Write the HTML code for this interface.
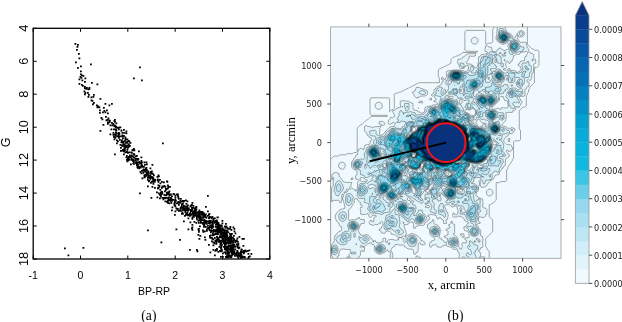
<!DOCTYPE html>
<html><head><meta charset="utf-8"><title>Figure</title>
<style>html,body{margin:0;padding:0;background:#fff;width:622px;height:322px;overflow:hidden}svg{display:block}</style>
</head><body>
<svg width="622" height="322" viewBox="0 0 622 322">
<defs><clipPath id="rc"><rect x="330.6" y="26.9" width="230.4" height="231.4"/></clipPath></defs>
<style>
.ls{font-family:"Liberation Sans",Arial,sans-serif;font-size:10.5px;fill:#000}
.dj{font-family:"DejaVu Sans",sans-serif;font-size:8.2px;fill:#222}
.ser{font-family:"Liberation Serif","Times New Roman",serif;font-size:12.6px;fill:#000}
</style>
<path d="M74.5 43h1.8v1.8h-1.8zM77 44h1.8v1.8h-1.8zM76.5 46h1.8v1.8h-1.8zM76 49h1.8v1.8h-1.8zM78 53h1.8v1.8h-1.8zM78.5 57.5h1.8v1.8h-1.8zM75 61.5h1.8v1.8h-1.8zM90 63.5h1.8v1.8h-1.8zM80 65.5h1.8v1.8h-1.8zM77 67h1.8v1.8h-1.8zM80 70.5h1.8v1.8h-1.8zM80 73.5h1.8v1.8h-1.8zM81 74.5h1.8v1.8h-1.8zM82.5 75h1.8v1.8h-1.8zM79.5 76h1.8v1.8h-1.8zM80.5 77h1.8v1.8h-1.8zM84.5 77.5h1.8v1.8h-1.8zM78.5 78.5h1.8v1.8h-1.8zM81.5 79.5h1.8v1.8h-1.8zM84 81h1.8v1.8h-1.8zM91 82h1.8v1.8h-1.8zM96.5 83.5h1.8v1.8h-1.8zM78.5 83h1.8v1.8h-1.8zM81 84h1.8v1.8h-1.8zM82 85h1.8v1.8h-1.8zM84 86h1.8v1.8h-1.8zM86 87h1.8v1.8h-1.8zM88.5 87h1.8v1.8h-1.8zM87.5 88.5h1.8v1.8h-1.8zM84 87.5h1.8v1.8h-1.8zM85.5 88h1.8v1.8h-1.8zM88.5 88h1.8v1.8h-1.8zM83.5 90.5h1.8v1.8h-1.8zM84.5 92h1.8v1.8h-1.8zM84 93.5h1.8v1.8h-1.8zM87 92h1.8v1.8h-1.8zM88 94h1.8v1.8h-1.8zM87.5 96h1.8v1.8h-1.8zM90.5 96.5h1.8v1.8h-1.8zM93 94h1.8v1.8h-1.8zM92.5 96h1.8v1.8h-1.8zM90.5 99.5h1.8v1.8h-1.8zM91.5 100h1.8v1.8h-1.8zM93 102h1.8v1.8h-1.8zM92 103.5h1.8v1.8h-1.8zM99.5 98h1.8v1.8h-1.8zM96 104.5h1.8v1.8h-1.8zM97.5 105.5h1.8v1.8h-1.8zM96.5 106.5h1.8v1.8h-1.8zM98.5 106.5h1.8v1.8h-1.8zM104.5 103h1.8v1.8h-1.8zM103 107h1.8v1.8h-1.8zM103.5 110h1.8v1.8h-1.8zM99 109.5h1.8v1.8h-1.8zM102 111.5h1.8v1.8h-1.8zM104.5 111.5h1.8v1.8h-1.8zM106 109.5h1.8v1.8h-1.8zM99 112h1.8v1.8h-1.8zM107 112.5h1.8v1.8h-1.8zM105 116h1.8v1.8h-1.8zM108.5 104.5h1.8v1.8h-1.8zM112.5 123h1.8v1.8h-1.8zM113.5 125.5h1.8v1.8h-1.8zM102.5 124h1.8v1.8h-1.8zM106.5 119h1.8v1.8h-1.8zM109 120h1.8v1.8h-1.8zM114.5 125h1.8v1.8h-1.8zM100.5 117h1.8v1.8h-1.8zM111.5 124.5h1.8v1.8h-1.8zM109.5 124.5h1.8v1.8h-1.8zM107 121.5h1.8v1.8h-1.8zM113.5 120h1.8v1.8h-1.8zM105.5 119.5h1.8v1.8h-1.8zM108.5 119.5h1.8v1.8h-1.8zM114 121h1.8v1.8h-1.8zM108.5 121.5h1.8v1.8h-1.8zM111 122h1.8v1.8h-1.8zM115.5 126h1.8v1.8h-1.8zM113.5 124.5h1.8v1.8h-1.8zM107 123h1.8v1.8h-1.8zM115.5 126h1.8v1.8h-1.8zM114 119h1.8v1.8h-1.8zM101.5 118.5h1.8v1.8h-1.8zM115.5 122.5h1.8v1.8h-1.8zM107.5 117.5h1.8v1.8h-1.8zM118 137h1.8v1.8h-1.8zM110.5 128.5h1.8v1.8h-1.8zM127.5 140h1.8v1.8h-1.8zM122.5 142h1.8v1.8h-1.8zM126.5 141h1.8v1.8h-1.8zM120 135.5h1.8v1.8h-1.8zM113.5 128.5h1.8v1.8h-1.8zM115.5 129.5h1.8v1.8h-1.8zM120.5 141.5h1.8v1.8h-1.8zM119.5 135.5h1.8v1.8h-1.8zM115 129h1.8v1.8h-1.8zM121 141h1.8v1.8h-1.8zM114.5 137h1.8v1.8h-1.8zM116.5 135.5h1.8v1.8h-1.8zM125.5 132.5h1.8v1.8h-1.8zM115.5 133h1.8v1.8h-1.8zM99.5 130h1.8v1.8h-1.8zM117 127h1.8v1.8h-1.8zM128.5 140.5h1.8v1.8h-1.8zM112.5 134h1.8v1.8h-1.8zM118.5 135.5h1.8v1.8h-1.8zM115 131.5h1.8v1.8h-1.8zM113.5 138.5h1.8v1.8h-1.8zM118.5 126.5h1.8v1.8h-1.8zM118 132.5h1.8v1.8h-1.8zM115.5 127h1.8v1.8h-1.8zM113 128.5h1.8v1.8h-1.8zM125 142h1.8v1.8h-1.8zM118 137h1.8v1.8h-1.8zM118 133.5h1.8v1.8h-1.8zM114.5 135h1.8v1.8h-1.8zM117 140.5h1.8v1.8h-1.8zM123.5 132h1.8v1.8h-1.8zM118 136h1.8v1.8h-1.8zM122 137.5h1.8v1.8h-1.8zM118 132h1.8v1.8h-1.8zM117.5 135h1.8v1.8h-1.8zM119 139h1.8v1.8h-1.8zM125.5 141.5h1.8v1.8h-1.8zM115 129h1.8v1.8h-1.8zM122 141.5h1.8v1.8h-1.8zM115 126.5h1.8v1.8h-1.8zM126.5 138.5h1.8v1.8h-1.8zM124.5 139.5h1.8v1.8h-1.8zM118 128.5h1.8v1.8h-1.8zM116 133h1.8v1.8h-1.8zM116 139.5h1.8v1.8h-1.8zM119.5 126.5h1.8v1.8h-1.8zM124.5 136.5h1.8v1.8h-1.8zM121 139.5h1.8v1.8h-1.8zM121.5 134.5h1.8v1.8h-1.8zM124.5 138h1.8v1.8h-1.8zM120.5 130h1.8v1.8h-1.8zM120.5 129.5h1.8v1.8h-1.8zM116 132.5h1.8v1.8h-1.8zM123 129h1.8v1.8h-1.8zM112.5 132h1.8v1.8h-1.8zM126.5 142h1.8v1.8h-1.8zM122 135.5h1.8v1.8h-1.8zM121.5 132h1.8v1.8h-1.8zM125.5 130.5h1.8v1.8h-1.8zM129.5 142h1.8v1.8h-1.8zM114 133.5h1.8v1.8h-1.8zM116 142.5h1.8v1.8h-1.8zM123 135h1.8v1.8h-1.8zM115 135h1.8v1.8h-1.8zM122.5 141h1.8v1.8h-1.8zM125 138.5h1.8v1.8h-1.8zM113 136h1.8v1.8h-1.8zM109.5 133.5h1.8v1.8h-1.8zM123.5 140.5h1.8v1.8h-1.8zM118.5 133h1.8v1.8h-1.8zM130.5 156h1.8v1.8h-1.8zM123 153.5h1.8v1.8h-1.8zM129 154.5h1.8v1.8h-1.8zM130.5 159h1.8v1.8h-1.8zM135 158h1.8v1.8h-1.8zM140.5 156.5h1.8v1.8h-1.8zM132 155.5h1.8v1.8h-1.8zM124 149.5h1.8v1.8h-1.8zM114 153.5h1.8v1.8h-1.8zM125 146h1.8v1.8h-1.8zM130 155.5h1.8v1.8h-1.8zM126 155h1.8v1.8h-1.8zM131 154.5h1.8v1.8h-1.8zM123 150h1.8v1.8h-1.8zM131.5 149h1.8v1.8h-1.8zM132 149.5h1.8v1.8h-1.8zM128 143.5h1.8v1.8h-1.8zM129.5 156.5h1.8v1.8h-1.8zM130.5 151.5h1.8v1.8h-1.8zM126.5 149h1.8v1.8h-1.8zM127 152h1.8v1.8h-1.8zM129 154.5h1.8v1.8h-1.8zM122 149h1.8v1.8h-1.8zM125.5 156.5h1.8v1.8h-1.8zM135.5 158h1.8v1.8h-1.8zM126.5 149h1.8v1.8h-1.8zM125.5 145h1.8v1.8h-1.8zM135 155.5h1.8v1.8h-1.8zM126 159h1.8v1.8h-1.8zM122 145h1.8v1.8h-1.8zM131 154.5h1.8v1.8h-1.8zM133 156.5h1.8v1.8h-1.8zM131 158h1.8v1.8h-1.8zM129 145h1.8v1.8h-1.8zM125 144.5h1.8v1.8h-1.8zM128 159h1.8v1.8h-1.8zM121 144.5h1.8v1.8h-1.8zM128.5 145.5h1.8v1.8h-1.8zM131 152h1.8v1.8h-1.8zM120 150h1.8v1.8h-1.8zM136 155h1.8v1.8h-1.8zM127.5 146h1.8v1.8h-1.8zM137.5 158h1.8v1.8h-1.8zM124 146.5h1.8v1.8h-1.8zM129.5 155.5h1.8v1.8h-1.8zM119.5 144h1.8v1.8h-1.8zM138 150.5h1.8v1.8h-1.8zM123 143.5h1.8v1.8h-1.8zM133 148h1.8v1.8h-1.8zM124 148h1.8v1.8h-1.8zM131 154.5h1.8v1.8h-1.8zM121 150h1.8v1.8h-1.8zM122.5 143.5h1.8v1.8h-1.8zM137 159h1.8v1.8h-1.8zM127 157.5h1.8v1.8h-1.8zM136.5 158h1.8v1.8h-1.8zM127 147h1.8v1.8h-1.8zM123 149h1.8v1.8h-1.8zM123.5 146.5h1.8v1.8h-1.8zM123 145h1.8v1.8h-1.8zM123.5 143.5h1.8v1.8h-1.8zM126 151h1.8v1.8h-1.8zM121.5 145h1.8v1.8h-1.8zM124 145.5h1.8v1.8h-1.8zM127.5 157h1.8v1.8h-1.8zM123 150.5h1.8v1.8h-1.8zM125 146h1.8v1.8h-1.8zM133.5 154h1.8v1.8h-1.8zM120 147h1.8v1.8h-1.8zM128.5 151.5h1.8v1.8h-1.8zM123.5 147.5h1.8v1.8h-1.8zM124.5 151.5h1.8v1.8h-1.8zM133 153h1.8v1.8h-1.8zM126.5 151.5h1.8v1.8h-1.8zM133.5 149.5h1.8v1.8h-1.8zM128 156h1.8v1.8h-1.8zM133.5 157h1.8v1.8h-1.8zM124.5 145.5h1.8v1.8h-1.8zM122 145h1.8v1.8h-1.8zM127 144.5h1.8v1.8h-1.8zM132.5 159h1.8v1.8h-1.8zM135 158.5h1.8v1.8h-1.8zM125.5 146.5h1.8v1.8h-1.8zM128.5 158.5h1.8v1.8h-1.8zM125 146h1.8v1.8h-1.8zM145 167.5h1.8v1.8h-1.8zM143.5 161.5h1.8v1.8h-1.8zM140 166.5h1.8v1.8h-1.8zM144 170h1.8v1.8h-1.8zM136 161.5h1.8v1.8h-1.8zM141 161.5h1.8v1.8h-1.8zM136 162h1.8v1.8h-1.8zM144 164h1.8v1.8h-1.8zM145.5 175h1.8v1.8h-1.8zM133 159.5h1.8v1.8h-1.8zM135.5 162.5h1.8v1.8h-1.8zM139 162h1.8v1.8h-1.8zM145.5 167h1.8v1.8h-1.8zM127.5 159.5h1.8v1.8h-1.8zM137 167h1.8v1.8h-1.8zM137 162h1.8v1.8h-1.8zM130 163.5h1.8v1.8h-1.8zM140.5 172.5h1.8v1.8h-1.8zM140.5 162.5h1.8v1.8h-1.8zM145.5 169.5h1.8v1.8h-1.8zM142 166h1.8v1.8h-1.8zM138.5 166h1.8v1.8h-1.8zM151 172.5h1.8v1.8h-1.8zM135 162h1.8v1.8h-1.8zM153 174.5h1.8v1.8h-1.8zM144.5 174h1.8v1.8h-1.8zM141 170h1.8v1.8h-1.8zM135 160h1.8v1.8h-1.8zM141.5 170h1.8v1.8h-1.8zM146 169h1.8v1.8h-1.8zM147.5 172h1.8v1.8h-1.8zM133 163h1.8v1.8h-1.8zM149.5 175h1.8v1.8h-1.8zM147 174h1.8v1.8h-1.8zM138.5 161h1.8v1.8h-1.8zM136 164.5h1.8v1.8h-1.8zM132 160h1.8v1.8h-1.8zM152 173h1.8v1.8h-1.8zM157.5 174.5h1.8v1.8h-1.8zM158 175.5h1.8v1.8h-1.8zM144 169.5h1.8v1.8h-1.8zM145.5 170h1.8v1.8h-1.8zM151 170.5h1.8v1.8h-1.8zM142.5 168.5h1.8v1.8h-1.8zM145.5 175h1.8v1.8h-1.8zM144 169h1.8v1.8h-1.8zM140.5 165h1.8v1.8h-1.8zM138.5 167.5h1.8v1.8h-1.8zM127 159.5h1.8v1.8h-1.8zM139.5 171h1.8v1.8h-1.8zM147.5 170.5h1.8v1.8h-1.8zM137 166h1.8v1.8h-1.8zM147 173.5h1.8v1.8h-1.8zM147 171.5h1.8v1.8h-1.8zM141.5 165h1.8v1.8h-1.8zM133 160.5h1.8v1.8h-1.8zM137.5 161.5h1.8v1.8h-1.8zM132.5 162.5h1.8v1.8h-1.8zM137 164h1.8v1.8h-1.8zM136.5 166.5h1.8v1.8h-1.8zM143.5 174.5h1.8v1.8h-1.8zM137.5 164h1.8v1.8h-1.8zM145.5 174h1.8v1.8h-1.8zM143.5 170.5h1.8v1.8h-1.8zM146.5 173.5h1.8v1.8h-1.8zM143 166h1.8v1.8h-1.8zM127 159.5h1.8v1.8h-1.8zM142.5 172h1.8v1.8h-1.8zM136 163.5h1.8v1.8h-1.8zM145.5 161.5h1.8v1.8h-1.8zM150.5 172.5h1.8v1.8h-1.8zM144.5 170.5h1.8v1.8h-1.8zM139.5 162.5h1.8v1.8h-1.8zM146 163.5h1.8v1.8h-1.8zM148 174.5h1.8v1.8h-1.8zM136 163.5h1.8v1.8h-1.8zM150 171h1.8v1.8h-1.8zM137.5 161.5h1.8v1.8h-1.8zM149.5 172.5h1.8v1.8h-1.8zM133 161h1.8v1.8h-1.8zM149.5 167.5h1.8v1.8h-1.8zM140.5 160h1.8v1.8h-1.8zM144.5 168.5h1.8v1.8h-1.8zM150 173h1.8v1.8h-1.8zM126.5 160.5h1.8v1.8h-1.8zM140.5 163.5h1.8v1.8h-1.8zM145.5 172h1.8v1.8h-1.8zM145 169h1.8v1.8h-1.8zM141 164.5h1.8v1.8h-1.8zM142.5 169.5h1.8v1.8h-1.8zM161 187h1.8v1.8h-1.8zM159.5 189h1.8v1.8h-1.8zM154 179.5h1.8v1.8h-1.8zM152.5 179.5h1.8v1.8h-1.8zM148 180.5h1.8v1.8h-1.8zM154 180.5h1.8v1.8h-1.8zM165 188h1.8v1.8h-1.8zM150 182h1.8v1.8h-1.8zM153 181h1.8v1.8h-1.8zM162 186h1.8v1.8h-1.8zM147 179h1.8v1.8h-1.8zM152.5 177.5h1.8v1.8h-1.8zM154 187h1.8v1.8h-1.8zM166 188h1.8v1.8h-1.8zM166 180.5h1.8v1.8h-1.8zM169 186h1.8v1.8h-1.8zM149.5 176.5h1.8v1.8h-1.8zM159.5 182.5h1.8v1.8h-1.8zM158.5 185h1.8v1.8h-1.8zM154 180h1.8v1.8h-1.8zM163 181.5h1.8v1.8h-1.8zM151.5 186h1.8v1.8h-1.8zM163.5 185.5h1.8v1.8h-1.8zM152 178h1.8v1.8h-1.8zM167 187.5h1.8v1.8h-1.8zM152 177h1.8v1.8h-1.8zM156 191.5h1.8v1.8h-1.8zM154.5 179h1.8v1.8h-1.8zM157.5 180h1.8v1.8h-1.8zM153 179h1.8v1.8h-1.8zM166 192h1.8v1.8h-1.8zM151.5 180.5h1.8v1.8h-1.8zM147 185.5h1.8v1.8h-1.8zM168 192h1.8v1.8h-1.8zM166.5 191.5h1.8v1.8h-1.8zM151.5 176.5h1.8v1.8h-1.8zM157.5 184.5h1.8v1.8h-1.8zM163.5 185.5h1.8v1.8h-1.8zM157 187.5h1.8v1.8h-1.8zM151 181h1.8v1.8h-1.8zM153.5 181h1.8v1.8h-1.8zM156.5 176h1.8v1.8h-1.8zM143.5 176.5h1.8v1.8h-1.8zM163.5 185h1.8v1.8h-1.8zM148 177h1.8v1.8h-1.8zM147 179h1.8v1.8h-1.8zM161 181h1.8v1.8h-1.8zM150.5 177h1.8v1.8h-1.8zM144 176h1.8v1.8h-1.8zM161 191h1.8v1.8h-1.8zM152.5 183h1.8v1.8h-1.8zM159 179h1.8v1.8h-1.8zM157.5 187.5h1.8v1.8h-1.8zM149.5 176h1.8v1.8h-1.8zM157 179.5h1.8v1.8h-1.8zM160 191.5h1.8v1.8h-1.8zM164 190.5h1.8v1.8h-1.8zM158.5 186h1.8v1.8h-1.8zM148.5 177h1.8v1.8h-1.8zM152 181h1.8v1.8h-1.8zM151 176h1.8v1.8h-1.8zM153 179.5h1.8v1.8h-1.8zM147.5 176h1.8v1.8h-1.8zM149.5 178h1.8v1.8h-1.8zM164.5 186h1.8v1.8h-1.8zM152.5 177.5h1.8v1.8h-1.8zM157 178.5h1.8v1.8h-1.8zM168.5 190.5h1.8v1.8h-1.8zM157.5 181h1.8v1.8h-1.8zM166.5 181h1.8v1.8h-1.8zM147 177h1.8v1.8h-1.8zM165 189h1.8v1.8h-1.8zM157.5 187h1.8v1.8h-1.8zM167 184.5h1.8v1.8h-1.8zM167.5 186h1.8v1.8h-1.8zM141.5 177.5h1.8v1.8h-1.8zM148.5 180h1.8v1.8h-1.8zM161.5 185.5h1.8v1.8h-1.8zM167 191.5h1.8v1.8h-1.8zM165 189h1.8v1.8h-1.8zM173.5 204h1.8v1.8h-1.8zM186.5 200.5h1.8v1.8h-1.8zM171.5 206.5h1.8v1.8h-1.8zM171 200h1.8v1.8h-1.8zM175 200h1.8v1.8h-1.8zM165 197h1.8v1.8h-1.8zM182.5 207.5h1.8v1.8h-1.8zM168 197.5h1.8v1.8h-1.8zM181 203.5h1.8v1.8h-1.8zM171 199h1.8v1.8h-1.8zM175.5 207.5h1.8v1.8h-1.8zM184 208h1.8v1.8h-1.8zM158 192.5h1.8v1.8h-1.8zM186 208.5h1.8v1.8h-1.8zM179.5 202h1.8v1.8h-1.8zM169 193.5h1.8v1.8h-1.8zM180.5 200.5h1.8v1.8h-1.8zM161 193h1.8v1.8h-1.8zM182.5 201h1.8v1.8h-1.8zM174.5 195h1.8v1.8h-1.8zM178 198h1.8v1.8h-1.8zM177.5 197h1.8v1.8h-1.8zM177 202h1.8v1.8h-1.8zM184 205.5h1.8v1.8h-1.8zM194 207.5h1.8v1.8h-1.8zM159 197.5h1.8v1.8h-1.8zM178 201.5h1.8v1.8h-1.8zM160 192.5h1.8v1.8h-1.8zM167.5 198.5h1.8v1.8h-1.8zM177 208h1.8v1.8h-1.8zM159 194h1.8v1.8h-1.8zM186.5 206.5h1.8v1.8h-1.8zM185.5 203h1.8v1.8h-1.8zM174.5 197h1.8v1.8h-1.8zM183 205h1.8v1.8h-1.8zM166 197h1.8v1.8h-1.8zM181.5 207h1.8v1.8h-1.8zM167.5 193.5h1.8v1.8h-1.8zM163.5 194h1.8v1.8h-1.8zM187 204.5h1.8v1.8h-1.8zM185 199.5h1.8v1.8h-1.8zM165.5 194.5h1.8v1.8h-1.8zM164.5 200.5h1.8v1.8h-1.8zM161.5 197h1.8v1.8h-1.8zM166 201h1.8v1.8h-1.8zM174 204.5h1.8v1.8h-1.8zM195.5 206.5h1.8v1.8h-1.8zM166 193h1.8v1.8h-1.8zM167 202h1.8v1.8h-1.8zM194.5 208.5h1.8v1.8h-1.8zM182 200h1.8v1.8h-1.8zM181 205h1.8v1.8h-1.8zM160 194h1.8v1.8h-1.8zM184.5 206.5h1.8v1.8h-1.8zM170.5 202h1.8v1.8h-1.8zM191.5 207h1.8v1.8h-1.8zM192.5 205h1.8v1.8h-1.8zM195 206.5h1.8v1.8h-1.8zM172.5 193h1.8v1.8h-1.8zM191 204h1.8v1.8h-1.8zM171 195.5h1.8v1.8h-1.8zM156.5 196.5h1.8v1.8h-1.8zM167.5 197.5h1.8v1.8h-1.8zM179.5 202h1.8v1.8h-1.8zM176 202.5h1.8v1.8h-1.8zM194.5 207.5h1.8v1.8h-1.8zM161.5 192.5h1.8v1.8h-1.8zM160 195.5h1.8v1.8h-1.8zM180 198h1.8v1.8h-1.8zM189.5 205.5h1.8v1.8h-1.8zM177.5 201h1.8v1.8h-1.8zM181.5 200.5h1.8v1.8h-1.8zM190.5 204.5h1.8v1.8h-1.8zM182 203h1.8v1.8h-1.8zM150.5 197h1.8v1.8h-1.8zM160 193.5h1.8v1.8h-1.8zM170 200h1.8v1.8h-1.8zM180 206.5h1.8v1.8h-1.8zM179 202h1.8v1.8h-1.8zM172.5 193h1.8v1.8h-1.8zM169 199.5h1.8v1.8h-1.8zM162.5 198.5h1.8v1.8h-1.8zM191.5 202h1.8v1.8h-1.8zM174 202h1.8v1.8h-1.8zM180 208h1.8v1.8h-1.8zM170.5 198h1.8v1.8h-1.8zM174.5 199h1.8v1.8h-1.8zM173.5 202.5h1.8v1.8h-1.8zM192.5 207h1.8v1.8h-1.8zM178 204h1.8v1.8h-1.8zM167 200h1.8v1.8h-1.8zM186 205.5h1.8v1.8h-1.8zM179.5 200h1.8v1.8h-1.8zM185 208h1.8v1.8h-1.8zM170 197h1.8v1.8h-1.8zM164.5 194.5h1.8v1.8h-1.8zM205 206h1.8v1.8h-1.8zM162.5 197h1.8v1.8h-1.8zM195.5 206h1.8v1.8h-1.8zM177.5 202h1.8v1.8h-1.8zM174 200.5h1.8v1.8h-1.8zM170 193.5h1.8v1.8h-1.8zM190 205h1.8v1.8h-1.8zM173.5 193.5h1.8v1.8h-1.8zM191.5 208h1.8v1.8h-1.8zM182.5 206.5h1.8v1.8h-1.8zM164 197h1.8v1.8h-1.8zM169 194.5h1.8v1.8h-1.8zM191 207h1.8v1.8h-1.8zM183.5 200h1.8v1.8h-1.8zM168.5 194h1.8v1.8h-1.8zM182 200.5h1.8v1.8h-1.8zM177.5 196.5h1.8v1.8h-1.8zM172.5 199h1.8v1.8h-1.8zM168.5 202.5h1.8v1.8h-1.8zM179.5 207.5h1.8v1.8h-1.8zM174.5 205.5h1.8v1.8h-1.8zM177 195h1.8v1.8h-1.8zM167.5 200h1.8v1.8h-1.8zM182.5 200.5h1.8v1.8h-1.8zM194 208.5h1.8v1.8h-1.8zM177 193.5h1.8v1.8h-1.8zM182 200.5h1.8v1.8h-1.8zM187 207.5h1.8v1.8h-1.8zM169.5 199h1.8v1.8h-1.8zM168 196.5h1.8v1.8h-1.8zM177.5 201.5h1.8v1.8h-1.8zM164.5 197.5h1.8v1.8h-1.8zM188 207.5h1.8v1.8h-1.8zM176 193.5h1.8v1.8h-1.8zM194 214h1.8v1.8h-1.8zM192 212h1.8v1.8h-1.8zM207 210.5h1.8v1.8h-1.8zM203.5 219.5h1.8v1.8h-1.8zM199 216.5h1.8v1.8h-1.8zM187 209h1.8v1.8h-1.8zM206.5 220.5h1.8v1.8h-1.8zM201.5 213h1.8v1.8h-1.8zM210 221.5h1.8v1.8h-1.8zM216.5 216.5h1.8v1.8h-1.8zM187.5 217.5h1.8v1.8h-1.8zM211.5 216h1.8v1.8h-1.8zM208.5 220h1.8v1.8h-1.8zM217 225h1.8v1.8h-1.8zM200 222h1.8v1.8h-1.8zM191 210h1.8v1.8h-1.8zM202.5 217h1.8v1.8h-1.8zM195 212.5h1.8v1.8h-1.8zM174.5 210.5h1.8v1.8h-1.8zM201 212h1.8v1.8h-1.8zM194.5 213h1.8v1.8h-1.8zM209.5 224.5h1.8v1.8h-1.8zM206.5 221h1.8v1.8h-1.8zM209 222.5h1.8v1.8h-1.8zM210 220h1.8v1.8h-1.8zM190.5 214h1.8v1.8h-1.8zM195 215h1.8v1.8h-1.8zM204 216h1.8v1.8h-1.8zM199 213.5h1.8v1.8h-1.8zM199 215.5h1.8v1.8h-1.8zM205 221.5h1.8v1.8h-1.8zM180 210h1.8v1.8h-1.8zM197.5 213h1.8v1.8h-1.8zM210.5 216.5h1.8v1.8h-1.8zM200 220h1.8v1.8h-1.8zM216 219.5h1.8v1.8h-1.8zM213.5 220.5h1.8v1.8h-1.8zM190 210.5h1.8v1.8h-1.8zM181.5 211.5h1.8v1.8h-1.8zM189 214h1.8v1.8h-1.8zM186.5 213.5h1.8v1.8h-1.8zM200 221h1.8v1.8h-1.8zM210.5 225h1.8v1.8h-1.8zM205 220h1.8v1.8h-1.8zM187.5 209h1.8v1.8h-1.8zM199 213.5h1.8v1.8h-1.8zM195.5 222h1.8v1.8h-1.8zM215 224h1.8v1.8h-1.8zM196 218.5h1.8v1.8h-1.8zM195.5 214.5h1.8v1.8h-1.8zM197 214.5h1.8v1.8h-1.8zM198.5 219h1.8v1.8h-1.8zM202 223h1.8v1.8h-1.8zM193 214.5h1.8v1.8h-1.8zM195.5 212h1.8v1.8h-1.8zM194 208.5h1.8v1.8h-1.8zM197.5 211h1.8v1.8h-1.8zM204 222.5h1.8v1.8h-1.8zM200.5 219h1.8v1.8h-1.8zM207 225h1.8v1.8h-1.8zM195 210h1.8v1.8h-1.8zM187 214.5h1.8v1.8h-1.8zM217.5 222h1.8v1.8h-1.8zM203.5 219.5h1.8v1.8h-1.8zM187 210h1.8v1.8h-1.8zM203.5 215.5h1.8v1.8h-1.8zM212.5 219h1.8v1.8h-1.8zM209.5 220h1.8v1.8h-1.8zM209 216h1.8v1.8h-1.8zM196 212h1.8v1.8h-1.8zM220.5 224.5h1.8v1.8h-1.8zM210.5 216.5h1.8v1.8h-1.8zM207 220.5h1.8v1.8h-1.8zM213 217.5h1.8v1.8h-1.8zM193.5 210h1.8v1.8h-1.8zM197 212.5h1.8v1.8h-1.8zM186 209.5h1.8v1.8h-1.8zM193.5 212h1.8v1.8h-1.8zM200.5 212h1.8v1.8h-1.8zM193 215.5h1.8v1.8h-1.8zM194.5 214h1.8v1.8h-1.8zM202.5 214.5h1.8v1.8h-1.8zM211.5 222h1.8v1.8h-1.8zM176.5 209h1.8v1.8h-1.8zM192.5 210.5h1.8v1.8h-1.8zM213.5 222h1.8v1.8h-1.8zM199 217.5h1.8v1.8h-1.8zM202.5 216h1.8v1.8h-1.8zM182 213h1.8v1.8h-1.8zM208.5 217.5h1.8v1.8h-1.8zM192 212.5h1.8v1.8h-1.8zM216 223h1.8v1.8h-1.8zM198 222h1.8v1.8h-1.8zM203.5 214h1.8v1.8h-1.8zM189.5 209h1.8v1.8h-1.8zM216.5 223.5h1.8v1.8h-1.8zM192.5 213.5h1.8v1.8h-1.8zM202.5 219.5h1.8v1.8h-1.8zM225 223h1.8v1.8h-1.8zM204 222h1.8v1.8h-1.8zM206 223h1.8v1.8h-1.8zM201 216.5h1.8v1.8h-1.8zM203.5 222.5h1.8v1.8h-1.8zM205.5 216.5h1.8v1.8h-1.8zM208.5 213h1.8v1.8h-1.8zM198 216.5h1.8v1.8h-1.8zM188 214h1.8v1.8h-1.8zM216.5 221.5h1.8v1.8h-1.8zM217 222.5h1.8v1.8h-1.8zM199.5 211h1.8v1.8h-1.8zM202 211.5h1.8v1.8h-1.8zM195 215h1.8v1.8h-1.8zM191.5 216.5h1.8v1.8h-1.8zM203.5 224.5h1.8v1.8h-1.8zM203 224h1.8v1.8h-1.8zM219 224.5h1.8v1.8h-1.8zM203.5 220.5h1.8v1.8h-1.8zM221.5 220h1.8v1.8h-1.8zM198 213h1.8v1.8h-1.8zM196 215h1.8v1.8h-1.8zM195.5 208.5h1.8v1.8h-1.8zM221.5 222.5h1.8v1.8h-1.8zM185.5 213h1.8v1.8h-1.8zM184.5 210h1.8v1.8h-1.8zM201 214h1.8v1.8h-1.8zM208 214h1.8v1.8h-1.8zM204.5 220.5h1.8v1.8h-1.8zM184.5 209h1.8v1.8h-1.8zM203 212.5h1.8v1.8h-1.8zM212 223.5h1.8v1.8h-1.8zM203.5 223h1.8v1.8h-1.8zM203.5 219h1.8v1.8h-1.8zM199.5 218h1.8v1.8h-1.8zM198 212.5h1.8v1.8h-1.8zM211.5 223h1.8v1.8h-1.8zM216 221h1.8v1.8h-1.8zM208 217h1.8v1.8h-1.8zM184.5 211.5h1.8v1.8h-1.8zM198.5 212h1.8v1.8h-1.8zM184 215h1.8v1.8h-1.8zM202 214h1.8v1.8h-1.8zM198.5 209.5h1.8v1.8h-1.8zM197.5 215.5h1.8v1.8h-1.8zM196 216h1.8v1.8h-1.8zM204 213.5h1.8v1.8h-1.8zM192.5 215h1.8v1.8h-1.8zM185 214h1.8v1.8h-1.8zM207 215h1.8v1.8h-1.8zM201 219h1.8v1.8h-1.8zM201 217h1.8v1.8h-1.8zM186.5 212h1.8v1.8h-1.8zM200.5 222h1.8v1.8h-1.8zM196 217h1.8v1.8h-1.8zM199.5 216h1.8v1.8h-1.8zM210 220.5h1.8v1.8h-1.8zM193.5 221h1.8v1.8h-1.8zM215.5 222.5h1.8v1.8h-1.8zM202 222h1.8v1.8h-1.8zM199.5 219.5h1.8v1.8h-1.8zM212 220.5h1.8v1.8h-1.8zM194 211.5h1.8v1.8h-1.8zM197.5 220h1.8v1.8h-1.8zM200.5 213h1.8v1.8h-1.8zM191.5 213h1.8v1.8h-1.8zM195 210.5h1.8v1.8h-1.8zM189 215h1.8v1.8h-1.8zM182 209h1.8v1.8h-1.8zM203.5 219.5h1.8v1.8h-1.8zM215 221h1.8v1.8h-1.8zM204 221.5h1.8v1.8h-1.8zM201 211h1.8v1.8h-1.8zM201 219h1.8v1.8h-1.8zM208 222.5h1.8v1.8h-1.8zM179 209.5h1.8v1.8h-1.8zM197.5 212h1.8v1.8h-1.8zM181 213h1.8v1.8h-1.8zM217 216.5h1.8v1.8h-1.8zM197 211.5h1.8v1.8h-1.8zM198.5 217.5h1.8v1.8h-1.8zM204.5 214.5h1.8v1.8h-1.8zM198.5 219.5h1.8v1.8h-1.8zM211 217.5h1.8v1.8h-1.8zM215 220h1.8v1.8h-1.8zM193 212.5h1.8v1.8h-1.8zM183 220.5h1.8v1.8h-1.8zM209 221h1.8v1.8h-1.8zM208 220.5h1.8v1.8h-1.8zM178 210h1.8v1.8h-1.8zM211 224.5h1.8v1.8h-1.8zM191.5 218h1.8v1.8h-1.8zM195 213h1.8v1.8h-1.8zM199 216h1.8v1.8h-1.8zM202 217h1.8v1.8h-1.8zM205.5 217h1.8v1.8h-1.8zM189 213h1.8v1.8h-1.8zM201 213h1.8v1.8h-1.8zM199 214.5h1.8v1.8h-1.8zM189.5 221.5h1.8v1.8h-1.8zM193 216h1.8v1.8h-1.8zM183.5 209.5h1.8v1.8h-1.8zM204.5 216h1.8v1.8h-1.8zM189.5 212h1.8v1.8h-1.8zM191 209h1.8v1.8h-1.8zM220 225h1.8v1.8h-1.8zM205 213.5h1.8v1.8h-1.8zM214 217.5h1.8v1.8h-1.8zM198 214.5h1.8v1.8h-1.8zM171 209.5h1.8v1.8h-1.8zM218 223.5h1.8v1.8h-1.8zM191.5 224h1.8v1.8h-1.8zM220.5 233h1.8v1.8h-1.8zM230.5 236h1.8v1.8h-1.8zM222 228.5h1.8v1.8h-1.8zM218 225.5h1.8v1.8h-1.8zM216.5 226.5h1.8v1.8h-1.8zM221.5 228h1.8v1.8h-1.8zM236 239.5h1.8v1.8h-1.8zM217 237h1.8v1.8h-1.8zM221.5 237.5h1.8v1.8h-1.8zM212 232.5h1.8v1.8h-1.8zM226.5 227h1.8v1.8h-1.8zM231 233h1.8v1.8h-1.8zM231 239.5h1.8v1.8h-1.8zM214 233.5h1.8v1.8h-1.8zM224.5 235.5h1.8v1.8h-1.8zM219 231.5h1.8v1.8h-1.8zM207 227.5h1.8v1.8h-1.8zM222 235.5h1.8v1.8h-1.8zM225.5 233h1.8v1.8h-1.8zM198 231h1.8v1.8h-1.8zM224.5 229.5h1.8v1.8h-1.8zM225.5 236.5h1.8v1.8h-1.8zM217.5 230.5h1.8v1.8h-1.8zM222 234.5h1.8v1.8h-1.8zM215.5 229.5h1.8v1.8h-1.8zM230.5 237.5h1.8v1.8h-1.8zM218.5 231.5h1.8v1.8h-1.8zM224 233h1.8v1.8h-1.8zM223.5 240.5h1.8v1.8h-1.8zM214 237h1.8v1.8h-1.8zM231 237.5h1.8v1.8h-1.8zM212.5 230.5h1.8v1.8h-1.8zM230.5 239h1.8v1.8h-1.8zM224 231.5h1.8v1.8h-1.8zM215.5 241.5h1.8v1.8h-1.8zM219.5 240h1.8v1.8h-1.8zM216 236h1.8v1.8h-1.8zM216.5 239h1.8v1.8h-1.8zM197.5 234h1.8v1.8h-1.8zM229.5 237h1.8v1.8h-1.8zM208.5 227h1.8v1.8h-1.8zM229.5 241.5h1.8v1.8h-1.8zM222 238.5h1.8v1.8h-1.8zM218 227.5h1.8v1.8h-1.8zM213 229h1.8v1.8h-1.8zM222.5 234.5h1.8v1.8h-1.8zM225 237.5h1.8v1.8h-1.8zM216.5 227.5h1.8v1.8h-1.8zM223.5 241h1.8v1.8h-1.8zM212.5 231h1.8v1.8h-1.8zM228 241.5h1.8v1.8h-1.8zM227 237.5h1.8v1.8h-1.8zM220 233h1.8v1.8h-1.8zM215 231h1.8v1.8h-1.8zM219 226.5h1.8v1.8h-1.8zM232.5 226.5h1.8v1.8h-1.8zM221.5 235.5h1.8v1.8h-1.8zM227 238h1.8v1.8h-1.8zM229 240h1.8v1.8h-1.8zM202.5 231h1.8v1.8h-1.8zM227.5 240.5h1.8v1.8h-1.8zM214 230h1.8v1.8h-1.8zM236 240.5h1.8v1.8h-1.8zM224.5 240.5h1.8v1.8h-1.8zM211 227.5h1.8v1.8h-1.8zM224 239.5h1.8v1.8h-1.8zM225.5 236.5h1.8v1.8h-1.8zM220 236.5h1.8v1.8h-1.8zM225 239h1.8v1.8h-1.8zM213 234h1.8v1.8h-1.8zM220.5 233.5h1.8v1.8h-1.8zM226 231h1.8v1.8h-1.8zM233 239.5h1.8v1.8h-1.8zM231 240h1.8v1.8h-1.8zM218.5 228h1.8v1.8h-1.8zM233 238h1.8v1.8h-1.8zM226 229.5h1.8v1.8h-1.8zM228.5 228h1.8v1.8h-1.8zM197.5 228.5h1.8v1.8h-1.8zM210 234.5h1.8v1.8h-1.8zM220.5 230h1.8v1.8h-1.8zM219.5 229h1.8v1.8h-1.8zM217.5 227h1.8v1.8h-1.8zM204 230.5h1.8v1.8h-1.8zM211.5 238h1.8v1.8h-1.8zM199 225.5h1.8v1.8h-1.8zM217 233h1.8v1.8h-1.8zM209 235h1.8v1.8h-1.8zM215 226h1.8v1.8h-1.8zM219 230h1.8v1.8h-1.8zM214.5 240h1.8v1.8h-1.8zM232 241.5h1.8v1.8h-1.8zM221.5 239h1.8v1.8h-1.8zM217.5 228h1.8v1.8h-1.8zM236.5 237.5h1.8v1.8h-1.8zM234.5 232.5h1.8v1.8h-1.8zM198 228h1.8v1.8h-1.8zM229 233h1.8v1.8h-1.8zM229.5 240.5h1.8v1.8h-1.8zM229 239.5h1.8v1.8h-1.8zM227.5 231.5h1.8v1.8h-1.8zM209.5 226h1.8v1.8h-1.8zM222 240h1.8v1.8h-1.8zM220 241.5h1.8v1.8h-1.8zM217 233.5h1.8v1.8h-1.8zM217 229h1.8v1.8h-1.8zM212.5 234h1.8v1.8h-1.8zM216.5 236.5h1.8v1.8h-1.8zM226 233h1.8v1.8h-1.8zM219.5 231h1.8v1.8h-1.8zM221 229h1.8v1.8h-1.8zM206 230h1.8v1.8h-1.8zM209 226h1.8v1.8h-1.8zM214.5 229.5h1.8v1.8h-1.8zM227 241h1.8v1.8h-1.8zM209.5 225.5h1.8v1.8h-1.8zM231 237h1.8v1.8h-1.8zM224.5 238h1.8v1.8h-1.8zM221.5 232h1.8v1.8h-1.8zM199.5 235h1.8v1.8h-1.8zM222.5 229h1.8v1.8h-1.8zM220.5 236h1.8v1.8h-1.8zM232 237h1.8v1.8h-1.8zM227.5 237h1.8v1.8h-1.8zM223 233h1.8v1.8h-1.8zM227 241h1.8v1.8h-1.8zM229.5 239.5h1.8v1.8h-1.8zM230 234.5h1.8v1.8h-1.8zM230.5 236.5h1.8v1.8h-1.8zM221.5 229.5h1.8v1.8h-1.8zM232.5 240.5h1.8v1.8h-1.8zM224.5 236h1.8v1.8h-1.8zM235 240h1.8v1.8h-1.8zM218.5 230h1.8v1.8h-1.8zM212.5 241.5h1.8v1.8h-1.8zM224.5 227h1.8v1.8h-1.8zM223 234h1.8v1.8h-1.8zM207.5 227h1.8v1.8h-1.8zM215.5 228.5h1.8v1.8h-1.8zM217.5 237.5h1.8v1.8h-1.8zM229.5 226h1.8v1.8h-1.8zM224 231.5h1.8v1.8h-1.8zM206 228.5h1.8v1.8h-1.8zM229.5 239h1.8v1.8h-1.8zM191.5 226.5h1.8v1.8h-1.8zM233.5 230.5h1.8v1.8h-1.8zM218.5 239.5h1.8v1.8h-1.8zM204 236.5h1.8v1.8h-1.8zM224.5 236.5h1.8v1.8h-1.8zM224.5 241.5h1.8v1.8h-1.8zM211 225.5h1.8v1.8h-1.8zM209 236h1.8v1.8h-1.8zM227.5 237.5h1.8v1.8h-1.8zM236.5 237.5h1.8v1.8h-1.8zM211 237h1.8v1.8h-1.8zM218 226.5h1.8v1.8h-1.8zM211 226.5h1.8v1.8h-1.8zM241.5 238h1.8v1.8h-1.8zM226.5 235h1.8v1.8h-1.8zM217 229.5h1.8v1.8h-1.8zM221 225.5h1.8v1.8h-1.8zM226 234h1.8v1.8h-1.8zM211 226.5h1.8v1.8h-1.8zM229.5 237.5h1.8v1.8h-1.8zM216.5 231h1.8v1.8h-1.8zM212.5 238.5h1.8v1.8h-1.8zM229.5 226.5h1.8v1.8h-1.8zM219.5 233.5h1.8v1.8h-1.8zM211 227h1.8v1.8h-1.8zM198.5 238h1.8v1.8h-1.8zM212 234.5h1.8v1.8h-1.8zM208.5 229h1.8v1.8h-1.8zM223 241h1.8v1.8h-1.8zM220.5 236.5h1.8v1.8h-1.8zM213 230.5h1.8v1.8h-1.8zM233.5 239h1.8v1.8h-1.8zM217.5 231.5h1.8v1.8h-1.8zM230 240.5h1.8v1.8h-1.8zM223.5 230h1.8v1.8h-1.8zM219.5 241.5h1.8v1.8h-1.8zM216 226h1.8v1.8h-1.8zM209.5 237h1.8v1.8h-1.8zM226.5 230h1.8v1.8h-1.8zM224.5 232h1.8v1.8h-1.8zM223.5 235.5h1.8v1.8h-1.8zM205 226h1.8v1.8h-1.8zM218.5 229h1.8v1.8h-1.8zM208 227h1.8v1.8h-1.8zM229.5 237.5h1.8v1.8h-1.8zM217 229h1.8v1.8h-1.8zM216.5 233.5h1.8v1.8h-1.8zM226 230.5h1.8v1.8h-1.8zM223 229h1.8v1.8h-1.8zM222.5 240.5h1.8v1.8h-1.8zM230.5 233.5h1.8v1.8h-1.8zM219 236h1.8v1.8h-1.8zM222 237h1.8v1.8h-1.8zM226 238.5h1.8v1.8h-1.8zM213 229.5h1.8v1.8h-1.8zM212 226.5h1.8v1.8h-1.8zM220.5 233h1.8v1.8h-1.8zM227.5 228h1.8v1.8h-1.8zM224 225.5h1.8v1.8h-1.8zM211 240.5h1.8v1.8h-1.8zM219 235.5h1.8v1.8h-1.8zM221 232h1.8v1.8h-1.8zM218.5 227.5h1.8v1.8h-1.8zM231 237.5h1.8v1.8h-1.8zM224.5 234h1.8v1.8h-1.8zM233.5 228h1.8v1.8h-1.8zM228.5 241.5h1.8v1.8h-1.8zM218 241h1.8v1.8h-1.8zM235.5 240.5h1.8v1.8h-1.8zM222.5 239h1.8v1.8h-1.8zM220.5 234h1.8v1.8h-1.8zM198 230h1.8v1.8h-1.8zM230.5 236h1.8v1.8h-1.8zM222 227.5h1.8v1.8h-1.8zM229 235.5h1.8v1.8h-1.8zM203 226h1.8v1.8h-1.8zM225.5 225.5h1.8v1.8h-1.8zM224 237h1.8v1.8h-1.8zM226.5 231h1.8v1.8h-1.8zM219 236.5h1.8v1.8h-1.8zM222.5 238h1.8v1.8h-1.8zM218 239h1.8v1.8h-1.8zM226 235.5h1.8v1.8h-1.8zM216 239h1.8v1.8h-1.8zM226 236h1.8v1.8h-1.8zM225 240.5h1.8v1.8h-1.8zM220.5 240h1.8v1.8h-1.8zM210 226h1.8v1.8h-1.8zM202 229.5h1.8v1.8h-1.8zM210 231.5h1.8v1.8h-1.8zM210.5 229.5h1.8v1.8h-1.8zM229 228h1.8v1.8h-1.8zM215 239.5h1.8v1.8h-1.8zM209 225.5h1.8v1.8h-1.8zM221 228h1.8v1.8h-1.8zM229 237.5h1.8v1.8h-1.8zM191.5 229h1.8v1.8h-1.8zM216 229.5h1.8v1.8h-1.8zM228 241h1.8v1.8h-1.8zM230.5 237.5h1.8v1.8h-1.8zM217 232.5h1.8v1.8h-1.8zM208 227.5h1.8v1.8h-1.8zM209 229.5h1.8v1.8h-1.8zM234.5 241.5h1.8v1.8h-1.8zM227.5 238h1.8v1.8h-1.8zM210.5 226.5h1.8v1.8h-1.8zM227 237h1.8v1.8h-1.8zM221.5 231.5h1.8v1.8h-1.8zM230 237h1.8v1.8h-1.8zM210.5 230h1.8v1.8h-1.8zM191 227.5h1.8v1.8h-1.8zM212.5 225.5h1.8v1.8h-1.8zM211.5 230h1.8v1.8h-1.8zM227 239.5h1.8v1.8h-1.8zM222.5 240h1.8v1.8h-1.8zM221 236.5h1.8v1.8h-1.8zM227.5 237.5h1.8v1.8h-1.8zM187.5 228.5h1.8v1.8h-1.8zM220 231h1.8v1.8h-1.8zM229 240h1.8v1.8h-1.8zM229 241.5h1.8v1.8h-1.8zM224 232.5h1.8v1.8h-1.8zM216.5 238h1.8v1.8h-1.8zM216 240.5h1.8v1.8h-1.8zM228.5 241.5h1.8v1.8h-1.8zM222.5 230h1.8v1.8h-1.8zM238.5 236h1.8v1.8h-1.8zM225 231.5h1.8v1.8h-1.8zM215.5 233h1.8v1.8h-1.8zM222.5 233h1.8v1.8h-1.8zM213 229.5h1.8v1.8h-1.8zM203.5 225.5h1.8v1.8h-1.8zM243 238h1.8v1.8h-1.8zM226.5 236.5h1.8v1.8h-1.8zM204.5 239h1.8v1.8h-1.8zM220 227.5h1.8v1.8h-1.8zM230.5 229h1.8v1.8h-1.8zM225 235h1.8v1.8h-1.8zM235 240.5h1.8v1.8h-1.8zM214.5 233h1.8v1.8h-1.8zM175.5 228.5h1.8v1.8h-1.8zM233 235h1.8v1.8h-1.8zM237 241h1.8v1.8h-1.8zM229.5 239.5h1.8v1.8h-1.8zM227.5 240h1.8v1.8h-1.8zM222.5 232h1.8v1.8h-1.8zM226.5 242.5h1.8v1.8h-1.8zM240 250.5h1.8v1.8h-1.8zM236.5 254h1.8v1.8h-1.8zM227.5 254h1.8v1.8h-1.8zM228 251.5h1.8v1.8h-1.8zM219.5 242h1.8v1.8h-1.8zM232.5 248h1.8v1.8h-1.8zM240 255.5h1.8v1.8h-1.8zM249 255.5h1.8v1.8h-1.8zM231.5 248h1.8v1.8h-1.8zM241 251h1.8v1.8h-1.8zM231 247h1.8v1.8h-1.8zM231 254.5h1.8v1.8h-1.8zM248.5 249.5h1.8v1.8h-1.8zM220.5 244h1.8v1.8h-1.8zM228.5 245h1.8v1.8h-1.8zM224 247.5h1.8v1.8h-1.8zM234 252.5h1.8v1.8h-1.8zM241.5 256h1.8v1.8h-1.8zM232 249h1.8v1.8h-1.8zM219.5 244h1.8v1.8h-1.8zM229.5 245.5h1.8v1.8h-1.8zM225 253h1.8v1.8h-1.8zM242 251.5h1.8v1.8h-1.8zM238.5 254.5h1.8v1.8h-1.8zM229 251.5h1.8v1.8h-1.8zM231 250h1.8v1.8h-1.8zM227.5 247h1.8v1.8h-1.8zM250.5 253h1.8v1.8h-1.8zM227.5 246.5h1.8v1.8h-1.8zM240 256h1.8v1.8h-1.8zM241 249h1.8v1.8h-1.8zM230.5 242h1.8v1.8h-1.8zM230.5 246h1.8v1.8h-1.8zM226.5 242h1.8v1.8h-1.8zM220.5 243h1.8v1.8h-1.8zM233.5 244h1.8v1.8h-1.8zM236.5 250.5h1.8v1.8h-1.8zM233.5 251.5h1.8v1.8h-1.8zM227 252.5h1.8v1.8h-1.8zM240 254h1.8v1.8h-1.8zM230 248.5h1.8v1.8h-1.8zM228.5 241.5h1.8v1.8h-1.8zM236.5 255.5h1.8v1.8h-1.8zM238 247.5h1.8v1.8h-1.8zM216 248h1.8v1.8h-1.8zM221 250h1.8v1.8h-1.8zM237.5 244h1.8v1.8h-1.8zM222 256h1.8v1.8h-1.8zM227.5 254h1.8v1.8h-1.8zM215.5 243h1.8v1.8h-1.8zM244.5 249.5h1.8v1.8h-1.8zM226.5 255.5h1.8v1.8h-1.8zM232 248h1.8v1.8h-1.8zM232 253.5h1.8v1.8h-1.8zM226 242.5h1.8v1.8h-1.8zM237.5 247h1.8v1.8h-1.8zM235 253.5h1.8v1.8h-1.8zM226.5 245.5h1.8v1.8h-1.8zM238.5 255h1.8v1.8h-1.8zM239 255.5h1.8v1.8h-1.8zM229 242.5h1.8v1.8h-1.8zM223 242.5h1.8v1.8h-1.8zM227.5 251h1.8v1.8h-1.8zM213.5 242h1.8v1.8h-1.8zM220 243.5h1.8v1.8h-1.8zM230 256.5h1.8v1.8h-1.8zM209.5 251.5h1.8v1.8h-1.8zM225 243.5h1.8v1.8h-1.8zM214.5 250h1.8v1.8h-1.8zM241.5 255.5h1.8v1.8h-1.8zM228 256h1.8v1.8h-1.8zM228.5 251.5h1.8v1.8h-1.8zM237.5 247h1.8v1.8h-1.8zM224 247.5h1.8v1.8h-1.8zM237 246.5h1.8v1.8h-1.8zM244 250.5h1.8v1.8h-1.8zM215 249h1.8v1.8h-1.8zM243.5 250h1.8v1.8h-1.8zM238.5 246.5h1.8v1.8h-1.8zM230 247h1.8v1.8h-1.8zM227.5 248h1.8v1.8h-1.8zM229.5 249h1.8v1.8h-1.8zM196 249h1.8v1.8h-1.8zM220 247h1.8v1.8h-1.8zM230 246.5h1.8v1.8h-1.8zM226.5 247h1.8v1.8h-1.8zM227.5 246.5h1.8v1.8h-1.8zM227 247h1.8v1.8h-1.8zM231.5 245h1.8v1.8h-1.8zM227 251.5h1.8v1.8h-1.8zM232.5 253h1.8v1.8h-1.8zM220 256h1.8v1.8h-1.8zM237.5 243h1.8v1.8h-1.8zM218.5 246h1.8v1.8h-1.8zM228 244.5h1.8v1.8h-1.8zM228 248h1.8v1.8h-1.8zM232.5 246h1.8v1.8h-1.8zM236.5 250h1.8v1.8h-1.8zM242.5 245h1.8v1.8h-1.8zM247.5 257h1.8v1.8h-1.8zM243.5 256.5h1.8v1.8h-1.8zM236.5 250.5h1.8v1.8h-1.8zM232.5 251h1.8v1.8h-1.8zM220.5 248.5h1.8v1.8h-1.8zM236 253h1.8v1.8h-1.8zM227.5 256.5h1.8v1.8h-1.8zM227 248h1.8v1.8h-1.8zM231 247h1.8v1.8h-1.8zM224 247h1.8v1.8h-1.8zM237 251.5h1.8v1.8h-1.8zM236.5 245.5h1.8v1.8h-1.8zM240 257h1.8v1.8h-1.8zM223 242.5h1.8v1.8h-1.8zM234 245.5h1.8v1.8h-1.8zM227.5 242.5h1.8v1.8h-1.8zM236 254.5h1.8v1.8h-1.8zM231 251.5h1.8v1.8h-1.8zM243.5 256h1.8v1.8h-1.8zM227.5 246.5h1.8v1.8h-1.8zM214 254.5h1.8v1.8h-1.8zM226.5 254.5h1.8v1.8h-1.8zM224 242h1.8v1.8h-1.8zM212.5 244.5h1.8v1.8h-1.8zM219 250h1.8v1.8h-1.8zM234 245.5h1.8v1.8h-1.8zM225 247h1.8v1.8h-1.8zM239.5 252h1.8v1.8h-1.8zM225.5 256.5h1.8v1.8h-1.8zM237.5 257h1.8v1.8h-1.8zM223.5 241.5h1.8v1.8h-1.8zM220.5 245.5h1.8v1.8h-1.8zM223 246h1.8v1.8h-1.8zM238 253.5h1.8v1.8h-1.8zM228.5 255h1.8v1.8h-1.8zM240.5 248.5h1.8v1.8h-1.8zM225 256h1.8v1.8h-1.8zM222 252.5h1.8v1.8h-1.8zM236 243.5h1.8v1.8h-1.8zM232 242h1.8v1.8h-1.8zM242 256.5h1.8v1.8h-1.8zM223.5 251.5h1.8v1.8h-1.8zM225 252h1.8v1.8h-1.8zM232.5 249h1.8v1.8h-1.8zM224 245.5h1.8v1.8h-1.8zM228 252.5h1.8v1.8h-1.8zM231.5 247.5h1.8v1.8h-1.8zM231.5 245.5h1.8v1.8h-1.8zM196.5 250.5h1.8v1.8h-1.8zM234 255h1.8v1.8h-1.8zM231 252.5h1.8v1.8h-1.8zM229.5 246.5h1.8v1.8h-1.8zM220.5 242.5h1.8v1.8h-1.8zM222.5 241.5h1.8v1.8h-1.8zM235.5 253h1.8v1.8h-1.8zM224 248.5h1.8v1.8h-1.8zM224 251.5h1.8v1.8h-1.8zM232 252.5h1.8v1.8h-1.8zM243 252.5h1.8v1.8h-1.8zM231 249.5h1.8v1.8h-1.8zM229 248.5h1.8v1.8h-1.8zM226.5 256.5h1.8v1.8h-1.8zM225.5 246h1.8v1.8h-1.8zM243.5 251h1.8v1.8h-1.8zM232.5 242h1.8v1.8h-1.8zM231 250.5h1.8v1.8h-1.8zM231.5 247.5h1.8v1.8h-1.8zM240.5 254h1.8v1.8h-1.8zM234.5 248.5h1.8v1.8h-1.8zM237 255h1.8v1.8h-1.8zM225.5 248.5h1.8v1.8h-1.8zM229.5 255.5h1.8v1.8h-1.8zM236.5 244.5h1.8v1.8h-1.8zM217.5 251h1.8v1.8h-1.8zM233 253h1.8v1.8h-1.8zM229 249h1.8v1.8h-1.8zM225 252h1.8v1.8h-1.8zM231.5 251.5h1.8v1.8h-1.8zM233 244h1.8v1.8h-1.8zM233.5 250.5h1.8v1.8h-1.8zM227 246h1.8v1.8h-1.8zM236 254.5h1.8v1.8h-1.8zM226 246.5h1.8v1.8h-1.8zM224.5 243.5h1.8v1.8h-1.8zM236 251.5h1.8v1.8h-1.8zM231.5 244h1.8v1.8h-1.8zM240 253h1.8v1.8h-1.8zM221 249h1.8v1.8h-1.8zM233.5 245.5h1.8v1.8h-1.8zM230 250h1.8v1.8h-1.8zM227.5 245.5h1.8v1.8h-1.8zM221 244h1.8v1.8h-1.8zM231.5 249.5h1.8v1.8h-1.8zM230 244.5h1.8v1.8h-1.8zM229.5 254.5h1.8v1.8h-1.8zM244 256.5h1.8v1.8h-1.8zM212.5 249h1.8v1.8h-1.8zM227 245.5h1.8v1.8h-1.8zM232.5 246.5h1.8v1.8h-1.8zM224 244h1.8v1.8h-1.8zM216 249.5h1.8v1.8h-1.8zM230.5 256h1.8v1.8h-1.8zM247 250h1.8v1.8h-1.8zM226 255.5h1.8v1.8h-1.8zM225.5 242.5h1.8v1.8h-1.8zM238.5 255h1.8v1.8h-1.8zM220.5 246h1.8v1.8h-1.8zM230.5 247h1.8v1.8h-1.8zM227 249.5h1.8v1.8h-1.8zM241 256.5h1.8v1.8h-1.8zM240.5 251.5h1.8v1.8h-1.8zM234.5 246h1.8v1.8h-1.8zM208 244h1.8v1.8h-1.8zM232.5 253.5h1.8v1.8h-1.8zM226.5 256h1.8v1.8h-1.8zM240.5 255h1.8v1.8h-1.8zM243 250h1.8v1.8h-1.8zM225.5 250h1.8v1.8h-1.8zM247.5 253h1.8v1.8h-1.8zM220 250.5h1.8v1.8h-1.8zM248 256h1.8v1.8h-1.8zM224.5 242h1.8v1.8h-1.8zM213.5 242.5h1.8v1.8h-1.8zM238 252.5h1.8v1.8h-1.8zM245.5 250.5h1.8v1.8h-1.8zM139 66.5h1.8v1.8h-1.8zM133 77.5h1.8v1.8h-1.8zM141 79.5h1.8v1.8h-1.8zM64 247.5h1.8v1.8h-1.8zM67.5 254.5h1.8v1.8h-1.8zM82.5 247h1.8v1.8h-1.8zM160.5 241.5h1.8v1.8h-1.8zM147 229.5h1.8v1.8h-1.8zM162 142.5h1.8v1.8h-1.8zM139 192.5h1.8v1.8h-1.8zM207 195h1.8v1.8h-1.8zM151.5 164h1.8v1.8h-1.8zM111 103h1.8v1.8h-1.8zM174 214h1.8v1.8h-1.8zM179 239h1.8v1.8h-1.8zM189 249h1.8v1.8h-1.8z" fill="#000"/>
<rect x="33.2" y="28.3" width="236.6" height="230.7" fill="none" stroke="#000" stroke-width="1.3"/>
<path d="M33.2 259.0v-3.5M33.2 28.3v3.5M80.5 259.0v-3.5M80.5 28.3v3.5M127.8 259.0v-3.5M127.8 28.3v3.5M175.2 259.0v-3.5M175.2 28.3v3.5M222.5 259.0v-3.5M222.5 28.3v3.5M269.8 259.0v-3.5M269.8 28.3v3.5M33.2 28.3h3.5M269.8 28.3h-3.5M33.2 61.3h3.5M269.8 61.3h-3.5M33.2 94.2h3.5M269.8 94.2h-3.5M33.2 127.2h3.5M269.8 127.2h-3.5M33.2 160.1h3.5M269.8 160.1h-3.5M33.2 193.1h3.5M269.8 193.1h-3.5M33.2 226.0h3.5M269.8 226.0h-3.5M33.2 259.0h3.5M269.8 259.0h-3.5" stroke="#000" stroke-width="1" fill="none"/>
<text x="33.2" y="279" class="ls" text-anchor="middle">-1</text>
<text x="80.5" y="279" class="ls" text-anchor="middle">0</text>
<text x="127.8" y="279" class="ls" text-anchor="middle">1</text>
<text x="175.2" y="279" class="ls" text-anchor="middle">2</text>
<text x="222.5" y="279" class="ls" text-anchor="middle">3</text>
<text x="269.8" y="279" class="ls" text-anchor="middle">4</text>
<text transform="translate(27.6 28.3) rotate(-90)" class="ls" style="font-size:12.8px" text-anchor="middle">4</text>
<text transform="translate(27.6 61.3) rotate(-90)" class="ls" style="font-size:12.8px" text-anchor="middle">6</text>
<text transform="translate(27.6 94.2) rotate(-90)" class="ls" style="font-size:12.8px" text-anchor="middle">8</text>
<text transform="translate(27.6 127.2) rotate(-90)" class="ls" style="font-size:12.8px" text-anchor="middle">10</text>
<text transform="translate(27.6 160.1) rotate(-90)" class="ls" style="font-size:12.8px" text-anchor="middle">12</text>
<text transform="translate(27.6 193.1) rotate(-90)" class="ls" style="font-size:12.8px" text-anchor="middle">14</text>
<text transform="translate(27.6 226.0) rotate(-90)" class="ls" style="font-size:12.8px" text-anchor="middle">16</text>
<text transform="translate(27.6 259.0) rotate(-90)" class="ls" style="font-size:12.8px" text-anchor="middle">18</text>
<text x="154" y="295" class="ls" text-anchor="middle">BP-RP</text>
<text transform="translate(10.3 142.3) rotate(-90)" class="ls" style="font-size:12.6px" text-anchor="middle">G</text>
<text x="148.9" y="319.8" class="ser" style="font-size:13.6px" text-anchor="middle">(a)</text>
<g clip-path="url(#rc)"><rect x="330.6" y="26.9" width="230.4" height="231.4" fill="#f0f9fd"/><path d="M497.3 26.9l7.1 0 .5 1.2 .5 .1 1.2 3.3 1.5 1.2 2.7 1.2 .4 1.3 1.2 .4 .4 1.8 .7 .6 1.2 .1 .9-.7 .2-1.5 1.2-.9-.1-1.1 2.4-2.9 2.3-.4 1.9 1 1 2.3-.4 1.1-1.3 1.6-1.2 .3-2.3 .2-1.1-.9-.7 1.2 .5 2.3 1.5 1.2 .4 1.1 .6 .5 3.5-.4 2.3 .5 .6 4.1 1.7 2.7 .1 1.9 .6 1.2 1.6 .3 .5 .8 1.8 .3 .6 .9-.1 3.5 .7 .8 1.1 .2 .4 3.6-.4 .5-1.1 .2-.6 .5 .1 2.3-.5 5.8-.2 .7-1.2 .5-.3 3.5-.8 3.1-1.2 .5-1.1-.8-1.2 .1-.4 .6 0 1.2 .4 .3 1.2 .1 .6 .7 0 1.2-.6 2.6-1.2 .2-.7 .7-.2 1.1-1.4 .5-.3 .7 .2 3.5-.3 2.3-.7 .8-3.5 0-.9 .4-.2 1.1 .9 1.2 .2 1.4 1.1 .3 .4 .6 0 1.2-.4 .8-.7 .3 .1 1.2-1.3 1.2-.4 1.3-1.8-.2-.5-.9-.4 .9-.8 .4-.2 2-.9 .7-2 .4 .1 1.2-.4 .6-4.7 0-2.1 .5 .7 3.5-.2 2.4-.7 2.3-3.5 3.5 .1 1.2 3.4 .6 2.2 1.7 2.5 .4 1.1-1 1.2 0 .5 .6 1.8 .4 .4 .7-.1 1.2-1.5 1-.3 1.3-.8 .6-3.3 .6-1.4 2.2-1.3 .1-.5 1.2-1.6 1.5-.7 2 .7 1.2 2.3 2.2 1.1 .4 2.4-.2 1.3 1 .2 1.2 .8 .5 .1 .6-.1 2-3.5 2.2-1.2-2.1-1.1 .4-.3 1 .9 1.2 .1 1.1 2.2 1.2-.8 2.3-1 .8-1.1 .1-1.1 1.5-.2 4.6 .4 1.2-2 1.1-.6 1.7-1.1 .4-.6 1.4-1.5 1.2-1 3.5-1.6 .1-2.3 .8-1.2 3.1-2.3 1.6-1.3 .2-.2 1.2-.8 1-.7 .1-2.2 3.5-1.7 .8-3.5 .3-1-2.3 .2-3.4-.3-1.2-1.1 1.2 1 2.3-1.3 2.3-.2 4.7-.8 .8-1.2 .3-.4 3.5 .5 .8 1.6 .4 .9 1.1 3.5 1.2 .5 4.6-.4 3.5 .8 .6 2.7 .6 .7 1.2 .1 4.9-1.2 .4-.3 1.6-.8 .8-3.5 .3-1.1-.9-1.2 .4-.3 4.1 .3 .8 1.5 .4-.2 1.1-1.3 .1-2.3 1.1 1.8 2.3 .5 1.3 1.2 1 .9 2.4-.5 3.4 .7 1 1.3 .2 .6 2.3-.4 3.5 .4 4.7-.7 .6-1.6 .5-.1 1.2-.6 .8-1.3 .4-.1 1.1 .2 .4 1.2 .2 .3 .6 .3 3.5 .5 .8 3.5 .2 .1 1.3-4.3 0-.1-1.2-.3-.1-.6 .1-.4 1.2-13 0-1.2-1.2-1.1-.1-1.4 .1-.2 1.2-3.4 0 .6-2.3-.2-3.5-1.1-.4-.6-.8-.1-2.3-.5-.3-2.3 .8-1.2 0-1.1-1.8-3.5-1.1-1.2 0-.9-1.1-.2-1.4-1.2 1-2 .4-.3 .7-2.3 1.2-3.5-.5-.3-1.4-.8-.9-3.5 .5-1.2 2.1-1.1 0-.5-.5-.1-3.5 .6-.8 1.3-.4 .3-1.1 .7-.4 1.1-.1 1.3-.7-.9-2.3-2.7-1.4-1.1-1.2-.7-2.1 0-3.5-2-1.1-.1-3.5 .5-.5 1.1-.1 .8-.6 .2-1.1 1.3-.1 .9-1.1 .3-1.4 1.3 .2 .1 3.5 .9 .8 1.2 .2 2.3 1.4 1.7 2.3 .3 3.5-1.2 5.8 .3 .7 1.8 .4 .4 1.2 1.3 .2 .8 1 .4 1.3 1.1 .1 1.2 .8 .5-1.1 .7-3.5-3.5-1.4 .2-.9 3.5-1.2 .3-3.4-.6-1-1.3-.2-.1-1.2 .3-.3 3.2-.8 .3-1.4-1.2-.7 0-1.4 1.2-.3 .9-.9 .2-1.9 1.2-.1 .2 2 2.2 1.2 .1 8.1-.2 .9-1.2 .2 0 .5 .6 .7 2.9 1.7 .9 1.8 1.2 4.7 0 2.3-.6 1.2 1.4 1.1 .4 1.2 1.4 0 .7-2.3-.2-3.5 .6-.7 3.5 .5 .4-1 0-1.1-.4-.9-1.2-.3 0-1.6 4.2-.7 .1-2.4-1-3.4-3.8-1.2-.5-2.3 .1-1.2 2.1-.7 1.1-2.4 1.3-.4-.2-1.1-3.2-1.2-1.4-2.8-2.3-1.5-2-.4-.3-.5-1.1 .2-1.2 .9-3.5 0-.7-.6 0-1.1 .7-2.4 .8 .1 .4 1.1 1.1 .6 1.2 0 .7-.6 .7-3.5-.8-1.1-.4-3.5-2.2 0-.3 .4-2.3 .6-1.2-.6-1.1-1.5-1.2-.3-2.3 .2-1.2 .4-.6 .8 .1 1.1 1 1.2 .7 3.5 1.1 .3 .7 3.2-.7 4-1.5 .6-.1 1.2 .5 1.1 .4 .1-.4 1.1-2.3 .3-.6-.3-.2-3.5-2.3-1.1-.4-1.2-1.3 0-.3 1.2-1.9 0-1-3.5-4.8-.8-3.4 .7-.1 1.2 1.2 .3 .6 .9-.1 1.2-.5 .9-1.1 .7-.2 .7-3.5 2.3 .2 1.4-1.2 .7-4.6-.2-1.2 .8-1.1 0-1.2 2.3-1.1 0-.4-.3-.1-3.5-.7-2.4-3.5-.2-.4 1.4-.7 .8-3.9 .4 .4 1.1-.7 1.2 2 4.7 .3 2.3-.8 1.1 .3 1.2-1.1 .3-1.2-.5-2.3 1.3-.9 .1 3.5 1.1 0 3.5 .9 .8 1.3-.8-.1-5.8 1.1-.9 1.8-.3 2.8-1.5 1.2 0 5.1 2.7 2.7 2.3 .3 2.1 1.6 .3 1.9 1 .8 1.3-.1 1.1-.7 .5-2.3 .1-1.2-.1-.4-1.6-.8-.7-1.1 .6-.4 1.2 .1 4.7-.4 2.3-.5 .9-1.3 .3-.1 1.1-.9 .8-1.1-.2-.3-.6-.3-3.4-.6-.8-3.8-.4-2-.7-1.1-1.1-1.6-.5-.1-1.2-.7-.7-3.4 .5-1.2-.5-3.5-.3-.7 1-.2 1.2-1.4 .3-1.1 .8-.3 1.2-.9 1.2 0 1.1 1.2 .5 .3 .7 .6 3.5-.3 2.3-2.3 0 0-5.8-.7-.8-1.1-.1-.5-1.4-.7-.4-1.1 1.7-4.7 2.4-1.1 .3-2.3-.2-2.3-1.5-.9-1.2-.6-2.3 .2-3.5-1.1-1-1.3-.2-1-1.9-1 .8-2.5 .7-1.1 1-1.2 .3-1.1 1.4-1.2 0-1.1-.9-1.2-.2-.6 1.2 .6 .5 3.5-.3 .3 .9-.2 3.5-1.9 0-.4-1.1-.5 0-.8 1.1-.5 4.7-.7 .7-1.1 .2-.2 1.4-7.8 0-.1-1.3-1.2-.3-.1-.7 .1-1.5 .9-.9 .6-2.3-.3-1.7-3.5-.1-3.5-.7-2.3 .5-1 .9-1.1 3.4-.1 2.4-1.3 .4-.6 1.9-4.2 0-1.3-3.5-.5-3.5 .1-3.5 .8-3.2 2.3-3.2 .1-2.9 1-3.2 .8-.3 1.4-2.3 1.3-1 2.3-.8 .8-1.7-.2-2.3-1.7-.6-1.2-3.3-1.2-.9-1.4-2.2-.9-2.3 .2-2.3 1.2-2.3 2.1-2.3 2.3-1.3 3.5-.9 .4-1.4-.7-3.5-1.7-4.6 .8-3.1 0-1.7-1.1 .2-.4 1.1 .2 3.5-1 3.7-1.3-.2-.2-1.2-.8-1-5.8 .1-1 .9-.1 .6-.5-7.6 .4-6.9 1.6-1.2-.1-4.6 .7-3.5-1-.8-.5 .8 0 1.1-.6 .9 0-4.9 .7-.6 .4-1.3 2.3-.8 1.2 0 1.1 .7 1.2 .1 .9 3.6 1.4 1.3 2.3 3.5 2.4 .7 5.7 0 .6 .3-.9 1.2-.1 2.3-1.6 1.2 .2 1.1 .7 .9 1.1-1.7 1.2 .5 1.2 1.3 1.4 .2 .2 1.2 .7 .3 .3-.3 .2-1.2 .8-1.2 .2-5.8 1.4-2.3-.6-.7-2.5-.5-.5-2.3 .1-1.2 1.6-1.1 0-2.3-.4-1.2-1.6-1.2-1.3-.4-1.8-1.9-.5-2.3 0-2.4 .9-2.3 1.2-1.1 .4-1.2 1.1-1.2 1-2 1.2-.3 .3-1.2-.3-1.1 .8-1.2 .3-1.8 2.3-1.2 1.2 .3 1.1 1.1 1.2-.6-.1-1.3 .8-2.3 2.7-1.2 1.2 .3 .8-.3 .7-3.4 .8-.3 .7-.9-.7-2-1.1 .1-.6-.4-.6-1.5-1.9-.9 .3-1.1-.7-1.2-1.7-1.1-.4-2.4 .2-2.3 .7-1.1 1.2-.5 .1 .4 1 .7 4 .5 .7 .9 2.3-1 5.8-.6 .6 .7-1.5 1.2 .5 1.1-.6 4.7 .9 1.1 2.4 0 3.5-4.6 3.2-2.3 .5-1.2 4.4-.5 .4-.7 .1-1.1 .8-1.2-1.3-.8-1.2 .1-3.5 1.8-1.1-.7-.5-1.5 .5-1.9 1.1-.9 1.2-2.4 1.2 .8 2.5-1.5-.4-2.3-1.5-2.3 .1-1.2 1.6-.3 1.5-.8 .9-1.2 3.9-1.2-.5-5.2 .2-.6 2.1-.7 6.3 .7 2.9 1.8 1.2 .1 .4 1.6-.4 2.3 .6 2.4 .6 .5 3.4 .6 .5 1.2 1.8 .3 1.2 .9 2.3 0 1.1-1.2 .5-1.2 0-2.3 .7-1.2 3.5-1 2.9-.1 .6-.9 1.1-.5 1.2 .4 2.3-.1 .6-1.3-2.9-2.1-1.2-.2 1.2-.3 1.4-2-1.4-1.3-.2-1-1-.8-1.1 .2-1-.6 .2-1.2 2.1-1.1 .3-3.5 .7-.8 1.2-.3 .3-1.2 .8-.8 2.2-.4 .1-.5 1.2-.6 .9-1.2 .2-1.2 1.2-.6 .3-1.7-.3-.5-1.2-.2-.2-.5 .2-1.8 1.2 0 .6 1.8 .6 .4 1.5-.4-.1-1.1 1.3-1.2-.5-2.3 .3-1.2-.5-1.2 .3-.6 1.1-.6 8.1-1.2 5.8 .4 4.7 1.6 1.1-1.6 1.3-.3-.1-4.3-1.2-.1-2.3 .7-.1 1.4-1.1 .8-3.4-.1-.7-.7-.9-3.5-.7-.2-.5-1 .5-3.6 3.4-.3 .9-.7 .3-1.2 1.1-.2 3.5-2.8 4.7-.9 3.9 .4-.6 2.4-2.2 .3-3.5-.3-1.1 3.4-.6 1.2-1.5 1.2-.1 1.1 1 1 4 .2 .4 1.2 1.4 .1 1 1 .2 1.4 1.1 .1 1-.3 .7-1.2 .6-.3 .9-5.5-.1-3.5 1.6-.5 1.1-1.9 6.2-1.1 0-1.1-.4-1-1.8-.2-.3-1.1 .9-4.2 1.3-.5 1.1 1.1 3.4 1 .8 3.7 .4 .3 3.5 .1 .6-.4 .5-1.9 1.7-.4 .6-1.2 1.2 .3 .1 .9 1.1 .7 2.1 .5 .2 .5 1.1 0 .2-.5 1-.6 2.3-.6 0-1.2-1.1-1.1 .5-2.4-.6-2.2-2.3 1.6-2.3 .7-1.1-.1-1.3-1.1-2.4-1.2-2-2.3-.3-2.3 .8-3.5zM518.2 35l-.9 0 .9 1zM520.5 52.4l-1.2 2-1.1 .1-1.2-.5-1.2 .4-1.1 1.1-1.2 .4-.3 2.4-.7 1.2-.1 1.1-1.2 .3-1.1 2.4-1.2 0-.4-.4-.2-1.1-.6-.7-1.1 0-.7 .7-.2 3.5 .6 1.1 .1 1.2-1 .9-1.9 .3 .1 1.1 1.8 .4 2.3-.4 .5-1.1 1.9-.1 .3 1.2 .8 .5 3.5 .1 .9 .6 .2 .7 1.7 .4 1.8-.3 .2-.8 1-1.1 .7-.1 .4-1.1-1.1-.6-.5-1.8-.7-.8-1.1-.3-.1-1.2 1.2-.3 1.2-2.6 4-.6 .6-4 1.2-.3 .3-1.5 1.5-2.3-1.8-1.2-2.3 .7zM532.1 59.4l-.1 1.2 1.2-.1 .1-1zM346.8 189.3l-.6 .4 .2 1.2-.7 .8-1.5 .3-.1 1.2 .4 .2 1.2-1.1 1.2-.3 1.1-1.1 .8-1.2-.8-.5zM360.7 177.7l-.7 .4 .2 2.3 2.1 1.2 4.2 0 1.1-1.2-1.1-.7-1.2 .1-.8-.6-.3-1.1-2.3-.7zM400.1 196.6l0 .3 2.8-.2-.5-.4zM403.5 221.9l-.3 .4 .3 1.3zM408.2 167.3l-.6 .3 .6 .3 .3-.3zM412.8 127.7l-.6 2.7 .1 1.2 .5 .3 1.5-.3 .8-.7 1-1.7-1-1.8zM422.1 163.5l-1.2 1-.2 .8 .2 3.6 1.2 .9 .2-2.2 .4-1.2 .5-.2 .5-2.1-.5-1zM424.4 198.9l1.1 .7 1.3-.6zM427.9 189.3l-2.6 1.6 .2 .7 1.5 .4 .5 1.2 1.5 .1 .4-3.6-.4-1.1zM439.4 194.2l-.3 .1 .1 1.2 1.5 0 0-1.2zM444.1 89.5l-.4 1.4-1 1.1 .1 1.2 1.4 0 1-1 .3-2.5-.3-.3zM448.7 96.4l-1 .3 1 .9 3.5 1.1 .9-.9 0-1.1-.9-.4zM459.1 189.3l-.5 .4 .2 1.2 1.5 .9 1.1 0 1.3-.9-.3-1.2-1-.4zM460.3 89.5l0 1.8 1.1 .1 .4-1.7-.4-.4zM471.9 108.7l-1.2 1.1-1.2 .2-3.4-.5-1.2 .8-.1 1.5 3.6 1.4 3.5 2.7 2.1-.6 1.3-1.2 .4-1.2-.2-2.3-2.5-2.2zM474.2 101.9l0 .8 1.2-.2zM477.6 119.4l-1.3 2.9 0 1.1 2.4 3.5 1.3 .4 1.1-1.4 1.4-.2 .7-1.1 .1-1.2-1.9-1.1-2.6-3.4zM484.6 123.1l-.9 .3 1.3 1.2 .7 2.6 .3-.3 .1-3.5zM488.1 77.7l0 1.6 1.1 0 0-2.1zM495 59.3l-.3 1.3 .3 1.8 1.2-.6 .1-1.2-.1-1.2zM497.3 82.5l-.4 1.4 .4 .4 3.5 0 .8-.4-.1-1.2-.7-.4zM499.6 52.4l-.2 1.2 1.6 0-.1-1.1zM502 54.6l0 1.5 3.9-.1-.5-.7-1.2-.5zM506.6 77.8l-.4 1.4 .4 1.1 1.1-.3 .2-.8-.2-1.3zM511.2 84.9l-.4 .1 .4 1.2 1.2-.3 .3-.9zM354.9 198.8l-.5 .2-.3 1.2 .4 2.3-1.2 1.1-1.9 3.5-3 3.5 .4 4.7-.5 3.5 .8 1.6 3.5-.9 2.3 .7 .7-.3 .5-1 1.1 .4 .9-1.7 1.4 0 .2 1.2 1 .7 3.5 .1 .2 .3-.1 3.5-3.6 .4-2.3 6.6 .6 2.3 .5 .1 1.2 2.3 3.5 .1 1.1-.6 1.2 .1 2.3 .8 2.6 3 .5 1.2 1.5 1.2-.3 1.1 .6 0-.2-1.1 1.1-.3 1 .3 .2 1.1 1.1 .8 3.5-.1 1.1-1 1.2 .2 .4-1-.3-1.2 .2-1.2 .9-.4 2.1 .4-.4 3.5 .6 .5 1.1-.2 .1-1.4 1.1-1.1 3.5-.4 3.4 .9 3.5-.6-1.2-1.2 2.3-1.1-2.2-.5-2.4-1.9-1.1-.1-1.2-.9-1.1 .6-.9-.7-.1-1.2-1.4-1.6-3.4 .1-1.2 2-2.3 0-1.2-.2-.4-1.4-.7-.9-1.3-.3-.1-1.2 2.6-1.1-.1-1.2 1.3-1.2 0-3.4-1.3-1-.9 1-.2 1.2-1.2-.3-1.1 1.3-2.3 .2-1.2-.4-1.2 1-1.1 .3-.5-1-1.8-.2-.7-1 0-1.1 .7-1.2 1.1-1.2 .3 1.2 2 .7 .6-4.2 2.4-1.2-.6-1.1-3.5-.1-.3 1.2-.9 .9-1.1 0-1.1-.9-.1-2.1-1.2-1-.3 .8-.8 .2-3.5 .2-2.3-.3 0-3.6-.5-2.3 .5-1 1.2 .1 .3-.3 .1-1.1-.4-1-1.4-.2-.4-1.2 .6-1.1-2.3-1.2-1.2-2.7zM408.2 197.8l-.7 0-.3 1.2 .5 1.2 .5 .3 2.2-.3 .8-1.2-.7-.9zM426.7 205.8l-.8 .2-.9 1.1 2.9 .7 1.1-.1 .4-.6 .1-1.1-.5-.5zM445.2 173.3l.8 1.3 1.5 .9 .9-.9-.1-1.2-.8-.5-1.1-.2zM460.3 98.8l-1 2.5 .1 1.2 .9 .8 1.1 .1 .8-.9-.7-3.5zM471.9 120l-.8 2.3 .8 .6 1.6-.6-.3-1.2zM481.1 164.2l-.8 1.1 .8 .7 1.3-.7-.1-.7zM500.8 96.6l-1.2 1.2-.2 2.4-.9 1.2-6.4 5.7-.2 1.2 .8 1 2.3-.1 3.5-1.1 2.3 1.6 .2-1.4 1-.9 1.1 .4 3.5 .2 1.1-.2 .5-.7-.5-6-3.3-.9-1.3-3.7zM353.8 233.5l0 3.6 1.1 .1 .5-3.3-.5-1zM356.1 243.8l-.5 .5 1.4 0zM471.9 164.7l-.4 .6 .4 .3 1.4-.3zM492.7 140.6l.2 3.7 .9 .7 2.7-.7 .3-1.1-.6-.7-1.5-.5-.9-1.5zM473.6 37.4l1.7-.2 1.2 .5 1.5 2 .1 1.2-.5 1.5-1.1 1.3-1.2 .5-2.3-.3-1.7-1.9-.1-2.3 .7-1.2zM416.2 87.4l3.5 .2 1.2 1.1 1.2 0 5.3 2.2 .4 1.1-.5 2.3-.6 .9-2.3 .9-3.5 0-1.2 .9-1.1-.1-.2 .9-2.4 0-.9-1.4-1.2-.9-.1-1.2-1-1.1-.2-1.2 2.5-1zM429.7 99l.5-.9 1.1-.1 .4 1-.4 1.1-1.1 0zM419.4 101.3l2.7-.3 .7 1.5-.7 .5-3.5-.5zM377.2 102.5l2-.3 1.2 .4 1.1 .9 .7 1.3 0 2.3-.7 1.2-1.1 .7-2.3 .4-1.2-.4-1.7-1.9-.1-2.3 .7-1.2zM418.2 108.3l.4-.3 .4 .3zM379 122.3l.2-.6 1.2-.4 2.3 .1 2.3 1.8 0 .4-.5 1-3 1.5-.4-.4 .3-1.1-2.2-.7zM508.5 138.5l.4-.2 1 .2-.7 3.5-.3 .2-1.1-2.5zM339.8 162.9l2.4-.9 2 .9 .8 1.2 .3 1.2-.4 2.3-1.6 1.5-2.3 0-2-1.5-.5-2.3zM351.3 178.1l1.3-.4 .3 .4 .1 1.1-.4 .5-1.2 .1zM487.8 189.7l1.4-.7 1.2 .1 1.1 .5 1.2 1.3 .3 2.3-.4 1.1-1.1 1-2.3 .7-1.1-.3-1.5-1.4-.3-2.3 .4-1.1zM460.5 233.9l3.2-.1 .5 2.4-.2 1.2-1.4-.1-.2-1.1-1-1-.9-.2zM416.3 256l1.1 .1 1.2 .8 1.5 .2 .1 1.2-4.4 0zM346.7 257.1l1.3-.3 .9 .3 0 1.2-2.2 0z" fill="#e2f4fa" fill-rule="evenodd"/><path d="M499.1 29.2l.5-.7 3.5 .1 1 1.8 1.3 .5 1.1 1.8 2.3 1.2 1.3 1.4 .7 .9 .4 2 1.2 0 1.1 1.3 3.5 .8 3.2 5.2 .3 1.4 3.5 .1 .2 2-.2 .4-1.2 .4-.4 1.5-5.4 .9-1.2 .7-2.3 .2-1.1 1.9-2.3-1.1-.9-1.4-.1-2.3 1-1.2 0-1.2-.7-1.1 .9-5.8-.2-.6-1.2 .6-1.2-.1-2.3 1.7-2.3 .6-3.5-1.1-1.1-1.6-1-.7-.2-1.2 .3-2.3 .9-1.7zM519.3 32.7l1.2-.9 1.1 .1 1.2 .8 .3 1.2-.8 1.1-1.8 .5-1.4-1.6zM489.5 52.5l.9-.8 4.2 .8 1.6 .5 .2 .6 .9 .7 1.6 .5 .2 1.2 2.1 1.1 0 5.8 1.9 .4 .4 .8-.4 2.9-1.1 0-1-1.7-.2-1.8-3.6-.6-.3-3.4-.7-1.8-1.2-.3-.6 .9-1.7 .8 0 4 1.9 1 .4 1.4 1.2 .3 .3 1.8-.3 .5-2.4 .5-3.4 .1 0 1.4 1.1 .6 .9 1.5-.9 1.2 1.2 .3 0-1.5 1.1-1.5 .1 .4 1.1 .6 1-.6-.4-1.2 1.7-.8 1.2-.1 2.3 .8 2.2 2.4 2.4 1.3 1.2-.9 1.1-.1 .5-1.4 .7-.4 1.2 0 .8 .4 .3 .8 1.2 .3 6.9 1.1 1.2-.8 1.1-.2 .2-1.2 1-1.2 .3-1.1-.8-1.2-.4-3.5 .9-1 4-.2 .6-1.5 1.2 .1 .6 3.8 1.7 .5 .5 .6 .1 1.2-.6 4.6-1.2 .5-.2 .7-.1 3.5-.8 .5-3.5 .2-.7 .5 .1 3.5-.5 2.2-1.2 .4-.4 2-.8 1.1-3.4-.2-1.2-.9 0-1.4-1.1-.9 .3-1.2 .8-.2 .6-2.1 .6-.7 1.5-.5 0-1.1-.4-.6-3.5-.1-.9 .7-.2 3.6-2.3 .8-3.5 0-.4-.9 0-3.5-.7-2.4-2.4-.3-1.7 6.2-1.7 .4-1.2-.7-3.5 .3-1.1 .8-1.4 .3 .2 1.6 1.2 .3 1.1 1.7 3.5-.6 1.2 .7 1.1 0 .4-1.4 .8-.5 3.4 .3 .6 3.7-.6 .5-1.1-.2-1.2 .9-.6 0 .6 .1 .2 1.1-.2 .3-1.1-.2-.7 1 0 1.2-.5 .3-3.5 .3-.6 .5-.7 5.9-1.6 1.1-.6 1.2-4.6 4.2-1.8 .4-.3 1.2 1 1.3 4.6 .7 3.5 2.1 4.6 .4 .9 2.5 .2 3.5-1.1 1-1.1 .4-2.4-.6-1.1-2.8-2.3 1.3-3.7 3 1.2 1.2 1.3 0 3.5-1.4 2.3 6.5 4.6 .7 1.1 1.1 .4 1.2 2 .1 .7 1.1-.1 1.1-1.8 .5-1.1-.1-2.3 1.1-1.3-.3-1.1 2.3 .3 1.2-1.3 2.3 1.1 2.3 1.4 1.2 .4 2.3-.5 3.5-1 1.2 .1 1.1 .7 .2 .9 1 .3 1.7 1.2 .6 0 1.2-2.4 .9-2.3-.3-1.2 .1-.2 .4 .2 1.5 1.2 0 2.3 .8 .1 3.5-1.4 1.2-1 3-1.2 1-1.1 4.2-1.4 0-.9-1.2-1.7 0-.7 1.2-1.8 1.1-.2 1.2 .5 1.1-.5 3.5-2.6 .8-3.5 .2-.1 1.4-1 2.3-1.2 0-1-3.5-1.3-.3-.9-2-1.4-.6-2.3-.1-2.5 .7-.5 3.5-.5 .7-1.7 .4 .6 1.3 1.1-.5 2.3 .6 1.1 .9 .1 1.2 1.1 .4 .4 .8-.4 2.2-2.1 2.4-.2 1-1.1 .3-.9 1 .9 7.1 1.1 .8 1.2-1.8 1.3-.2 .3-1.2 2.1 0-.3 10.5 .6 1.1-.2 1.2-1.5 1.1-1.2 6.3-1.1 1.7-1 3.7 1 2.2 1.1 .9 1.8 3.9-.7 2.3-1.1 1.4-2.3 1.1-3.4-.5-.9-.9-1.4-3.4-1-1.2-.1-1.2-1.8-1.1 .1-1.2 .4-.4 2.3 0 1.2-.6 1.2 1.5 1.1-.5 .8-2.3-.8-.8-1.7-.4-.6-1.1 0-1.6-.9-.8-1.4 .5-1.2-.7-2.3-5.4-4.8-.2 .2-2.8 .8-.7-.8-.2-.4-.9-.1-1.2 .5-.6 1.1 0 .4 .6-.2 3.5 1 1 2.3-.1 .5-.9-.1-1.2-1-1.1-.6-2.4-1-1.1-4.7-.4-1.2-1.3-2.3 .7-2-.2-.3-.8-.7-.4 3-.8 0-1.7-3.5 .6-.3 .8-.8 .3-3.5 .1-.5-.4-.1-1.2 .6-.7 1.1-.1 0-1.4-1.1-.7-.8-1.7-2.6-1.2 0-1.2-2.4-1.4-2.3-.1-.9 1.5 .1 1.2 3.1 1.4 .6 2.1-.6 1.7-1.2 0-1.1 .5-1.1-2.2-1.2-.3-1.6 .3-2.3 1.2 .4 1.7 1.1 .6 .7 1.1-.3 3.5 .4 2.4 2 1.1 .1 1.2-.5 1.4-1.2 .7-.3-.9-4.2-1.2-.3-1.2 1.3-1.9 .7-2.7-1.8-2.4-1-2.3 .7-2.3-.9-1.1-3.8-.1-.2-2.3 .1-1.2 .4-.2 4.7 0 .4-.9-.8-2.3 2-3.5 1.6-1.2 .2-1.2-1.1-1.4-2.3 1.5-2.3 3.4-3.9 2.4-.8 2.1-2.3 2.5-.5 2.3 1.9 1.2 .8 2.3 0 1.2-1 .7-1.2 .1-1.2-1.1-3.4-1.6-.7-.4-.5-1.3-1.1 0-3.5-2.5-1.2 .1-3-1-.6-1.2-1-.5-2.3 .2-1.2 1.3-2.3 .7-.8 .7 .9 1.1 1.1 .6 1.1 0 1.2 .6 0 1.2 3.5 .3 .6 .8 0 1.2 1.7 1.8 1.1-.1 1.2-1.2 .3-.5-.1-1.2 2.1-.8 1 .8-1 1.8-.7 .5 .5 1.2 2.5 .4 .7 .8 .2 2.3-.7 3.5-1.3 .7-.2 .5 .2 3 1.1-1.2 1.2 .9 .4-.4 0-1.2 1.5-2.3 .4-1.6 3.5 0 .5 2.8 1.8 1.2 2.1 3.4 0 1.2-1.7 2.3-2.7 2.1-2.4 .7-2.3 .2-2.3-1-.6-.8 .2-1.2-.4-1.2-1.5-1-1.2-.1-1.1 .9-1.4 .2-.3 1.2-.6 .4-1.2-.1-.8-1.5-1.5-.3-1.2-2.4-1.9-.8-.4-1.1-3-2.3 0-1.2-.4-.7-2.4-1.5-.4 1 .4 3.9 3.5 .4 .6 .4-.3 1.1 .8 7-.4 1.2-.1 2.3 1.6 2.3 1.7 1.2 .7 1.2-.1 1.1-.9 1.2-1.3 .6-2.3 .2-1.7-.8-1.2-1.2-.5-1.1-2.4-1.1-1.1-1.6-3.5 .2-1.2 .8-2.3-.4-1.2-2.6 .5-1.2-.2-1.1 .8-2.3 1.3-7 3.4-.9 .6-1.4 1.7-1.2 .3-1.2 .9-1 1.2-.3 .9-2.2-.3-1.1-1.4-2.4-.2-2.3-1.3 .9-1.2 .1-1.5-2.1-2-.7-1.1-2.7-2.3-1.8-.8 1.7 0 2.3 .8 1 1.1 .2 1 1.1 .1 1.2 3.5 .5 2.4-.2 .7 .8 .2 1.2-.9 2.3-2.2 1.2 .1 3.5-2.6 .7-3.4 .2-.8 1.4-1.6 .4-3.4-1.2-2.3 .1-1.2-.5-1.2 .4-1.1-.4-1.2 .2-1.1-.4-1.2-2.8-1.1-.4-.2-1.2 1.3-1.6 .1-3.1-4.4-1.1-.5-1.2 .9-1.1-.7-2.4-1.2 .9-3.5-.5-1.1-.8-1.2-1.9 .6-5.8 .7-1.2 .5-3.5 .5-.6 1.2-1.1 3.5 .4 1.1-1 2.3 .6 2.4-2.1 2.6-.8-1.1-1.2 1.9-2.3-2.3-1.3-1.1 .3-2.4 1.6-2.3-.1-.6-.5-.5-1.4-3.6-.9-.5-4.7-.6-.4-1.1 .4-3.5-1.3-1.2-1-.8-2.3 .2-2.4 .5-1.1 2.5-2.1 2.3-.4 1.1 .2 1.2-.5 3.5 .2 .8-.9-.8-4.7 1.5-2.3 1.3-3.5 .6-.8 3.7-1.5 2.1-1.4 .4-.9-.4-2.3 1.8-1.2 .6-2.6-.8-.9-2.7-.3-2.3-.9 0-1.1-.7-2.3 .7-.8 3.4-.2 1.2-.7 1.6 1.7-.1 2.3 .8 1 2.3 1 4.7 .6 1.1-.9 1.2-3.2 1-.8 2.4-.8 1.2-2.1 3.5-.5 1.1-.5 2.4 .7 3.4 .1 .7-.4 .5-1.5 1.1-.1 .9-.8 .1-1.1 1.4-1.2 0-1.5-3.5-.5-1.2-.6-1.1 1.7-3.5-.2 1.6-1.2 .7-1-1.9-1.3 2.3-3.5-.5-1.2 1-1.2-.2-1.1 .8-1.2 1.1 0 .3 1.2 1.7 1.1 0 1.4 .1-1.4 3.4-.7 1.2 .1 2.3-.9 .2 .4 4.4 .9 1.2 2.5 3.4-.6 1.2 .3 2.3-.4 1.2-1 1.5-1.7 .8-2.4 2.3-2.2 4.6-.3 1.2-.6 2.3 .3 1.2-.4 2.3-7.2 .4-2.3-6.2-1.3-.2-1.1 .2-.4 1.2 0 .2-4.2 .9-1 1.2-.4 1.1-1.1 2.3 .2 1.2 .9-1.2 .5-.2 .9-.5 3.5 .7 2.1 1.2 .1 .4-1.1 1.9-.4 .8-.7 .4-1.8 1.2-.5 1-2.4-.4-3.5 .5-.5 1.2-.1 .9-.5 1.1-2.3-3.2-1.6-.4 .4-.2 3.5-.6 .5-1.1 0-.7-.5 .4-3.5 1.4-.5 .7-.7-.5-1.1 .3-1.2-.1-2.3 1.4-2.4 2.9-1.3 3.4-.4 4.7 .3 3.4 1.7 2.4 .3 2.7-.6 1.2-2.3 .9-3.5 1-.1 1.2 .1 .6 3.5-.7 .8-2 .4 0 1.1 .9 .8 3.4-.2 .5-.6 .7-2.2 1.1-.9 .7-1.5 .3-3.5 .2-.7 1.2-.5 1.5-5.8 1.9-.8 2.1-.3 2.6-2.1 1.2-.3zM490.4 73.2l-.3 1.4-2 .3-.6 .8-.6 2-1.2 .4-.3 2.3 .3 1.9 3.5 0 1-.7 .2-1.2 1.1-.3 .6-.9 .4-3.5-1.4-1.1 .4-1.2zM490.4 174.4l-1.2 1.3-.4 0 .7 1.2 .9 .2 .3-2.5zM491.5 139.5l.1 2.5 1 3.5 .1 3 .2 .5 .9 .3 2.1-3.8 2-1.2 .7-1.1-1.3-.8-1.1-1.3-1.2-.5-1.2-1.5-1.1-.5zM500.8 133l-2.3 2 0 .4 2.3 .1 .5-.5zM370 184.7l-1.2 .6-.9 .9 .9 2.2 2.3 .4 1.2-1.3 1.1 0 1.8 2.2-.4 2.3 1 .9 .3-2-.3-5.5-1.9-.4-1.6-.7zM365.3 163.9l-.9 3.7 .9 1 .9-1-.5-3.5zM376.9 194.1l-.6 .2 .2 1.2 .4 .4 1.7-.4-.6-1.2zM380.4 195l-.9 .5-.1 1.2 .1 1.1 .9 .7 .5-.7 .1-1.1-.1-1.2zM381.5 153.2l-.4 1.6 .4 1.8 1.2 0 1.2-.6 .3-1.2-.3-1-1.2 .1zM402.4 172.3l-.2 2.3 1.3 .7 .5-.7-.1-1.2-.4-.7zM404.7 161.4l-.3 .4 .3 .2 1.6-.2-.4-.6zM408.2 134.6l-.8 1.6 .8 .7 .7-.7 .5-1.2zM412.8 126.8l-.5 .1-.6 1.2-.3 3.5 .2 1 1.2 0 2.5-1 1.8-2.4 .4-1.1-.2-1.2-1-.3zM422.1 162.7l-1.4 1.4-.9 4.7 .1 1.1 1 1.1 1.2 0 2.1-6.9-.2-1.2-.8-.6zM430.2 178.6l0 .8 1.1 .4 .3-.6-.3-.7zM437.1 169.8l-1.1 1.1-1.3 .2 2.4 .5 .3-.5zM442.9 184.6l-1.2 2.8 0 1.6 1.2 .5 1.2-.7 1.1-.1 1.2-1.2 1.1 .6 .4-.7-.4-.4-1.1 .3-2.3-.8-.5-1.5zM449.9 94.2l-1.8 1.3-1.7 .2-1.6 1 .6 1.1 1 .7 3.5 .3 2.3 1.3 1.1-.3 1.7 .4 1.8-.6 1.2 2.9 1.1 1.3 2 1 .2 1.2 1.9 2.3 .6 3.5 1.1 1 3.5 1.4 2.3 2.1 1.2 .5 3.4-.9 .9-3-.1-2.3-3.1-3.4-1.1 .2-1.2 1.5-1.2 .2-3-.8-1.8-1.2 1.5-1.1-.2-1.2 .4-1.2 2.6-1.1 .2-2.3-2-.2-2.3 .6-1.2-.2-2.3-2.7-3.4 .7-.5-1.7-.7-1-1.7-.2-1.8-1.2zM454.5 85l-.4 0 .4 .3zM460.3 86.7l-.8 3 .2 3.5 .6 .4 1.1 0 1.6-.4 .7-1.1 0-3.2-1.1-.7-1.2-1.6zM477.6 89.5l-3.4 1.4-.7 3.4 .1 1.2 .6 1 1.1-.1 .8-.9 .4-1.2 2.3-1.7 1.2-.3 1.1 1.3 1.6 .7 4.3 1.2 .5-1.2-.6-.7-1.2 0-.3-.4 .2-1.2-.9-1.1-.1-1.3-1.9 .1-.5 1.2-1.1 .1-1.1 .9-1.2-.1-.8-.9zM499.6 138.9l0 1.1 1-.3zM372.3 192.9l0 1.6 .3-1.3zM383.9 163.4l-1 .7 .4 2.3 .6 1 1.4 .2 .8-1.2-.1-2.3-1-.7zM408.2 166.3l-1.2 .3-.4 1 .4 .8 .8 .4 .3 1.1-1.2 1.2 1.3 .6 .5-.6-.4-1.2 1.1-1.1 0-1.2zM411.6 154.8l1.2 2.2 1.2 .2 1.1-.9 .4-1.5-.4-.7zM442.9 190.4l-.9 .5 .9 0zM446.4 171l-1.2 .5-.5 .8-.1 1.1 .6 1.4 1.2 .9 1.1 .5 2.4-.4 1.4-1.2 .1-1.2-.4-.4-2.3-.7-.3-1.2-.9-.3zM458 187.6l-.6 2.1 .6 3.5 1.1-.5 1.2 .6 3.4 .2 .4-.3 .3-2.3-.5-1.2zM474.2 98.2l-.8 .8-.4 3.1-1.1 0-.3 .4 .3 1.4 1.1-.1 1.2 .6 1.1-.4 1.5-1.5-1-2.3-.1-1.2zM407 173.3l-.6 1.3 .8 1.1-.2 1.2 2.3 .4 .5-.4-.5-2.6-1.1-1.7zM411.6 186.6l-.4 .8 1.1 3.5-.3 1.1 .8 1.3 2.3 .4 .9-1.7-1.2-3.5zM412.8 170l-1.1 1.1 1.1 .8 .7-.8zM471.9 105.9l0 .2 .5-.1zM476.5 117.6l0 1.2-1.2 1.3-3.4-1.2-1.1 1-1.3 2.7 2.4 1.4 2.3-.3 5.3 4.4 .8 0 .8-.9 1.2-.2 1.1 .3 2.3 1.5 2.4-2.7 .1-1.5 1-2.5-2.3-2.1-1.2 .1-2.3-.8-2.3 .1-1.4-1.8-2.1-.6zM486.9 159.2l-2.3 1.3-1.2 1.5-2.5 .9-3.3 2.2-1.2-1-3.4-.6-1.1-.6-1.5 0-.7 1.2-.4 2.3-2.1 2-.2 1.5 .2 .4 2.3 .3 1-1.8 2.5-2.4 2.3-.5 1.2-.1 1.1 .6 .3 1.2 .9 .3 3.5-.3 1-2.3 .1-1.6 1.2-.2 2.3 .3 .5-3.2zM475.3 171.9l-.3 .4 .6 0zM477.6 168.4l-1.2 1.5 1.2 .9 .5-.9zM504.2 52.5l1.7 0-.1 1.1-1.6 0zM504.2 59.5l.6 0 .1 1.1-.8 0zM461.2 62.9l2.5 .7 .4 1.7-.4 2.3-1.4 0-.5-1.2-1.5-.7 0-2.6zM510 88.5l3.5-.6 1.2 .3 1.1-.1 .5 .4-.9 1.2 1.6 1.4 1.2-2.1 1.1 .2 1.2-.6 1.1 .1 .8 1 .4 2.3 0 1.2-1.2 2.1-4.2 1.4-.3 1.1 .9 1.2 .3 1.2 1 .7 0 1.9-1.1 .2-1.2-.8-1.2 0-2.3 .5-.8 .9 .2 1.2 2.1 1.2-.3 2.1-1.2 .5-2.3-.4-.9-1.1-.2-1.6-1.2-.3-.3-5-.4-1.2-1.8-1.2-.5-1.1 1-1.2-.2-1.2 1-2.9 1.9-1.7zM420.9 90.9l1.2-.4 2.3 .6 1.1 .9-.1 1.2-.7 1.1-1.5 .4-3.5-1-.6-.5-.1-1.2 .7-.9zM404.6 103.6l1.3-.2 3 .2 .2 3.5-.3 2.4-1.8 1.7-1.4-.6 .3-2.3-1.2-.7-.2-.5zM511 129.2l1.6 0-.2 1.5-1.5-.3zM336.8 181.6l1.9-1.1 1.2 .5 2.3 3.1 1.3 3.3 0 1.1-1.2 2.4-2.4 2.4-1.2 2.2-2.3-.1-.9-1.1 0-1.1-1-1.2-.5-2.3 1.2-3.5 .3-2.3zM346.5 194.3l2.6-.8 1.2 .2 1.1 .6 1.7 2.4 .2 1.1-.9 1.2-.5 3.5-1.6 2.5-1.2 .7-1.1-.1-1.2-.9-1.1-2.5-.3-2 .6-4.7zM427.2 201.3l.7-.9 1 .9-1 2.3-2.4 .8-.8-.8 .8-.5 1.2 0 .6-.6zM440.3 203.6l.3-.3 2.4 .3 1.1 8.4 1.2 1 .3 3.4-.4 .7-1.1 .2-1.1-2-4-1.2-.5-2.3 .4-5.8 .5-.9 .7-.3zM339.9 213l2.3-1.2 2.3 .3 1.3 .9 .9 2.3-.3 2.3-.7 2.1-2.4 1.7-1.1 .1-2.6-1.6-.7-2.3 0-2.3zM349.1 222.3l3.5-1.1 3.5 .7 2 1.5 .6 1.2 .2 1.1-.9 2.4-.8 1.5-1.1 1-2.3 .6-1.2 .7-1.2-.2-.9 1 .6 2.3-.6 4.7-1.4 .9-1.1 0-1.2 .9 .2 1.7-1.3 1.2-2.4 .6-3-.7-3.3-2.3-.2-1.1-.9-1.2 0-1.2 1.4-1.1 .4-1.2 3.2-1.2 1.3-2 1.1-.4 1.2-1.4 3.5 .1 1.1-.9-1.5-4.7 .2-1.1zM433.2 226.9l.4-.7 2.4 .4 1.1 .3 1.4 1.2 .6 2.3-.3 3.5-1.1 2.3-.6 .4-2.3-.1-3.7-2.6-.6-2.3 .4-2.4-.6-1.1 1-1.2zM364.9 236.2l1.6 0 2.3 1.9 .5 1.6-2.8 2.7-1.2 .2-1.1 1-1.2 0-1-.4-2.7-3.5 .4-1.2-1.4-1.1 1.2-1 1.2 1.7 2.3-1.4zM408.8 236.2l2.8-1 1.2 0 2.3 1.3 1.2 1.2 .9 3.2-2.1 5-1.1 .5-3.5-.1-1.2-.4-1.9-2.7-.2-2.3 .2-2.4 .4-1.1zM449.5 238.5l3.8-1 1.2 .1 2.3 .9 .8 3.5-.3 3.5-.5 1-1.2 .6-2.3 .2-1.1-1.1-3.6-1.9-.2-3.4zM476.3 238.5l1.4 0 2.3 1.6 0 2-1.2 .2-.4-.3-.1-1.1-.7-.9-1.3-.3zM469.5 240.9l1.3 0 .4 1.1 .7 .7 1.1 0 .5 .5 .1 1.1 4.1 1.2 .2 3.5-1.4 .4-.6 .8-.6 2.1-.9 .2-.3 1.1 1.2 1.2 .2 1.2 .9 1.1 .1 1.2-7.7 0 0-1.2-.4-.4-1.9-.7-.2-1.2 .9-2.2 1.2 .3 .1 .7 1 1 1.2 0 .9-1-.7-3.4-2.4-1.2-1.2-2.3 .8-1.2 .8 0 .6 1.2 1.2-1.2-1.2-1.2zM474.1 240.9l1.3 0-.1 1.3-1.3-.2zM388.4 243.2l1.2-.4 .2 1.5-1.3 .1zM378.1 244.3l3.4-.4 2.4 1.2 1.7 2.7 0 1.2-1.3 2.3-2.8 1.3-2.3 .4-1.1-.3-1.8-1.4-.8-2.3 .2-2.3zM333.9 245.5l1.3-.8 1.2 .5 1.9 3.8-.9 3.5-1 1.5-1.2 .9-2.3-.7-1.1-.7-.5-2.2 0-2.3 .5-2.2 1.1-1.1zM351.4 252.5l3.5-.5 .9 .5 0 1.1-.9 .4-3.5-.2z" fill="#d2eef8" fill-rule="evenodd"/><path d="M499.4 31.6l.2-.7 1.2-.3 2.3 0 1.2 1.1 3.6 2.2 .7 1.1 1.5 1.2 .1 1.2-1.2 2.3-5.9 2.8-2.3-.8-2-2-.3-1.2zM511.2 40.9l1.2-.9 3.4 .9 2 2.3 .4 1.5 .8 .8 .2 3.5-3.4 2.8-2.3 .1-1.1 .7-1.4-1.3-.5-1.1 .2-1.2-.4-2.3zM489.8 54.8l1.7-.3 .8 .3-.5 8.1-.3 .7-1.6 .5-.3 1.2-1.5 .4-.4 .7 .2 5.8-1 2.9-1.2 .5-.1 1.3-.8 1.2-.2 1.5-1.2 .7-1 5.9-2.4 1.1-1.2 1.2-1.2-.7-3.8 1.9-.8 3.9-1.4 .7 .3 1.9 1 1.6-1.9 0 .2-1.1-.5-.1-1.1 .1 .3 1.1-1.5 .5-3.5-.2-.3-.3 .3-.7 1.2-1.3 1.1 .5 1.2 0 .8-.8 0-1.2-.8-.7-3.5 .3-.6-6.5-.6-.7-1.4-.5 .3-2 1.2-.3 .3-2.3-.4-1.1-4.1 1.1-.2 2.3-1.4 .2-.6-.2 0-1.2-.6-.3-3.5-.4-1-1.6-1.3-.4-2.2-1.9-.1-2.4 .3-1.1 1.9-2.4 1.3-.6 4.6-.4 3.5 .4 3.4 1.6 1.9 .2 .5 .5 1.1-.4 1.2 .7 1.1 1.5 5.8-.7 .6-1.6 .6-.6 1.1-.3 1.2-4.3 1.5-.6 .1-3.5 .6-2.3 1.3-.5 .4-.7 .6-3.5 3.6-.3zM493.9 54.8l2.3-.3 .4 .3 0 1.2-1.6 .3-1-.3zM524.8 66.4l.3-.4 1.2 0 .5 .4 .6 1.9 1.2 .4-.1 1.2-1.7 0-.1-1.1-1.6-.6zM497.6 71.1l2-.3 1.2 .4 2.4 2.2 .7 2.3-.3 3.5-.5 .8-1.1 .6-1.2-.4-3.5 .2-1.1 .7-1.2-.5-1.8 2.1 1.8 3.9 5.9 .8 .1 3.5-1.4 .9-.3 1.4-.8 .6-3.5-.1-.4 .6 1.6 1.5 .7 2 0 2.4-1.9 2.3-3.5 3.3-2.3 .2-2.3-1-1.1 1-.6 1.1 .5 1 3.5 1.5 1.2 1 4.6 .6 2.4 1.7 .5 1.2-1.1 2.3-2.4 2.4-1.9 1.1-.7 1.2 .1 1.2 .8 .5 4.6 .1 .9 .5 2 4.7 0 2.3-.6 1.3-3.4 3.3-1.2 .3-3.5-1.2-1.1 .2 .7 4.2-.4 3.5 1.2 3.5-.4 4.2 1.2 1.7 1.1-.4 3.5-5.5 1.2-.2 1.1 .3 1.2-.6 .1 .5-.7 1.2 .9 1.1 .2 3.5 .6 1.2-.4 1.1-.7 .5-1.2-.1-1.1 .5-1.5 2.6 .3 2.8 1.2 1.2 2.3-.5 .1 2.3-1.3 .4-.6 .8-.5 2.1-3.5-.2-1.2-.5-1.1 .5-4.8-.7 .6-1.2-.4-.9-.1-1.4 .4-2.3 .8-.9 .4-1.5 1.9-1.5 .4-2-.4-.3-2.3 1.3-.8 1.4-.3 1.3-4.7 3.9-4.6 2.3-1.2 .3-5.7-1.2-2.4 .1-.3 .2 0 2.4-.8 1.1-1.5 1.2-1.3 2.3 1.6 3.4 1.2-.9 3.8-1.3 .8-3.7 2.3 0 .4 .2-.4 .4-1.3 .8-.9 3.5 2.2 1 1.2-.1 1.1-.3 .6-.6 .8-3.5 3.3-.7 .7-.5 .5-1.2 1.1-.6 2.3 .3 .4 .3 0 1.2 .8 .7 1.9 .5-.6 2.3-1 1.2 0 1.1-1.5 1.5-3.5-.7-1.1-.9-1.3 1.3 1.3 2.1 1.1-.2 .4 .4-.4 .3-1.1-.2-1.2 .5-.5-.6-.6-2-1.2-.7-1.2 1-1.1-.4-.8 .9-.2 1.2-2.5 1-1.1 0-1.1 3.7-1.4 1.1-.2 1.2 .5 2.3 1 .4 2.6-.4 .9-1.1 2.4 2.3 .1 1.1-1.4 2.8-1.1 0-1 .7-.2 1.3-1.1 0-1.2 .9-1.2 .1 1.2 2 .7 3.9 .5 .8 1.1 .8-.2 1.8 1.4 0 1.1 .5 1.2-1 1.1 .2 .9 2.7-.3 3.5-2.9 12-1.1 .3-2.3-.2-1.2-2.5-2.3-1-1.4-1.7-.5-3.4 .4-2.4 1.2-1.1 1.1-3.5-1.1-1.2 .1-1.2-1-.5-1.1 .5-3.5-.4 0-1.6 3.4-1.4-1.1-.5-.5-.7 .5-.4 1.2 0 .4 .4-.4 1.2 1.1 .9 1.5-.9 .3-3.5-2.9-1.1-1.6-.1 .4-.9 1.2-.3 .4-4.6 .7-1 1.2 .5 1.1-.7-.3-1.1-1.4 0-.6 .9-1.1-.9-2.4 1.1-4.6-1.4-2.5 .3-.9 1.1 .7 1.2 .6 3.5 1 .8 4.6 .3 .5 1.2-.1 1.2-.7 1.1-4.3 .5-.7-.5-.5-1.3-.9 1.3-1.4 .9-4.6 1.5-1.2-.2-1.2-2.3-2.7-2.2-.5-1.2-1.2-1.1-.3-1.2 1.6-1.1 .8-1.2 1.2-.6 2.6-.6 .1-1.1-1.6-1.4-1.1-.2-2-1.9-1.5-.5-1.2 1.1-1.1 3.4-1.6 .6-.1 2.4-1.8 1.4-.7 3.2 1.3 1.2-.6 1-3.5 .6-2.2-.5 .1-4.6-.9-2.3 .7-1.2 2.3-2.8 1.2 .5 1.2 1 1.6 .1-2.8-3.4-.5-1.2-1.8-1.9-2.3 2-2.3 3.7-3.5 1.7-2.3-.8-1.2 .9 0 1 .7 1.5-.3 1.2-1.6 3.3-.5 .2-.6 .8-2.3-.3-2.8-1.7 .5-.5 1.1-.1 2-1.7 .1-1.2-1.6-3.5-4-3.4-1.1 2.3 .9 3.5-.9 1.5-1.2 .4-1.1 1-1.2 0-1.7-.6 .3-1.2-.9-.5-1.5 .5-.5 1.2-1.5 .9-3.4 .5-.7 2.1 .3 1.1 .4 1.1 .9 .1-2.1 .6-.7 .6 .3 1.1-.8 .2-.7-1.3-1.6-.2-2.3 .3-2.3-1.7-2.1-3.1-.2-2.4-4.7 1.7-3.6-1.6-.9-5.8 .5-1.2-.3-3.5-1.4-.7-1.2 0-.3-.4 .3-.6 1.2 0 .3-.6 .1-3.5-.4-1.1-1.2 .1-2.9-1.3-.6-.8-.9-.4 3.2-1 .4-1.3 .8-.8 .9 .8 .3 .9 .2-.9 .9-.8 2.3-.2 .5 1-.1 1.2 .7 1.1 1.2 1 1.2-.5 .2-.5-.8-1.1-.6-2.5-1.1-.3-1.2 .2-1.1-2.1-2.3-2-1.2-.4-1.2 .5-1.1 .7-1.2 1.6-1.1 .4-1.2-2.7-1.3-.4-.8-3.5 .2-2.3 .4-1.2-.5-5.8 .5-2.3 1.6-2.4 1.1-.7 6.2-2.8 .7-5.8 1.2-.8 1.1-.2 4.7 .6 1.1-.7 1.2-2 3.4-3.3 2.3-2.9 1.2-.3 3.5 .1 2.3 .8 2.3 .2 3-1.9 .5-.8 1.3-.4 .5-1.2 0-2.3 .5-1 1.2-.7 4.6-.4 1.2 .8 1.5 .2 .5-1.2-1.3-1.2-.7-.5-2.4-.4-.2-1.4-.9-1.2 0-1-1.2 .1-.2 .9-2.1 .3-1-.3 .7-1.1 1.5-.3 2.3 .3 1.1-1 1.2 .1 2 .9 .4 1.1 1.1 .8 3.4-.6 3.5 .3 1.5-.5 .8-1.3 2.1-1 .8-3.5 1.8-2.5 1.1-.3 2.3 0 1.2-.5 3.5 .6 1.1-2.9 1.5-2.5 .8-3.2 1.2-.5 7 .9 1.1 .8 5.8 1.3 1.1 3-1.2 1.2 .1 1.1 2.3 .6 .6 .6-.1 1.2 .7 1.4 1.1-.7 .6 .4 .9 2.3 .8 .8 1.2 0 3.5 1.1 1.1 1.9 1.8 .9-1.8 1.9-.7 2.8 .2 1.1 1.7 .6 1.2 1.1 1.1-.1 3.5 1.4 2.3 1.9 1.2 .3 2.3-.7 3.4 2.1 3-3.1 .4-2.3 1.1-2.3-.3-1.2-.5-1.2-1.7-1.1-.8-2-1.3-.4-.2-3.5-.8-.4-1.8 .4-.2 3.5-.3 .4-3.5-.2-1.5-1.3-.7-1.2 .4-3.5 .6-.9 2.4-.9 0-.5-1.2-.2-.8-1-.4-1.7-1.2-.6 1.5-2.3-1.1-3.5-.9-1.2 .6-1.4 3.5-1.7 2.3 .4 4.6 1.7 1.2-1.8 1.1-.5 2.3-.1 1.2-.8 1.7-.4-.2-1.2-2.7-1.1-1.1 0-1.2 .9-1.1 .2-2.4-.8-.3-3.8 3.8-.3 2.3-.9 .2-2.3 1-2.3 0-1.2 1.1-.7 1.2 .4 .4-.9-.4-.4-1.2-.1-.3-.6 .5-1.2-.1-2.3 .7-1.2zM466.1 174.6l0 1.2 1.7-1.2-.6-1zM372.3 160.3l-.4 .3 .4 .4 1.1-.2zM380.4 147.2l-.8 .6 .5 1.2 .4 7 1 2.3 1.2 0 2.5-2.3-.1-2.4-2-2.3 1-1.1-.2-1.3-3 .1 0-1.2zM393.1 189.5l0 .4 1.2 .8 1.3 .2-.2-1.5-1.1-.3zM401.2 179.3l-.4 1.1 .4 1.1 .4-1.1zM416.3 125.4l-5 1.5-.2 3.5-1 2.3-3.1 2.3-.2 1.2 .8 1.2 .6 0 1.1-1 1.2-2.4 5.4-2.4 1.5-2 .6-2.7-.6-1.2zM423.2 161.7l-1.1 .5-1.7 1.9-.3 2.3-.6 1.2-2.1 2.2-3.4 0-1.2-.6-1.2 .2-1.1-.7-2.3-3-1.2 .1-.9 1.8 .2 1.2-.8 2.3 .5 1.2-.1 .5-1.2 0-1.2-1.2-1.1 0-1 .7 .9 5.8-1 1.1 3.4 .7 1.3 1.7 1-3.5 2.3 0 1.2-1.2-.8-4.6 .8-.7 1.1 .4 1.2 1 1.2-1.5 1.9-.4 .4-.5 1.1 .2 .4 1.5 .8 .3 3.5 0 .4-.3 .6-3.5 1.6-4.7-.3-2.3zM429 174.3l-.5 1.4 0 1.2 1.7 3.9 1.1 .4 1.2-.6-.2-1.4-.4-1.1-1.7-1.2 0-1.8zM431.3 120.3l-.8 .8 .8 .3 .4-.3zM433.6 169.5l-1.1 1.6 2.3 1.6 1.2 .2 1.1-.4 1-1.4-.1-1.2-.9-.5zM445.2 170.9l-1.1 1.4-.1 1.1 .2 1.2 1 1.3 2.3 .9 2.4-.6 2-1.6 .1-1.2-2.6-2.3-1.9-.8zM459.1 160.9l-.6 .9 .6 .7 1.2 0 .4-.7-.4-1.1zM385 160.4l-2.3 2-1.1 1.7 .7 1.2 .6 2.3 1 .6 2.3 0 .6-.6-.5-4.7 .3-1.1-.4-.8zM407 157.8l-1.1 1.1-1.2 .1-1.2 2-1.1 .3-.4 1.6 2.7 .2 2.3-1 1.2-2.6-.1-1.2zM414 152.9l-1.2 1.1-1.2 .1-.2 .7 .2 1.5 1.2 1.2 1.2 0 1.1-.7 1.1-2-.5-1.2zM423.2 186l-.5 .2 .5 .7 .4-.7zM434.8 175.5l0 .3 1.5-.1-.3-.6zM523.9 71.1l2.2 0-.3 1.1-.7 .2-.7 1 0 3.5-1.6 .3-1-.3 0-1.2 1-3.5zM508.4 73.4l.5-.4 1.2-.1 4.8 .5 0 3.5-1.4 .3-1 .9-.1 3-1.2 .4-.4-3.4-1.5-1.2-1-2.3zM519.5 80.4l1-.9 1.1-.1 .8 1-.2 3.5-.6 1.1-1.1 .7-2.3-.7-.7-1.1 .1-1.2 .6-1 1.1-.4zM452.2 89.7l1.1-.9 3.5-.2 1.1 1.1-.2 3.5-.9 .7-2.3 0-3.5-1.4-.9 .7-1.4 .2-.2-1.4 2.5-.5 1-.6zM511.1 89.7l1.3-.3 4.6 2.6 1.2-.8 3.4 .5 .2 1.5-1.3 .4-2.4 1.9-2.3 1-1.1-.3-2.3 1.3-2.3-.2-.9-.6 0-1.2-.6-1.2 0-2.3zM438 90.9l.3-.7 .2 .7zM487.9 93.2l.2-1.2 1.2 1.2zM463.1 94.3l1.1 0 0 1.2-.7 0zM468.7 103.6l.8-.1 1.2 .6 .3 .7-.3 2.8-1.2 .3-2.5-.8 .7-1.1-.7-1.2 .2-.6zM407 106l.4 1.1-.4 .3zM499.6 115.3l3.5 0 0 2.6-.4 .9-1.1 0-.8-1.8-1.2-.4zM472.6 117.6l1.6 0-1.2 .6zM501.7 129.2l1.4-.2 1 .2 .2 1.2-1.2 1.3-1.1-.7zM496.4 138.5l.9-.4 .6 .4-.6 .8zM502.4 154.8l.7-.7 0 1.7zM354.9 161.8l1.2-.9 2.3-.3 2.3 .4 1.6 .8 .6 1.1-1 1.4-.5 2.1-.7 1.1-1.2 .3-1.1 .9-2.3-.5-1.2-.7-.8-1.1-.3-1.1 .3-2.4zM367.8 173.4l1-1 1.1 1-.5 1.2-.6 .2-.7-.2zM404.5 175.7l.2-.2 1.3 .2-.1 .5zM338.2 183.9l.5-.3 1.2 1 1 2.8-.1 2.3-.7 1.2-1.4 .9-1.8-.9-.8-1.2 .4-1.2-.2-1.1 1.2-3zM360.6 185l1.3-.2 2.3 .5 2.3 1.7 1.2 2.7-.4 2.3-2 2.4-3.4 1.8-2.5-.7-.7-2.3 0-3.5 .9-1.2zM347.6 196.7l.4-.6 1.1-.6 1.7 2.3-.2 2.4-1.5 2.7-1.1-.2-.8-1.4 .1-2.3-.3-1.2zM369.7 196.7l1.4-.8 1.2 .7 3.5-.1 .4 1.3-.4 .5-1.2 0-.8 .7 .2 1.2-.5 1.1 .5 1.2 .6 .6 1.6-.6 .6-1.2-.3-1.1 .4-.7 2.3 .2 2.9 2.8 2.3 3.5-.1 1.1 1.3 1.2-.1 1.2-1.6 .8-1.2 1.8-1.2 .4-1.1-1.3-1.2 .3-1.1-.6-1.2 .2-1.1 .9-2.4-.2-3.4-1.9-.4-1.6 .5-2.3 .9-1.2-.1-1.2-1.2-1.1 .1-1.2-.5-1.1 .6-2.4zM418.5 199l.1-.5 1 .5-1 .3zM420 200.2l.9-.4 .6 .4-.6 .7zM457.2 201.3l.8-.5 1.1 .2 .3 1.5-1.4 .4-.7-.4zM397.9 202.5l1-.9 2.3-.1 3.5 .7 1.2 1 1.1 2.2 1.6 1.7 1.9 .4 2.3-.2 1.7 1-1.7 4.6-2 2.4-.1 1.1-1.6 1.2-.7 1.2-1.4 0-.6-1.2-1.7-.5-1.2-2.1-1.1-.3-1.2-1.6-1.1-.7-1.6-1.8-.7-1.9-1-.4-.4-3.5zM388.1 204.8l.4-.6 1.1 .1 .6 .5-.1 1.2-.5 .7-1.1-.2-.4-.5zM441.7 209.5l1.3 1.1-.1 1.3-1.2 .3-1.4-.4-.9-1.2 1.2-.3zM418.8 214.1l.9-.4 3.7 1.6 .9 1.1 .1 2.4-1.1 2.3-1.2 1-2.4 .9-2.3 0-1.1-1.1-1.1-3.1 .4-1.2 2.8-2.3zM341.3 215.3l.9-.8 2.4 .8-.2 2.3-1.1 1.4-1.1 .1-1.2-1.5zM391.8 215.3l1.3 .2 .8 .9-.8 .8-2.3 0 0 .7 1.2 .5 1.1-.6 1.2 .7 1.1-.2 1.4 1.6 .4 1.2-.1 2.3-.7 1.2-.1 1.1-.9 1.1-1.1-.3-3.1 .4-1.6 1.4-2.3 .3-1.1-.3-.7-1.4 .5-1.2-.2-1.1 .9-2.3-.1-1.2 .8-1.2-.9-1.1 2-2 1.1-.2zM351.1 222.3l1.5-.5 2.3 .8 2.6 2 .3 1.1-.6 2.3-1.1 1.3-3.5 .8-2.3-.9-1.6-3.5 .4-1.5zM433.2 228.1l1.6-.5 1.2 .2 1.1 .5 .6 .9 .5 1.2 0 1.2-.4 2.3-.7 .7-2.3 .3-1.2-.3-1.9-1.9-.2-2.3zM473.2 228.1l1-1.1 1.1 0 2.2 2.2 .4 1.2 .1 1.2-.7 2.3-2 1.5-2.3-.2-1.1-.6-1.8-4.2 .6-1.5zM396.5 230.4l2.4-.6 .9 1.8-.4 1.1-1 0-.6-1.3zM343.5 233.9l1-.7 1.2-.1 2.7 .8 .8 1.1 0 2.4-2.4 1.1-1.1 2.8-1.2 .4-1.2 1.3-1.1-.2-.9-.8-.8-1.1-.4-2.4 .9-.9 .3-1.4 .9-1.2zM409.8 237.4l1.8-1.1 1.2 0 2.3 1.7 .5 .5 .4 2.4-.9 2.1-2.3 1.1-2.3-.3-.8-.6-1-2.3 0-1.2zM363.6 238.5l1.7-.6 1.2 .2 .6 1.6-.6 .6-2.3 .3-1.5-.9zM453.3 238.5l1.2 .1 1.1 .6 1.2 1.5 0 2.4-1.2 2.5-2.3 .3-2.9-1.6-.7-1.1-.4-1.2 .6-1.4zM379 245.5l2.5-.2 2.8 2.5 .1 1.2-.5 .8-2.4 2-2.3 .3-1.6-.8-.9-1.1-.3-1.2 .5-2.1 1.2-1.1zM335 246.7l1.4 .9 .6 1.4-.5 2.3-1.3 1.5-2.3-.1-1.1-.8 0-3.9 1.1-1z" fill="#bfe6f5" fill-rule="evenodd"/><path d="M501.8 31.6l1.3-.1 1.2 1.2 2.4 1.2 2.2 2.3 .3 1.2-1.7 2.3-4.4 2.3-1.1-.3-1.2-.9-1.2-1.1-.4-1.2 .1-3.5 .7-2.3zM512 42l.4-.5 2.3 .1 2.6 1.6 .6 2.3 0 2.3-.3 1.2-1.8 1.8-3.4 .4-.9-1-.7-4.7zM487.8 57.1l2.3 0 0 3.5-.8 2.3-1.2 .2-1.2 .9-.9 .1-.8 1.2-.1 2.3 .6 3.5-.4 3.5-.7 2.3-1.2 .4-.4 .8-.8 3.5-1.1 1.1 0 1.2-1.5 1.1-.8 1.5-1.2 .3-2.3 1.4-1.1 .2-1.2 1.5-1.2-.2-1.1 1.9-3.5-.2-.5-.5 .3-2.4-.2-1.1-1.9-.7-.4-.5-.1-1.2 .5-.8 1.3-.3 .9-3.5 4.8-.6 2.3-.8 2.3-.3 1.1 .3 .5-.9-.1-4.7 .5-2.3 .3-.6 1.5-.6 .3-1.1 .5-.5 2-.7 .3-2.9 1.5-.6 .6-4.6 1.4-.2 .7-1zM452.4 72.2l3.2-.6 4.7 .7 2.3 1.1 1.1 1.3 2.4 1 0 1.2-1.7 2.3-.7 .2-6.9 1.4-3.5-.1-2.4-1.5-.9-1.1-.5-2.4 .9-2.3zM497 72.2l2.6-.5 2.5 1.7 .6 1.2 .5 3.5-.6 1.1-3 .7-2.3-.6-1.8-1.2-.5-2.4 .1-1.1 .7-1.2zM518.7 82.7l1.3 0-.1 1.2-1.3 0zM497 88.5l.3-.3 1.2 .1 .6 1.4 0 1.2-.6 .8-1.2 0-2.5-.8 .2-1.7zM453.2 89.7l3.6 0 .1 3.5-2.3 0-1.3-1.3zM511.1 90.9l1.3-.4 1.1 .7 .8 .8 .4 1.5 1.1 0 .9 .8-.7 1.2-1.3-.8-.9 .8-1.4 .6-1.2-.2-1.8-2.7 .3-1.2zM470.3 93.2l.4-.3 0 .4zM491.7 95.5l1-.3 1.1 .4 2.1 2.2 0 2.4-.9 .9-.7 1.4-1.7 1.1-1.1 1.4-2.3 .1-2.3-1.3-2.3 2.6-1.2 .3-1.1 1.1-1.2 0-.9-1.8-1.4-.9-.6-1.5 .3-1.1-1.4-4.7 .5-.9 2.4-1.2 2.3 .1 4.6 2.2 1.2-1.8zM442.1 101.3l2-.9 4.6 0 6.9 2.6 1 .6 .3 1.2-1.3 1 .1 1.3 2.1 1.2 1.3 1.9 .8 1.6 .4 2.7 3.4 .4 1.2-.4 1.2 .2 2.3 1 1.1 1.9-1.1 4.3-1.3 .4-1 1.4-.6-.3-.3-1.1-.9 0-.6 1.8-1.1-.4-.5 .9 4 .3 1.6-.3 .7-.7 2.3 .8 1.2 1.4 3.4 .4 2 1.6 1.5 .6 1.2 .3 2.3-.3 3.4 2.2 1.2-.2 1.2 .5 1-.8-.4-2.3 .9-1.2 .7-2.3 1.2-1.1 2.3-.1 2.4 .5 2.3 1.8 .7 1.2 .6 2.3-.3 1.2-.6 1.2-1.6 1.3-2.3 .9-3.5-.7-1.1-.9-.6 .5-.3 1.2 1.1 4.6-.8 3.5 1.5 3.5-.2 7-2.7 2.3-1.1 2.3-1 1.2-4 3.2-4.7 1.7-6.9-1.1-1.2 .2-.9 .6 .2 2.4-.4 .6-1.2 .6-2.1 2.3-.3 1.1 1.2 2.4-1.6 2.3-.3 1.1 1.1 1.2 2 .6 2.2 1.7-1.1 4.7 .2 2.3-1.3 .5-5.8 .4-3.4-.6-2.4 .7-.4 1.3 .6 5.8-1.3 3.5-4.6 1-1.2-.3-1.1-1.8-2-1.2-.3-1.2-1.2-1.1 0-1.2 2.3-2.1 3.9-1.4-.4-1.7-2.9-1.8-1-1.1-3.1-1.5-1.7 1.5-.6 1.9-1.2 .7-1.1 .2-1.2-.6-4.1-4.5-.4-3.5-1-1.2-.3-3.7-2.3-.5-2.2 4.2 2.5 3.5 .3 1.2-.3 2.3-1.4 2.9-2.4 .4-1.1-2.3-1.2 .1-2.2 1.2-1.5 4.7 .8 1.1-.6 3.6-1.1 .3-2.6-.4 2.1-1.2 .1-3.4-.8-.4-2.2-3.1-3.6-3.2-.7 .8-1 2.4 0 2.3 .6 1.2-2.3 .9-2.3-.9-1.2-1.1-2.3 1.7-1.2 1.9-1.1 .4-2.3-.1-1.2 .4-.3 3.7-2 1.1-3.5 .5-2.3-2-1.4-1.9 .2-3.6-1.2 .1-3.4 1.7-1.2 .2-2.2-.7-.6-1.2-.4-4.6 .7-4.7-1.8-1.1 .2-4.7 .5-1.2 1.3-.8 3.5 .4 1.2 .8 1.1 .2 1.5-.6 .4-1.1-.7-1.2-1.2-.3-2-2-.5-2.3 3.7 .9 1.1-1.2 .4-.9-.7-2.3 .1-2.4 .7-1.1-.5-1.2-1.2-1.1-.7-2.4 1.1-1.1-.4-3.5-1.5-1.2 1-2.3 1-1.2-2.7-2.9-1.2-.3-3.5 .1-.9-1.5 0-2.3 2.1-2.3 .6 1.1 2.9 .7 1-1.9 4.7-5.2 1.2-2 2.3-1.5 3.5 1.1 1.4 1.8 2.1 .7 1.1-.3 2.3-3.6 3.5-1.8 .6-.8-.6-2.5 .6-1 1.7-1.3 3.5 .1 1.7 1.2-1.2 2.3-2.7 1.2-.1 3.8-2.1 2-1.4 .6-.8 1.7 .4 2.4 1.6 .3 .6-.3 1.7-2.7 6-3.1 1.9-3.5 .2-1.2-.4-1.2-1.7-2.3 .8-2.3-.4-2.3 1.7-1 1.1-.2 1.2 1.1 1.2-.3 1.1 .2 .9-1 2.6-.4 .7-.8 .2-1.1 1.6-1.2 .2-3.5 .8-1.3 1.1-.7 2.3 0 1.2-.5 3.5 1.7 .9-1.5zM447.5 169.8l-3.7 1.3-.9 3.3-1.1 1.3 1.1 .1 2.3 1.3 2.3 .4 2.4-1 2.7-1.9 .2-1.2-1.8-1.8zM455.6 115l-.5 .3 .5 2.9 1.2 .6 1.2 .1 1.6-1.3-1.4-1.2-1.4-.3zM460.3 116l-.7 .4 .7 .7 .8-.7zM390.8 159.4l-.9 1.2 .9 1.2 1.2 .7 .6-.7 .3-1.2-.5-1.1-.4-.4zM407 156.9l-2.3 1.1-2.3 2-1.2 1.6-1 .2-.1 1.4 2.3 .7 2.3-.2 2.3-.9 .9-1 .9-3.5zM414 152.3l-1 .2-1.4 .9-.4 1.4 .4 2.3 1.2 .7 1.2 .1 1.1-.6 1.4-2.5-.2-1.4-1.1-.9zM422.1 161.7l-2.1 2.4-.3 2.3-.6 1.2-1.7 1.5-2.3 .2-3.5-.7-3.4-3.5-1.2-.3-1.2 1.6-.3 2.4-.8 1.4-1.2 .6-2.3 .3-.4 1.2 .7 4.6-2.3 4.7 .9 1 1.1-.2 1.2-1.4 1.1-.4 2.4 1.9 1.4-.9 3.9-4.7-.1-1.2 .5-1.6 1.2 .8 .4-1.5 .8-.9 2.3 0 2.3 1 3.5-.5 1.1-.7 .6-3.5 1.4-4.7-.1-2.3-.7-.5zM430.2 116.2l0 .6 1.1-.1 .1-.3zM434.8 168.4l-1.2 .5-.9 1-1 1.2-.2 1.2 3.1 1.1-.5 2.3 .7 .9 1.2 .1 1.4-1-.8-2.3 2.4-2.3 0-1.2-1.9-1zM459.1 160.4l-1.6 1.4 1 1.1 1.8 .3 .9-.3 .3-1.1-.6-1.2-.6-.4zM392 185.7l-.6 .5 1.4 4.7 2.6 1 1.2-.8 .2-1.4-2-3.5-.5-.5zM430.2 119.2l-.6 .7-.1 1.2 1.8 1.1 1.2-.7 .3-.4-.5-1.2-1-.8zM438.3 176.7l0 .8 1.1 .1 1.2-.6 1.1 0 0-1.3-1.1 1.1-1.2-.5zM431.3 161.7l-.6 .1-.2 1.1 .8 .4 .4-.4 0-1.1zM486 110.6l3.2-.1 1.2 .7 4 .6 1.2 1.1 .5 1.2-.4 2.3-.8 1.2-3.4 2.7-1.1-.4-3-3.5-.7-2.3 .2-1.3-1.6-1zM480.6 111.8l.5-.5 .5 .5zM478.2 112.9l.6-1.1 1.2 .1 .5 2.2-.5 1.1-1.2-.1-.8-1zM376.4 145.5l.5-.3 1.2 .7 1.9 11.2-1.9 3.3-2.3 2.2-1.8-3.1-2.5-1.2-2.5-2.3-.7-1.2-.6-2.3 .6-2.3 1.7-2.1 4.6-2.3zM496.9 150.2l.4-.8 1.8 .8-.3 2.3-1.5 1.5-.7-.4-.2-1.1 .5-1.2zM490.4 157.1l2.3-.9 2.3 0 1.2 .8-.8 4.8-1.6 1.7-1.1 .4-2.3-.4-.8-2.9zM356.5 161.8l1.9-.3 2.3 .9 .4 .5-1.2 3.5-1.5 1.2-2.3-.2-1.1-1-.5-1.1 .5-2.4zM377.6 165.3l.5-.5 2.3 0 .6 .5 0 1.1-.6 .9-1.8-.9zM481 168.8l3.6-.9 2.3 .6 .2 1.4-3.7 1.4-1.1-.7-1.2 .3-.5-1zM468.9 173.4l1.8-.8 2.3 .3 .8 .5 .1 1.2-.9 1.9-2.3-.7zM360.7 187.4l1.2-.7 2.3 .4 1.1 1.1 .8 1.5-.2 1.2-1.4 2.3-2.6 1.1-1.2-.4-.6-.7-.3-3.5zM471.6 187.4l3.7-.5 .5 .5 0 1.1-.5 .9-2.3 0-1.1-.6zM433.4 188.5l.2-.2 3.1 1.4 .1 1.2-.8 2.6-1.8 .8-.4 1.2 1.2 1.2-1.4 .2-.3-1.4-.8-.6-1-4 .4-1.2zM466.9 192l.3-.6 3.5 .5 0 1.3-3.5 .5zM376.6 203.6l2.6-.4 1.2 .5 .4 1.1-1.5 1.2-.4 1.1-2 .5-1.1 1.9-1.2-1.2-.8 1.2-.8 0-.7-1.2 1.1-2.8 .5 .5 .7 2.2 .3-2.2zM399 203.6l2.2-.8 3.5 .5 1.9 2.7 .5 1.1 1.1 1 1.6 .2 .7 .8 .2-.8 2.3 0-.2 1.8-1.2 .9-2.3 .3-1.1-.4-.5 .9 .6 1.2-.1 1.8-1.2 .3-1.1-1.3-1.2 .2-1.2-.7-1.1-.1-1.2-1.3-1.8-1.3-1.2-2.3 .2-2.3-.3-1.2zM471.7 206l2.5-.8 2.3-.1 1.1 .4 .2 .5 .1 1.1-.7 1.2-.1 1.2-.9 1.1-1.3 5.8 .3 1.2-1 1.9-1.2 .2-1.1-.2-1.1-1.9-2.1-1.2-1.2-2.3-.1-1.1 1-2.4 1.9-1.1 .6-2.4zM418.2 216.4l1.5-.8 1.2 0 1.7 .8 .8 2.4-1.3 2.5-2.4 .8-2.3-.4-.5-.6-.5-1.2 .1-1.1 .4-1.2zM389 219.9l.6-.5 2 1.7-.8 .9-2.3-.2-.4-.7 .4-1zM392.6 221.1l.5-.3 .3 .3 1.1 2.3-1.3 2.3-1.2-.6-.8 .6-1.2 0-1.9-1.1 1.5-1.6 1.2-.4 1.2 1.3zM351.1 223.4l1.5-.8 3.5 1.6 .9 1.5-.7 2.4-1.4 .9-2.3 .2-1.9-1.1-1.1-2.4 .4-1.1zM433.3 229.2l1.5-.7 1.2 .2 1.1 1.1 .3 1.8-.3 1.1-1.1 1.2-1.2 .3-1.2-.5-1-1-.4-1.1 .2-1.2zM472.4 229.2l1.8-.9 1.1 0 1.7 2.1-.3 2.3-1.4 1.7-2.3-.3-1.1-1.4-.4-2.3zM343.1 236.2l1.4-.9 1.2-.1 .7 2.2-.7 .8-1.4 .3-1 1.9-1.1-1.9zM411.9 237.4l.9-.1 1.2 .8 1 1.6 .2 1.2-.7 1.1-1.7 .9-1.2-.1-1.7-1.9-.1-1.2 .4-1.2zM453.1 239.7l1.4 0 1.1 1 .6 1.3-1.3 2.3-1.6 .6-1.3-.6-1.5-2.3 .6-1.1zM378.1 246.7l1.1-.5 2.3 .1 .5 .4 .8 1.1 .3 1.2-1.6 2-2.3 .4-1.7-1.2-.4-1.2 .2-1.2zM332.4 249l.5-.6 2.3 0 .5 .6-.5 1.7-1.1 .5-1.2-.3-.5-.7z" fill="#aadff2" fill-rule="evenodd"/><path d="M501.8 32.7l1.3-.3 2.6 1.5 2.3 2.3 .2 1.2-1.4 2.3-3.7 1.6-1.1-.3-1.6-1.3-.7-2.3 .2-2.4zM512.7 43.2l.8-.7 3 .7 .5 1.1 .2 2.4-.6 2.3-.8 .8-2.3 .3-1.1-.2-1.1-3.2 .1-1.2zM480.4 71.1l.7-.5 1.2-.1 .9 .6 .2 3.5-.5 2.3-.6 1-1.2 .1-1.5-1.1-.2-1.2-.6-.6 0-1.9 1.2-.5zM454.4 72.2l3.6 .1 3.6 1.1 2.2 2.3-.4 2.4-.8 .6-1.2 0-2.3 1-3.5 .4-2.3-.2-2.3-1.5-.9-2.7 .9-2.2zM496.5 73.4l.8-.7 2.3-.3 1.7 1 .9 2.3 .1 2.4-.3 .4-2.4 .9-3.1-1.3-.9-2.4zM473.3 80.4l3.2-.3 1.1 .6 1.2-.8 .7 .5 .6 1.2-.4 2.3-2.3 2.3-2.1 1.3-1.1 .2-1.2 1.1-1.1-.3-1.2 .7-1.2-.4-.5-1.4-.1-2.4 1-1.1 .4-2.3 .4-.5 1.2 0zM510.6 92l.6-.5 1.2-.2 .7 .7 0 2.3-.7 .4-1.2-.3-.8-1.2zM479.7 96.7l2.6-.4 4.6 2.4 1.2-1.5 1.1-.8 3.5-.1 2 1.5 .3 2.4-1.4 2.3-2.1 1.8-2.3 0-2.3-1.5-2.3 2.2-2.3 .7-2.9-2.1-1-3.4 .1-2.4zM443.6 101.3l2.8-.5 3 .5 4.6 2.3 1.5 1.2-.5 1.2 .2 1.1 2.1 2.4 1 2.3 .8 .3 .8 3.2-.8 .6-1.8-.6-1.7-1.5-1.8 .3-.4 1.2 .9 1.1 .8 3.5 1.7 .4 2.3-.7 1.3-.8 1-1.6 1.2-.6 1.8-.2 .5-.8 1.2 0 .7 .8 1.6 .5 .4 .7-.4 2.4-.9 1.1-1.4 0-2.4-.9-1.1 .8-1.8 2.4 .4 1.2 1.4 .6 1.1-.1 2.4 .6 3.4-.5 1.2 .5 1.2 1.1 3.4 .3 .9 1 2.6 1.1 3.5 .2 5.8 3.8 1.1 1.6 .9 2.6-.1 2.3-1 2.3-.1 1.2 1.5 .8 .6 1.5-.2 5.8-.4 1.2-2.7 2.3-2 3.5-3.4 2.8-4.7 1.6-6.9-1-1.2 .1-1.7 1.1 .5 1.2 .1 1.2-3.5 2.8-.5 1.8 .7 2.4-1.4 1.8-1.2 .5 .1 1.5 3.9 2 .9 1.1 .3 2.4-.9 2.3-.7 1.1-2.4 .4-2.3 1.2-3.4-.6-2.4 .8-.7 .6-.3 1.1 .5 4.7-.2 2.3-1.6 1.7-1.1 .5-2.3 .3-1.2-.4-.6-.9-1.9-1.2-1.2-2.3 .1-1.2 3.3-2.3 1.5-.3 1.2-.9-1.1-2.3-2.1-1.2-.4-1.8-.5-.5 .5-.2 .4-.9 0-1.2-.4-.8-1.1 2.6-1.2-.8-2.3 .2-1.8 1.1-1.7 2.3-1.1 .4-.8-.4-.5-1.1-2.2-2.5-1.2-.6-.2-2.7-.7-1.2 .9-.6 1.2 1.1 2.3 0 1.2 1.5 2.3-.8 1.1 .2 1.2-.6 2.3 1.1 1.2-.6 1.1 .6 .2-.7 5.6-3.4 1.4-.1 .3-1.2-.5-.7-1.2 .2-3.4-2.8-2.4-.7-6.2 1.7 .4 .5 0 1.8-1.1 1.6-2.3 .2-.5-.6-.1-1.2 2.1-1.1 .7-1.2-.3-1.2-5.4-2.1-1.2 .3-2.3 2.8-1.1 .7-1.8-.5-.5 1.8-.6-.6 .4-1.2-.9-2.3-1.3-.2-.6-2.2 .9-2.3 .1-2.3-1.5-1-2.3 .4-1.8 1.7-1 2.4 0 1.1-.6 1.2-1.3 1-1.1 .3-4.7-.7-3.7-4.1-.2-1.2 .8-1.1 1-3.5-1.1-1.2-1.4-.7-1.1 .1-2.4 2.1-1.9 .9-.4 .6-1.1 .5-.6 1.2-.1 2.3 .7 .3 3.4-.2 1.2 .2 1.1 .9-.9 3.5-1.1 1.1-3.7 .8 .8 5-.1 1.2-2.2 3.5-.4 1.2 .3 1.1-.7 .9-1.2-.2-1.1 .5 .4 1.1-.5 .2-.9-1.3-1.4 0-2.3-.7-.8 .7 1.4 5.8 .7 1.2 3 2.3 .4 1.1 .4 1.2-.8 2.3-.8 .5-3.5 .4-3-3.2 .4-3.5-.9-.7-4.6 1.7-1.2 .2-1.1-.5-.8-.7-.6-4.6 2-7-1.8-.4-.7-.8 .1-2.3 .6-1 1.2-.2 2.3 .5 1.2 1.2 2.3-.2 1.1-.7 1.2 .8 .5-.4-2-3.5 1.3-5.8-.6-2.3 .3-2.4 .5-.5 1.1 .1 3.5 .9 1.2 .7 .2-1.2-.8-1.1-.6-3.2-1.1-.2-3.5 1.1-1.2-1.2-.3-1.2 1-1.1 0-1.2 3.8-1.2 .2-1.1-1.2-1.5-1.2-.3-2.3-1.6 .3-1.3-2.4-2.3-.5-1.2-.3-1.1 .3-2.3 3.1-4.7 1.8-1.7 1.2-1.8 2.3-1.8 1.9 .7 1 1.1 4.1 1.6 2.3-1.1 1.8-2.8 1.7-1.3 .6 1.3-.4 2.3-.2 .4-1.2 0-.4 .8 .4 2.9 1.2-.2 .1 .8 1 .7 1.2-.1 1.1-.6 1.2-2.2 1.1-1 2.4-.8 2.9-1.8 1.9-3.5 .9-3.3 .5 .9 .7 .2 2.3-1.3-.2-2.3-.9-.8-3.5 .2-.4-.6 .4-1 1.1-.1 1.2 .6 2.3-1 4.3-.8 .4-.8 .5 .8 .2 2.3 1.6 1.2 1.1 .3 1.4-.3 1-1.2-.1-1.2-1.3-2.3-.9-3.5-1.2-.5-.3-.7 .3-2.3 1.1-1.1 3.5-.7 2.6 1.8 .9 1.7 .6-1.7 1.1-1.1 1.7-5.9zM459.1 160.2l-3 1.6-.8 1.1 5 .7 2.3-.7-1-2.3-1.3-.8zM469.5 131.3l-1.1 .3 1.1 .4zM474.2 147.2l-1 .6-.4 1.2 2.5 .3 2.3 1.2 .4-.3-.1-1.2-1.3-1.2-1.3-.7zM485.7 135.8l-.3 .4 0 1.2 .3 .3 .4-.3zM392 146.5l-.4 1.3 .4 .2 .8-1.3zM402.4 149.5l-.3 .7 .3 1.1 .5-1.1zM412.8 152.3l-1.2 .3-.5 1 .1 3.5 1.6 1.1 2.3-.3 1.6-3.1-.4-2-1.2-.6zM424.4 123l-.9 .4-.3 1.2 1.2 .9 .8-.9zM430.2 161.6l-.4 1.3 .4 .6 1.1 .5 1.2-1.1-.2-1.1-1-.4zM438.3 114.7l-.8 .6-.6 2.3 .2 .5 1.2 .3 2.2-.8-.1-1.2zM469.5 137.3l-1.1 1.1-.1 1.3 1.2 .6 .5-1.8zM416.3 160.6l-1 1.2 1 .4 .7-.4zM488.5 111.8l.7-.4 3.5 .4 2 1.1 .7 1.2 0 1.2-1.2 2.3-2.7 1.8-1.1-.5-2.4-2.5-.5-2.3zM410.3 123.4l1.3-.5 1.2 .1 .5 .4-.1 1.2-1 1.1-2.9 .6-.7-.6 .3-1.1 .4-.8zM492.4 124.6l1.4-.5 1.2 .1 2.3 1.2 1.3 1.5 .7 2.3-.4 1.2-.8 1.2-1.9 1.3-1.2 .3-2.3-.6-1.2-.6-1.1-1.6-.5-2.3 .7-2.4 .9-.9zM380 142l.4-.7 1.3 .7-.4 1.2-.9 .3-.5-.3zM376.8 146.7l1.6 4.6 .8 4.7-.8 2.3-1.5 1.1-2.3-.5-4.6-2.9-1.3-3.5 .4-2.3 2-2 3.5-1.5zM490.3 159.5l.1-.3 1.6 .3-.3 1.1-1.3 .1zM355.8 162.9l1.4-.7 1.2 0 1 .7 .4 1.2-.3 1.2-1.1 1.5-1.2 .1-1.3-.5-.7-1.1 0-1.2zM384.7 171.1l.3-.3 .3 .3-.3 .3zM424.2 171.1l.2-.7 .4 1.9 .7 .9 1.2-.3 .6 .5-2.2 2.3 .2 1.2 3.4 3.5-.3 3.5-.5 1.1-3.5-2.5-2.3 2.5-1.2 .5-.5 .7-.7 2.4-1.1 .8-1.2-.4-5.1-5.1-.7-.5-1.1 .3-2 7.2-.6 0-.4-1.2-.5-.3-2.3-.5-3.1 2-.4 1.1-.9 1.2-.9 0-.5-.7-1.1-.3 1.1-.4 .6-.9-.6-2-1.1-.4 1.1-.3 2-2 1-3.5 .5-.5 1.1-.4 2.4 1.5 3.4-1.7 0-1.2 1.4-2.3 2.1-1.7 1.2-3.3 2.3 0 2.3 1.1 4.6-.8 .9-1.1zM471.1 173.4l1.1 0-.3 .7zM360.6 189.7l1.3-.9 1.1-.2 1.6 1.1-.1 1.2-2.6 1.7-1.2-1.5zM432.5 189.7l1.3 0-.2 .3zM399.5 204.8l1.7-.9 1.2-.2 2.3 .8 1.2 1.3 1.1 2.5-.2 2.3-.9 1.5-1.2 .6-1.2-.5-1.1 0-2.3-1.7-1.2-2.2-.1-1.2zM474.2 206l1.6 1.1-.1 2.4-2.4 6.9-.3 .6-1.1 .2-1.6-.8-.8-.8-.7-1.5-.1-1.1 1-2.4 1.7-1.1 .5-1.4 1.1-.1zM419.7 216.4l1.2 .1 1.2 .8 .6 1.5-.6 1.6-1.2 .9-1.2 .2-1.2-.4-1.3-1.2 .6-2.3zM350.9 224.6l1.7-1.2 3 1.2 .6 1.1-.8 2.4-1.6 .6-2-.6-1.3-2.4zM434.8 229.2l1.2 .4 .7 .8 0 1.2-.7 1.4-1.2 .4-1.4-.7-.5-1.1 .2-1.2zM472.6 230.4l1.6-1 1.1 .1 .8 .9 0 1.2-.8 1.7-1.1 .2-1.2-.7-.6-1.2zM411.4 238.5l1.4-.4 .6 .4 .8 1.2-.2 1.6-1.2 .6-1.2-.2-.7-.8-.1-1.2zM452.3 240.9l1-.5 1.5 .5 .6 1.1-.9 1.4-2.3 0-.7-1.4zM378 247.8l1.2-.9 1.2 .1 1.1 .3 .7 1.7-.8 1.2-2.2 .5-.9-.5-.6-1.2z" fill="#95d8ef" fill-rule="evenodd"/><path d="M501.8 33.9l1.3-.6 2.3 1.1 1.9 1.8 .2 1.2-1.3 2.3-.8 .5-2.3 .6-1.1-.5-1.2-1.2-.6-1.7 .3-1.2 .2-1.2zM512.7 44.3l.8-1 2.3 .4 .8 3-.9 2.3-2.2 .5-.7-.5-1-2.3 .2-1.2zM451.9 73.4l2.6-.9 4.6 .3 1.5 .6 2.1 2.3-.4 1.2-2 1.7-3.5 1-2.3-.1-1.2-.2-2.3-2-.4-1.6 .4-1.2zM480.8 73.4l.3-.5 1.2 0 .2 .5-.2 2.9-1 .6zM497.2 73.4l2.4-.5 1.2 .7 .9 2.1-.6 2.4-1.5 .8-2.3-.9-.9-1.1 0-2.3zM472.8 81.6l1.4-.7 2.3 .3 1.4 1.5 .5 1.2-.8 .5-1.1 1.8-1.2 .8-1.1 .1-1.2 .7-1.1-.5-1.2 .3-.5-2.6 1.2-2.3zM511.6 93.2l.8-.7 0 .9zM479.4 97.8l1.7-1 1.2 .1 3.4 1.5 .9 .6 .3 1.2-.4 2.3-1.9 1.6-2.3 .1-1-.6-1.3-1.3-1.1-2.1-.1-1.2zM488.6 97.8l1.8-1 1.1 0 2.3 1.4 .6 2-1.5 2.3-1.4 1.1-2.3-.1-1.5-1-.7-1.2-.1-1.1 .5-1.2zM443.8 102.5l1.4-1 2.3-.1 5.8 2.9 .8 .5 .6 2.3 2.5 3.5-.4 1.6-2.3 1.1-2.3 .4-2.3-1.3-.8 .5 .8 1.8 3.6 1.7 .4 2.4-2.1 2.3 1.5 .2 1.2-.6 2.3 .5 2.3-.4 1.2-1.2 1.7-.8 0-1.2 .6-.3 1.9 .3 .4 1.1 1.2 0 .5-1.1 1.2 0-.6 1.9-1.1-.7-1.2 0-2.3 .8-2.8 3.8 .7 1.2 .9 .6 1.2 .5 1.6 0 2.3 1.2 1.1 2.3-.9 2.4 .2 1.1 2.6 .6 .4-.6 .2-1.1-1.3-4.7 .7-.5 1.2 .4 1.2 1.2 2.3-.3 4.6 2 3.5 .2 2.4 1.7 2.1 2.3 1.3 .5 1.1 1.5 .5 1.5 0 2.3-2.1 3.5 .5 .7 1.1 .2 1.2 .8 .2 .6-.2 5.8-.7 1.2-2.6 2.3-.9 2.3-.9 1.2-3 2.5-4.7 1.6-8.1-1-2.3 1.2-2.3 .2-1.2-.5-.8-1.7-2.6-1.2-5 2.4-.8 .9 0 .4 5.8 1 5.8-1.1 1.1 .5 .4 .6-.1 1.2-2.6 1.9-.8 1.6 .4 3.5-.8 .8-1.3 .3-.7 1.2 .3 2.3 3.1 1.2 1.1 1.1 .4 2.4-.5 .9-1.2 .3-.5 1.1-1.8 .4-2.3 1.7-1.2-1.6-1.1 .3-3.5 2.6-1.2 .4-1.1-.1-1.2-.7-1.1-1.3-1.3-.6-.2-2.3 1-2.3-.9-1.2 .4-1.1 1.6-1.2 2.8-1.5 1.2 .2 1.5-1 .5-2.3-.9-.9-2.3 .1-3.4-2.1-2.4-.5-3.4 1-3.5-.6-1.2-.7-3.4-.8-1.2-.8-1.2 0-.7 1.8-1.6 1.6-1.1 .4-1.8-.9-1.7-2.3-1.2-.8 .2-1.5 .9-1.2-.1-1.2 .6-1.1-2.7-1.4-2.3 .3-2.2 2.2-.9 2.4 0 1.1-1.6 1.9-2.3 .1-3.5-.6-1.5-1.4-1.2-2.3-.2-1.2 .5-2.3 1-2.3-.5-1.2-3.8-1.5-2.4 2.1-3.4 1.6-1.5 3.6-.8 .7-1.2-.4-1.2-.5-.8-.9-.5-3.5-1-.6-1.1-.1-3.5 .8-.2-1.3 1.9-1.1 .3-1.2 1.5-.4 1-.8 .1-1.1-1.2-3.5 2.1-1.2 .5-1.1-1.4-1.4-1.1-1.8-.5 .8 .2 1.2-2.1 2.4-2.2-1.2-1.1-1.2-.6-2.3 .3-1.2 1.3-1.9 1.2-3.7 3.5-3 1.1-1.5 2.3 1.6 4.7 1.6 2.3-.6 1.1-.9 .6 3.8 .6 .7 1.2-.3 1.1 .7 1.2-.3 1.1-.6 2.3-3.1 3.5-1.3 2.2-1.6 2.4-4.6 3.5-1.5 1.2 .5 .7-.3 .7-1.1-1-3.5 .7-1.2 1.2 0 1.2 1.7 3.4 1.3 2.3-.6 .6-1.2 .3-2.3-2.4-4.7-1.1-1.2-.3-1.1 .6-1.2 1.2-.7 2.4-.4 1.5 1.1 1 2.3-1.4 1.2 .2 1.2-.7 3.5 2.8 .1 3.4-1.1-.3-1.4-2.5-2.3-.2-1.2 .7-.9 1.2 .5 .7-.7-.3-3.5 .4-2.3zM448.7 117.4l0 .7 1.2 .2 1.4-.7zM469.5 136.8l-1.1 1-.4 1.9 .4 .9 1.1 .5 1.1-1.4 .2-1.2zM474.2 146.3l-1.7 1.5-.5 1.2 3.3 .9 2.3 1.7 .5-.3 .9-1.1-.6-1.2-3.1-2.6zM480 133l-.5 .9 .5 .6 1.1-.1 .5-.5-.5-.9zM485.7 134.5l-1.2 1.7 .2 1.2 1 .8 .9-.8-.1-1.2zM458 177.6l-1.2 .5 .3 2.3 .9 1.5 1.1 .3 1.2-1.8 1.1-.7 0-1.1zM402.4 145.1l-.5 1.6 .2 1.1-.9 2.4 .3 1.1 .9 .6 1.7-.6-.5-2.3 .3-2.3-.4-.7zM405.9 152l-.7 .5 .7 .6 .5-.6zM411.6 152.2l-.5 .3-.3 1.1-.2 3.5 1 1.2 3.1 1.2 0 2.3 .4 .4 1.2 .4 1.1-.5 .4-.3-.4-.8-1.7-1.5-.3-1.2 1.5-3.5-.5-2.3-2.4-.6zM430.2 161.3l-.9 .5 0 1.1 .7 1.2 1.3 .5 1.2 0 .5-.5-.3-2.3-1.4-.6zM433.6 164.8l-.3 .5 .3 .6 .4-.6zM488.7 112.9l.5-.5 2.3-.3 2.3 .8 .9 1.2-.2 2.3-1 1.2-2 1.1-1.1-.5-1.7-1.8-.5-1.1-.1-1.2zM491.6 125.7l2.2-1 1.2 .1 2.3 1.3 1.2 1.6 .3 1.5-1.3 2.4-1.3 .8-1.2 .2-2.9-1-1.3-2.4-.1-1.1zM373.5 147.8l1.1-.5 1.7 .5 2.2 5.8-.1 2.4-.3 .7-2.3 .9-1.2 .2-2.3-1-2.3-2-.5-1.2-.2-1.1 .4-2.3 2.6-2.1zM357 162.9l1.4 0 .6 1.2-.6 1.9-1.2 .1-1.4-.8-.1-1.2zM388.6 164.1l2.2-.6 3.5 1.8 2.3-.7 2.3 0 1.2 .4 3.4-.4 1.2 .7 0 1.3-.5 1-.7 .8-1.1-.1-.2 1.6-1 .3-1.1-.7-.9 .4 1.1 3.5-.2 3.2-2.3 4.1-2.4 2-1.1 .2-4.7-1-2.4-2.7 .1-1.2 1.2 1.2 1.1-.7 .4-1.6-1.7-3.5 1.1-2.3-.2-1.2 .6-1.1 .3-2.4-1.3-1.1zM398.9 168.7l-.5 .1 .5 .4zM416.4 174.6l1-.2 1.2 .5 1.1-.5 2.8 .2 .3 2.3 1.6 .4 3.7 3.1-.2 2.1-2.8-.9-.7-1.3-1.2 1.6-.7 2-2 1.1-1.9 3.2-1.2-.5-4.2-3.8-2.7-1.9-.6-1.6 1.4-2.3 2.1-1.2 .6-.8 1.3 .8 .8-1.2zM436 178.1l1.1 .3 1.2 1.9 1.1 .6 .7-.5-.2-1.2 .7-.4 2 .4-.8 2.4-1.2 .2-1.2 1.2-1.1 .4-1.9-1.8-.4-1.3-1.6-1.1 .4-.6zM382.3 182.7l1.6-.8 3.4 1.2 1.8 1.9 .3 2.4-.2 1.1-.7 1.2-1.4 1.2-4.4 1.5-1.2 0-1.4-1.5-.5-3.5 1.4-3.5 .5-.9zM402.6 183.9l.9-.7 2.4 .8 2.3-.9 1.1 .8 .2 1.1-1.3 4-2.3-1-2.4 .1-1.1 1-.6-.6-.2-1.1zM450.1 189.7l.9-.7 1.2-.1 1.1 .5 1.1 1.5 .1 3.4-.3 1.2-3.2 1.7-2.3-.4-1.8-1.3-.5-1.2 .2-2.3 2.1-1.9zM389.6 190.9l1.2-.4 3.5 2.9 .9 2.1-.9 2.2-3.5 .4-1.6-1.4-.8-1.2 .1-2.3zM401 204.8l1.4-.3 2.3 .9 .6 .6 1.1 2.3-.5 2.3-1.2 1.1-2.3-.2-2.5-2-.6-1.2 0-1.2 .8-1.5zM469.8 213l.9-.8 2.3 .8-.7 1.1-1.6 .6-.7-.6zM418.7 217.6l1-.6 1.2 .2 1.1 1.6-.4 1.1-.7 .7-1.2 .2-1.1-.5-.4-.4-.2-1.1zM351.8 224.6l.8-.5 2.3 .7 .7 .9-.1 1.2-.6 .8-1.1 .5-1.2-.3-1.4-2.2zM434.1 230.4l.7-.3 1.2 .3 0 1.3-1.2 1.1-1.2-1.2zM452.8 242l.5-.4 1.3 .4zM379.1 247.8l1.5 0 .5 1.2-1.9 .7z" fill="#6ccfe9" fill-rule="evenodd"/><path d="M501.4 35l1.7-1 2.3 1 1.2 1.1 .4 1.3-1.4 2.3-2.5 .6-1.2-.6-.9-1.2-.2-1.1zM513.4 44.3l1.5 0 .9 1.2 0 1.5-1.1 1.7-1.2 .1-1.1-2.1zM452.7 73.4l2.9-.7 3.5 .4 1.8 1.5 .5 1.1-.4 1.2-1.9 1.6-2.3 .6-3.5-.4-1.8-1.8-.4-1.2zM496.8 74.6l.5-.7 2.3-.4 1.2 1 .4 1.2-.4 1.5-1.2 1-2.3-.7-.8-1.8zM472.3 82.7l1.9-1 1.1 0 1.2 .6 .8 1.6-1.3 2.3-.7 .5-2.3 .4-1.5-.9-.4-1.2zM480.2 97.8l2.1-.5 3.6 1.7 .5 1.2-.1 1.1-.5 1.2-1.2 .9-2.3 0-2.3-2.1-.6-1.1-.1-1.2zM489.8 97.8l1.7-.3 2 1.5 .2 1.2-2.2 2.9-2.3-.2-1.1-1.6-.3-1.1 .4-1.2zM445.3 102.5l2.2-.4 5.3 2.7 2.3 3.5 1 2.3-.5 1.2-1.1 .8-1.2 .1-1.1-.1-2.3-1.2-1.2 .1-.6 1.4-.1 3.5-.5 .5-2.3 .3-1.1-.1-.6-.7 .2-1.1-1-2.4 .4-1.1-1.4-2.1-.1-1.4 .5-2.3 2-2.7zM432.2 110.6l2.6-.6 .8 .6 .6 2.3-1.1 1.2-.3 2.3-1.7-2.3-1.3-1.2-.2-1.1zM490.8 112.9l.7-.2 1.4 .2 1.1 1.2 .3 1.2-.5 1.2-2.3 1.6-1.1-.5-1.5-2.3 .3-1.8zM435.6 119.9l3.8-1 5.8-.1 2.3 .4 .6 .7 4.1 1.8 2.3-.3 2.3 .7 1.2-.2 .8 1.5 2.6 2.2 2.3 .4 2.4 1.5 .8 1.7-.7 2.4 .2 1.1 3.1 1.4 1.1-2.5-.4-2.4 .5-.6 3.5-.3 1.1 .2 3.5 1.8 3.5 .2 2.6 2.2 .2 1.2-1 2.3 .5 1.5 1.1 1 .5-.2 .7-.6 .3-1.7 .9-.9 1.1 1.6 .1 2.8-2.4 3.5-.1 1.1 2.4 .6 .7 .6 .4 1.2-.5 4.6-3.4 3.5-.6 2.3-.9 1.2-2.6 2.2-3.5 1.4-1.2 .2-8.1-1-2.3 .7-1.1-.1-4.7-2.5-1.1 0-5.6 2.6-.7 1.1 .5 .6 4.3 .6 1.5 1.2 4.6-1.7 1.8 .5-.1 1.2-2.1 1.1-.7 1.2-.5 2.3 .4 .7 .2 1.7-2.7 1.1-.9 3.6-1.5-.1-1.6-1.2 .2-2.3 .6-1.1 1.3 0-.2-.7-1.1 .4-.5-.9-1.9-.6-2.3 0-.8-.6-.5-1.1 .2-2.3-2.3 .3-1.2 1.7-1.2-.8-1.1 1.1-2.3-.3-1.2-.8-2.3 .5-3.5-.3-2-1.5 0-1.1-1.5-1.8-.7-1.7-1.6-.9-2.3 .6-4.6-1.4-2.3 0-3.1 2.8-.3 3.5-1.3 1.6-2.3 .1-3.5-.8-1.1-.9 .2-2.3-.7-3.5 .5-.9 1.1 .7 1.2-.5 1.2 .3 .1 1.6 1 1 1.2 .4 2.3-1.4-.3-1.2-2.2-2.3 1.1-3.5-.5-2.3-1.6-.7-3.5 .1-1.2 .6 .1 3.6-1.2 .5-1.5-.6-1.4-1.2 .5-1.2 1.4-1.1-.1-.6-.4-.6-3.1-.9-.5-1.4 .5-2.3-1.2-1.9-1.1-1-.9 .5-1.4 3.4-.3 1.3 .3 1.6 .3 .7 2 1.2 1.3 0 1.8 2.3-2 1.7-1.1 .3-2.3 1.4-.9 2.4-1.4 2-2.4-.6-.8-1.4-.3-3.1-1.4-1.5 .4-1.2 1-.4 .3-1.9-1.5-3.5 1.9-1.2 .4-1.1-.8-2.4 .8-.7 1.5-.4 .3-2.3-.6-1.8-1.1 .6-1.2 1.2-1.2 2.2-.7-2.2-2.8-.3-.9-.9 0-1.2 1.3-2.3 .8-.6 1.2-.2 1.1-1.7 2.6 1.3 .9 .9 1.2-.4 2.3 .4 1.1-.2 3.5 3.3 1.2-.5 1.1 .3 1.2-.3 1.1-.7 2.3-2.9 3.5-1.3 2.3-1.7 2.3-4.4 3.5-1.5 1.2 .3 1.1-.4 .7-1.3-.1-1.2 .6-.8 2.3-.2 2.3 .8 1.2 0 1.5-.9zM468.4 137.2l-.7 2.5 .7 1.4 1.1 .4 1.2-1.1 .5-1.9-.5-1.1-1.2-1.1zM474.2 145.5l-2.4 2.3-.5 1.2 1.7 .9 2.3 .4 2.3 2.1 1.2-.7 1-1.5-.7-1.2-3.8-3.3zM480 132.1l-.9 .6-.2 1.2 1.1 1.3 1.1-.2 1.3-1.1-.4-1.2-.9-.5zM411.6 160.8l-.7 2.1 2 0-.1-1.4zM423.2 131.1l-.7 .5-.4 1.1 1.1 1.1 .6-2.2zM492.9 125.7l.9-.5 2.4 .6 1.3 1.1 .7 1.2 .2 1.1-.5 1.2-1.7 1.6-1.2 .1-1.8-.5-1.4-1.2-.5-2.3 .4-1.2zM389.2 143.2l.4-.3 .3 .3-.3 .7zM389.1 145.5l.5-.8 .7 .8-.7 .6zM371.9 149l2.7-1 1.2 .4 2.3 5.2 0 1.4-.7 1-1.6 .7-2.4 .1-1.1-.5-1.5-1.5-1-2.3 .1-1.2 .4-1.1zM390.7 164.1l5.9 4.2 2.3 2.6 1 2.5-.2 2.3-1.9 3.7-1.2 1.3-2.3 1.4-2.8-.5-1.3-1.2 .4-3.5-1.2-3.5 1.1-3.5 1-1.1 .6-2.4-1.3-1.1zM400.7 165.3l3.1 0-.3 .3-1.1 0-.8 .8-.4 1.6-1.1 .1-.5-.5-.1-1.2zM426.6 165.3l1.3-1.2 2.3 1 1.6 .2 1.4 1.1-.1 1.2-1.8 2.4-1.1 .4-1-.5-2.9-3.5zM417.4 175.7l1.2 .3 1.1-.8 1 .5 .3 2.4 2.2 .3 .8 .8-1.3 1.2-.6 2.5-1 1-1.4 .8-1.1 .4-1.2-.4-1.1 .7-1.2-.3-1.1-1.4-3.1-2.1-.3-1.2 1-2 2.4-1.1 1.1 1 3.3-.2-1-.5-.2-.7zM452.9 176.9l1.6 .1 1.1-.8 .5 .7 .2 3.5 .5 1.4 .9 .9-.1 1.2-2.3 2.3-.8 .7-1.2 .1-1.1-.3-2.4-1.7-.5-2.3 .6-1.1 .1-2.4 .5-1.1 .5-.8zM462.5 178.1l1.5 0 0 1.1 1.6 1.2-.7 1.2-1.2 .7-1.1 .1-.6-.8zM382 183.9l1.9-.5 1.1 .2 1.2 .2 1.6 1.2 .5 1.2-.2 2.3-.6 1.2-1.3 1-3.5 1-1.2-.2-.5-.6-.9-2.4 0-1.1 1-2.4zM407.9 183.9l.3 0 .7 1.1-.7 2.6-3.5-.7-.9-.7-.1-1.2 1-.5 1.2 0zM450.8 189.7l1.4-.3 1.4 1.5 .3 1.1-.1 2.3-.5 1.2-1.1 .7-2.3 .4-2.2-1.1-.4-1.2 .1-1.1 1.1-2.3zM390.4 192l.4-.3 1.2 .6 2.3 1.9 .3 1.3-.5 1.2-1 .6-2.3 .3-1-.9-.8-1.2 .2-2.3zM400.6 206l1.8-.9 2.3 1 1.1 2.2-1.1 2.5-2.3 .1-1.9-1.4-.8-1.2 0-1.2zM419.4 218.8l.3-1 1.2 .6 0 1.4-1.2 .1zM351.9 225.7l.7-.9 2.4 .9-.1 .6-1.1 .6-1.2 0z" fill="#3cc4e4" fill-rule="evenodd"/><path d="M502.2 35l.9-.4 2.3 .9 .7 .7 .4 1.2-1.1 1.9-1.1 .6-1.2-.1-1.6-1.3-.3-1.1zM453.4 73.4l2.2-.5 3.5 .5 1.7 2.3-.6 1.2-1.4 1.2-2 .6-2.3-.2-1.3-.4-1.6-2.4zM497.3 74.6l1.2-.6 1.1 0 .6 .6 .5 1.1-.4 1.2-.7 .7-2.4-.7-.3-1.2zM473.3 82.7l.9-.4 1.1 0 1.2 1.4-1.2 2.6-2.3 .2-.5-.3-.6-1.2zM481.5 97.8l.8 0 2.3 .9 1.1 1.1 .1 1.5-1.2 1.6-1.2 .2-1.1-.4-2.3-2.5-.2-1.2zM488.9 99l1.5-.9 1.1 0 1.2 .9 .5 1.2-1.7 2.5-1.1 0-1.2-.4-.8-2.1zM444.9 103.6l1.5-.7 1.1-.1 3 2 1.7 .3 2.5 3.2 .4 2.3-.6 1.1-2.3 .2-1.2-.5-1.4-.8-.9-1.6-.8 .5 .4 1.1-1.9 2.8-.8-1.6-1.5-1-1.5-2.5-.1-1.2zM433.6 110.6l1.3 0 .5 2.3-.6 .8-1.2-.1-1.2-.7-.1-1.1zM489.9 114.1l1.6-.8 1.2 .1 .7 .7 .3 1.2-.5 1.1-1.7 1.1-1.1-.8-.8-1.4zM436.9 119.9l2.5-.7 5.8 0 7 3 2.3-.3 2.3 .8 4.6 3.2 2.3 .6 2.2 1.6 .6 1.1-.6 2.4 .1 1.1 3.5 2.3-1.9 3.5-.1 1.2 .4 1.2 1.6 1 1.2-.6 .8-2.8-.3-1.1-1.2-1.2-.4-1.2 1.5-3.4 .3-2.4 2.8-.5 1.1 .3 2.4 1.4 1 1.2-.2 2.3 .7 1.1 .8 .5 1.9-.5 1.5-1 .7 3.4 1.6 1.6 1.5-.5 .9-2.2 .9 2.2-.1 1.2-2.5 3.5-.9 2.3 .2 .5 3.5-.2 .7 2-.3 2.4-.4 1.2-3.5 3.4-.3 2.3-.9 1.2-3.1 2.3-3.8 1.2-8.1-1-2.3 .6-4.6-2.4-1.2-.4-1.1 .3-5.8 2.7-.9 1.3 .9 1 3 .2 2.4 2.3-.8 .6-1.1 2.4-1.2-.2-2.3 .4-1.2-.2-.5-1.8-.1-2.3-.5-.7-2.3 .3-2.4 1.4-3.4 .4-1.2-.4-3 .1-.5 .1-.4 1.1-1.8 0-1.3-1.2 .1-1.1-3.5-4.1-1.2-.5-2.3 .2-3.5-.6-1.1-.6-7-.9-.4-.5-.2-1.2 .5-1.1 0-2.4-.3-1.1-.7-.6-2.3-.4-4.7 .4-1.1-1.7-1.8 0-1.3-1.2 .2-2.3-.5-1.2-1.8-2.3-.4-1.2 1-1.1 2.3-1.8 1.1 0 2.3-1 2.3-2.9 3.5-.9 2.3-2 2.3-4.2 2.4-1.4 3.4-.4 .6-.6 .9-2.3 2-.7 2.3 .8 1.2 0 1.8-1.2 1.7-2zM474.2 143.8l-.6 1.7-.9 1.2-1.6 1.1-.4 1.2 1.2 1 3.4 .8 .6 .5 .6 1.9 1.1-.1 1.2-.6 1.9-2.3-3.9-3.5-1.5-2zM422.1 131.4l-.4 1.3 .4 1.7 1.1 .1 1.2-2.9-1.2-.9zM492.3 126.9l1.5-1.2 2.4 .5 1.6 1.9 .2 1.1-.5 1.2-1.3 1.1-1.2 .2-2.3-.9-.9-1.6 0-1.1zM392.6 136.2l.5-.5 1.2 .1 .4 .4 .5 1.2-.8 2.3-1.3 .6-3.2-.6 .9-2.8 1.2-.1zM398 138.5l.9-1 1.2-.1 1 2.3-.4 1.2 .5 1.1-1.8 1.2-.3 1.1 .2 1.2-.4 .6-1.1 .3-1.7-.9 2.5-2.3-.5-1.2zM373.3 149l1.3-.4 1.2 .8 1.7 4.2-.6 1.6-.9 .8-1.4 .4-2.3-.6-2-3.3 .6-2.3 1.4-1zM394.7 149l.7-.7 1.2-.3 1.2 .6 1.1 .8 .7 1.9 2 1.2 .7 1.1-.1 1.2-1 1.7-1.1 .6-1.2 3.4-1.1 1.2-2.4-.3-.4-.8-.2-3.5 .4-4.6zM408.1 153.6l1.2-.9 .5 .9 0 2.4-1.1 0-1-1.2zM403.1 154.8l.4-1 .2 1zM419.6 160.6l.1-.8 .2 .8zM413.9 164.1l3.7 0-.1 1.2 .5 1.1-.5 1.2-2.4 .2-3.8-1.4 .3-.6 2.1-.5zM429.6 166.4l1.7-.5 1.3 .5 .1 1.2-.7 1.2-1.8 1.2-1.1-1.2zM460.4 166.4l1-.6 .9 .6-.9 1.4zM392.9 167.6l.2-.8 2.2 2 1.3 .4 2.3 2.3 .7 1.9 0 1.2-2.4 4.6-2.9 2.1-2.3-.5-.5-.4-.6-1.2 0-3.5-.5-1.1 .2-2.3 2.1-3.5zM459.4 169.9l.9-.7 1.3 .7-1.3 .8zM411.6 179.2l1.2-.9 1.2-.2 1.1 .9 1.2 .1 1.1-.3 1.2 .8 1.1-1.2 2.3 .8-.2 2.4-.9 1.6-3.5 0-1.1 .9-1.2 .1-3.2-2.6zM450.8 179.2l1.4-.9 1.1-.1 1.2 .1 .8 .9 1.5 3.5-.2 1.2-2.1 2.5-1.2 .2-2.8-1.6-.5-2.3zM381.8 185l.9-.6 1.2-.2 2.8 .8 .8 1.2-.2 2.3-.6 1.2-2.8 1.2-1.2 .1-1.2-.5-.9-2 .1-1.1zM449.7 190.9l1.3-.9 1.2 0 .7 .9 .5 2.3-.2 1.1-1 1.5-2.3 .4-1.6-.7-.3-2.3 .7-1.7zM390.1 193.2l.7-.7 1.2 .5 1.7 1.3 .3 1.2-.9 1-2.3 .6-1.3-1.6zM401.4 206l1-.4 2.3 1.5 .5 1.2-.5 1.3-2.3 .7-1.3-.8-.9-1.2 0-1.2z" fill="#12b8de" fill-rule="evenodd"/><path d="M502 36.2l1.1-1.1 2.3 .9 .7 1.4-.5 1.1-1.3 1-1.2-.1-1-.9-.5-1.1zM454.4 73.4l2.4-.2 2.3 .7 1 1.8-.5 1.2-2.8 1.3-2.3-.1-1.2-.5-1.1-1.9 .5-1.1zM497.3 75.7l1.2-1 1.1-.1 .4 1.1-.4 1.3-1.1 0zM473.2 83.9l1-.9 1.1 .2 .5 .7-.5 1.6-2.3 .2-.4-.7zM480.4 99l.7-.7 1.2 0 2.1 .7 .9 1.2 0 1.1-.7 1.1-1.5 .1-2-1.4-.7-.9zM489.7 99l1.8-.4 .6 .4 .5 1.2-1.1 1.9-1.1 .1-1.2-.9-.3-1.1zM446.1 103.6l1.4-.3 .6 .3 1.2 1.2 .6 1.2 1.1-.4 1.2 .3 1.9 2.4 .4 1.2-.4 1.1-1.9 .7-1.2-.5-1.4-1.3-.9-1.9-3.5 2.3-.4-.4-1.1-1.2-.1-1.2zM491.2 114.1l1.5 0 .2 1.2-.4 1.1-1 .5-1.3-1.6zM437.8 119.9l2.8-.6 4.6 .3 2.3 .6 4.7 2.2 3.4 .2 2.4 1.1 3.4 2.5 3.5 1.4 1.1 1.6-.2 3.5 3 2.3-.2 1.2-1.3 2.3-.1 1.2 .4 1.2 1.9 1.5 1.3-.4 1.1-3.5-.2-1.1-1.7-2.4 1.7-3.4 .2-1.3 2-1.1 1.4 .5 2.2 1.9 .5 2.3 .8 1.3 1.2 .6 2.3-.5 1.1 .8 1.2 2.4 1.1 .8 1.2 0 1.2-1.3 .3 1.7-4.6 7 .8 .9 3.5-1.1 1.1 .2 .2 2.3-.9 2.3-3.1 2.3-.7 1.2 .3 2.3-.8 1.2-3.1 2.2-3.5 1-8.1-1.1-2.3 .5-5.8-2.8-5.8 2.6-1.6 1.1-1.8 2.2-2.3 .3-2.4 1.5-5.8 .1-4.6-1.1-2.3-1.4-1.3-1.6-1.7-1.2-6.3-.6-4.6-2.6-3.1-2.6-.5-2.3-1-.9-5.8-.4-2.3-2.2-1.2 .3-1.1-1.5 .2-1.1-.5-1.2-1.8-2.3-.3-1.2 1-1.1 1.4-1.2 3.4-1.4 2.3-2.8 1.2-.4 2.3 .2 3.2-3.7 1.4-3.1 1.2-.8 2.3-1 1.2 .2 1.1-.3 1-.9 1.4-2.2 1.1-.5 2.3 .8 1.2-.1 1.1-.6 2.4-2.3zM475.3 140.5l-2 2.7-.3 2.3-.8 1.2-1.8 1.1-.2 1.2 1 1.2 3 .4 1.1 .6 1.2 3.3 2.3-1.2 2.1-2 .7-1.1-.5-1.2-2.3-1.1-2.7-2.4-.6-2.3 2-2.3zM423.2 130.3l-1.6 1.3-.3 1.1 0 2.3 .8 .6 1.1-.5 1.3-2.4-.1-1.7zM492.9 126.9l.9-.7 1.2 0 1.5 .7 .9 1.2 .2 1.1-.5 1.2-.9 .8-1.2 .2-2.2-1-.6-1.2 0-1.1zM371.5 150.2l.8-.6 2.3-.5 1.1 1.1 1.3 3.4-1.2 1.8-2.4 .5-1.5-1.1-1.2-2.3zM397.1 150.2l1 0 3.4 3.4 0 1.2-1.4 1.3-1.2 3.5-1.1 1.6-2.5-.6 .1-2.2 1.2-2.5zM453.8 165.3l1.8-1 1.2 .4 1.2 .7 .4 1-.3 1.2-2.5 .6-2.3-.6 0-1.8zM430 168.8l1.3-.4 .1 .4zM392.9 169.9l1.4-.7 2.3 .5 2.3 2.4 .4 1.3 0 1.2-1.9 3.5-.9 1.1-2.2 1.4-2.3-.7-.8-1.8-.1-4.7zM413 179.2l1-.5 .7 .5 .4 1.3 1.2-.1 1.1-.9 1.2 1.2 1.1-1 1.2 .3 .2 1.6-.2 .4-1.2 .4-1.1-.3-3.5 1-2-1.5zM453 179.2l1.5 .3 1.7 3.2-.2 1.2-1.5 2-1.2 .2-2.3-1.3-.6-2.1 .6-2 1.2-1.2zM381.6 186.2l1.1-1 3.5 .3 .5 .7 0 2.3-.7 1.2-1 .5-2.3 .2-1-.7-.6-1.2zM450.6 190.9l.4-.4 1.2 .2 .9 2.5-.9 2-1.2 .6-1.1 0-1.2-.8-.1-1.8 .6-1.2zM390.4 194.3l.4-.8 1.2 .4 .8 .4 .5 1.2-2.5 .8-.5-.8zM400.9 207.1l1.5-.9 1.5 .9 .7 1.2-2.2 1.5-1.5-1.5z" fill="#0bb2dc" fill-rule="evenodd"/><path d="M502.6 36.2l.5-.5 1.9 .5 .6 1.2-.6 1.1-.7 .5-1.7-.5-.5-1.1zM455.6 73.4l2.4 .3 1.1 .8 .5 1.2-.7 1.2-2.1 .9-1.2 .1-2.3-.8-.7-1.4 .6-1.1zM480.9 99l1.4-.1 2.3 1.2 .2 1.2-.2 .4-1.2 .1-2.3-1.3zM489.8 100.2l.6-.8 1.1 0 .3 .8-.3 .9-1.1 .3zM446.9 104.8l.6-.4 .5 .4 .2 1.2-.7 1zM445.2 106l.9 1.1-.9 1.4-.3-1.4zM449.7 107.1l1.3-.8 1.2 .5 1.4 1.5-.3 1.5-1.1 .9-1.2-.4-1.5-2zM438.5 119.9l2.1-.3 2.3 .5 2.3-.1 2.3 .5 4.7 2.1 2.3 0 3.5 1.4 3.4 2.5 2.3 .7 1.2 .8 .9 1.2-.2 3.5 2.7 2.3 0 1.2-1.2 2.3 .1 2.2 2.3 2.2 1.2 .1 .9-1 .3-2.3 .8-1.2-.2-1.1-1.4-1.2-.6-1.2 .3-1.1 2.2-3.6 1.2-.3 2.3 1.4 1.7 3.6 .6 .6 1.2 .6 2.3-.5 .6 .5 1.3 2.3 1.8 1.2 1 1.2-4.5 6.9 .9 .6 1.2 0 3.5-1.1 .8 .5 0 1.2-1.4 2.3-1.8 1.2-2.3 .4-.6 .7 1.7 2.4 .1 1.1-.8 1.2-2.7 1.9-3.5 1-2.3-.6-2.3 .1-3.5-.7-2.3 .5-2.3-1-2.3-1.8-1.2 0-2.3 1.4-4.6 2.1-2.3 2.5-3.3 .4-1.4 1.2-3.4 .4-2.4-.3-5.7-1.7-3.7-3.1-7-1.1-1.1-1.2-5.6-3.1-.7-1.6-.1-1.1-1.5-1.2-4.7-.3-1.8-.8-.5-1.4-1.1-1.6-1.2-.5-.3-1.2-2.2-2.3-.3-1.2 .9-1.1 4.2-2.3 2.3-2.8 1.2-.2 2.3 .6 2.9-3.5 1.7-3.9 1.2-.8 2.3-.9 2.3-.2 1.3-1.2 1.1-1.9 1.1-.5 2.3 .7 1.2 0 1.1-.6 2.4-2.2zM475.3 139.7l-1.8 2.3-1.5 1.2 .5 2.3-.6 .9-2 1.4-.2 1.2 1 1.4 3.5 .5 .7 .4 .5 1.2-.5 3.5 .4 1.3 2.3-2.5 1.2 .2 1.2 1.2 .4-.2 1-1.2-.8-1.2 .2-1.1 1.3-1.2 .3-2.3-.1-.5-2.3-.3-1.2-.6-2.3-2.1-.5-1.2 .1-1.1 1.6-1.2 .8-1.1zM423.2 130l-2 1.6-.7 3.4 0 1.2 .4 .8 2.3-1.5 1.2-1.8 .4-2.1-.4-1.1zM493.5 126.9l1.5-.4 1.2 .5 .8 1.1 .2 1.1-1 1.7-1.2 .2-1.2-.5-1.1-1.2 0-1.3zM372 150.2l2.6-.6 .6 .6 1.3 3.4-.7 1-1.2 .7-1.2 0-1.1-.7-1.1-2.1zM396.9 159.5l.9-1.1 .5 1.1-.5 1.2-.5-.1zM392.9 171.1l1.4-.8 2.3 .2 2.4 2.9 0 1.2-2.4 4-2.3 1.4-2.3-1.1-.3-.8-.2-3.5zM452.6 180.4l.7-.4 1.2 .8 1.2 1.9-.2 1.2-1 1.4-1.2 .4-1.2-.7-1.1-1.1-.2-1.2 .5-1.1zM382.3 186.2l1.6-.5 1.8 .5 .5 .9 0 1.4-.9 1.2-1.4 .4-1.5-.4-.7-1.2zM450.2 192l.8-.8 1.2 .5 .5 1.5-.5 1.3-1.2 .7-1.1 .2-.9-1.1 .2-1.1zM402.1 207.1l.6 0 1 1.2-1.3 .7-.6-.7z" fill="#0aabd8" fill-rule="evenodd"/><path d="M503.2 36.2l1.2 0 .3 1.2-.4 1-1.2-.4zM453.7 74.6l1.9-.8 1.2 0 1.8 .8 .5 1.1-1.1 1.3-2.4 .5-1.1-.3-1.2-.9-.3-.6zM450.2 108.3l.8-1.1 1.2 .4 .7 .7-.1 1.2-.6 .5-1.2-.2zM439.3 119.9l1.3-.1 2.3 .7 3.5-.1 5.8 2.4 2.3 0 3.5 1.6 3.4 2.4 3.2 1.3 .9 1.1-.1 3.5 2.6 2.3 .1 1.2-1.1 2.3 .1 2.4 2.4 2.6 2.4 1.5 0 .7-1.2 .4-1.2 1.2 0 2.4 1.2 1.2 3.5 .3 .9 1.3-.3 2.3-.8 1.2 0 1.1 1.3 1.2 1.2-.7 1.1-1.8 2.4 .9 2.3-1.6 1.1 .3 .5 .6 .3 1.1-.7 1.2-2.4 1.6-3.5 .9-2.3-1-2.3 .5-3.5-.6-2.3 .4-1.7-.6-2.9-2.5-1.2 .2-2.3 1.8-4.1 1.6-1.6 1.2-1.2 1.6-3.5 .5-3.5 1.3-3.5-.1-5.7-1.8-3.5-2.8-7-1.3-.7-.9-6-3.5-.6-1.2 .1-1.1-.8-1.2-5.9-.5-1.3-.6-1.3-3.5-.2-2.4-2.9-.6-.6-.5-.4-1.2 .7-1.1 3.7-2.1 2.3-2.7 1.2-.1 2.3 .7 1.2-.5 1-2.3 2-2.3 .4-2.4 1.2-.9 1.2-.6 3.4-.5 1.6-1.5 .8-1.5 1.1-.6 2.3 .6 1.2 0 4.6-3.4zM422.1 130.3l-1.5 1.3-.9 4.6 .1 1.2 1.1 1 3.5-4.2 .7-2.6-.7-1.5-1.2-.4zM422.1 153.4l-.4 .2 .4 .7 .4-.7zM494.6 126.9l1.6 .5 .5 .7 .2 1.1-.7 1.3-1.2 .3-2-1.6 .1-1.1 .7-1zM472.8 131.6l1.4-.9 1.1 .5 1.2 1.2 1.2 2.6 2.3 1.5 2.3-.3 1.6 2.3 2.5 2.4-4.1 6.3-1.2 .6-1.1 0-1.2-.5-2-1.8-.4-1.2 .3-1.1 1.8-1.2 .9-1.1-2.9-1.3-1.1-1.1-.4-1.1-.8-.4-1.2 .1-1.3-.9-.8-1.2 .2-1.1zM472.5 139.7l.5-.7 1.1 .7-.4 1.2-.7 .8-.9-.8zM372.8 150.2l1.8-.1 1.3 2.4 0 1.1-1.3 1.2-1.2 0-1.1-.8-.7-1.5 .1-1.2zM483.2 150.2l.2-.5 1.2-.4 2.3 .9-2.3 1-1.2-.4zM392.8 172.3l.3-.6 1.2-.5 2.3 .2 1.7 2 .2 1.2-1.9 3.4-1.2 1-1.1 .3-2.1-1.2-.2-3.5zM452.1 181.6l1.2-.9 1.2 .9 .7 1.1-.1 1.2-.6 .8-1.2 .5-1.6-1.3-.5-1.2zM383.8 186.2l1.8 1.2 0 1.1-.6 .7-1.1 .4-1.2-.7-.3-1.5 .3-.6zM449.8 193.2l1.2-1 1.2 .5 .2 .5-.2 .5-2.3 .8z" fill="#05a0d0" fill-rule="evenodd"/><path d="M454.3 74.6l2.5-.4 1.2 .4 .6 1.1-1.3 1.2-1.7 .3-.9-.3-1.2-1.2zM437.1 121.1l2.3-1 1.2 0 2.3 .8 3.5-.3 5.8 2.4 2.3 .1 1.1 .4 3.5 1.9 2.3 1.7 2.8 1 1 1.1 0 3.5 2.4 2.3 .2 1.2-1 3.5 .4 1.7 1.8 1.8 .5 1.1-.4 4.7 .2 1.2 1.4 1.3 2.8-.2 .7 .2 .6 1-.1 1.1-1.3 2.4-.2 1.1 1.3 1.2 .3 1.2-1.8 .4-3.5-.6-2.3 .5-2.6-1.5-.9-1.5-1.1-.3-1.2 .4-2.3 1.9-4.5 1.8-2.4 2.4-8.1 1.9-2.4-.1-6.9-2.3-2.3-2.1-7-1.8-4-2.6 1.7-1.6 0-1.1-1.1-.6-1.2 .6 0 1.6-1.2 0-1.1-1.1 .6-2.5-.6-.5-5.8-.1-1.9-.5-1.2-2.4-.2-3.5-1.3-.8-2-.3-.7-1.2 .4-.6 3.4-2.3 2.3-2.5 1.2-.1 2.3 .6 1.2-.4 .7-.5 .4-1.5 1.2-1.2 .6 .4 0 3.5 .5 1.1 1.2 1.5 1.3-2.6 2.2-2.8 .9-3-.9-1.9-1.2-.3-2.3 1.5-1.2 .1 .4-1.8 2-1.2 3.4-.6 1.2-.9 1.2-2 1.1-.7 2.3 .7 1.2-.1zM422.1 140.2l-.6 .7 .6 .9zM493.5 128.1l.3-.5 2.4 .2 .5 1.4-.5 .9-1.2 .4-1.6-1.3zM473.8 131.6l.4-.2 1.1 .5 .8 .8 .9 2.3 1.8 1.4 1.2 .6 2.3-.2 3.4 4.1-1.7 3.4-2.9 3.1-1.1 .1-1.2-.5-1.7-1.5-.4-1.2 .5-1.1 2.1-1.2 1.2-1.1-.5-.8-3.5-1-.6-.6-.6-2.2-2.3 .2-1.7-1.5 .1-1.1 .8-1.2zM372.1 151.3l1.3-.8 1.2 .2 .8 1.8-.1 1.1-.7 .7-1.2 0-1.5-1.8zM482.2 156l1.2 .2 .4 .9-.8 1.2-1.7 1.2-2.5 .8-1.2 0-.9-.8 .9-2.6 2.4 .4zM393.7 172.3l.6-.4 2.3 .4 1.5 2.3-1 2.3-1.7 1.7-1.1 .2-1.2-.6-.6-1.3-.1-2.3zM453 181.6l.3-.3 1.5 1.4-.3 1.4-1.2 .6-.9-.8-.7-1.2z" fill="#0590c8" fill-rule="evenodd"/><path d="M454.3 75.7l1.3-.9 1.2-.1 1.3 1-2.5 .7zM437.6 121.1l1.8-.8 1.2 .1 2.3 .9 2.3-.7 1.2 .1 5.8 2.5 3.4 .5 3.5 1.9 2.3 1.9 2.3 .6 1.2 1.1 0 3.5 2.4 2.3 .3 1.2-1 3.5 .6 2 1.9 2.6-.1 5.9 .5 1 1.2 .8 2.3-.4 1.5 .9-.3 1.8-1.4 1.7-.3 1.1 1 1.2 0 1.2-4-.6-2.3 .5-1.1-.5-.9-.6-.3-1.2 .8-2.3-.8-.5-1.2 1.4-2.3 .9-2.3 2.1-4.8 1.9-2.1 2.2-8.1 1.7-2.4 0-5.7-1.7-3.5-2.5-5.8-1.6-2.9-1.6-1.5-1.1 1.3-1.2 .2-1.2-.8-1.1-2.1-.5-1.2-1.8-1.1-.6-.6 .6-1.7 .3-3.5 0-1.4-.3-1.3-2.4-.3-3.5-.5-.7-2.3-.9-.8-.7 1-1.1 2.1-1.5 2.3-2.3 3.5 .5 2.3-1.1 1.2 .4 .6 1.6 2.9 3.9 .5-1.5-.6-2.4 2.4-3.5 1.1-3.4-.3-1.2-1-1.2 .3-1.1 2.2-1.2 1.5-2.3 .8-.5 2.3 .6 1.2-.1zM420.6 129.2l1.5-.5 .6 .5-1.8 1.2zM493.9 129.2l1.1-.7 1.2 0 .2 .7-.2 .4-1.2 .2zM472.6 132.7l1.6-.9 1.1 .6 .8 1.5-.1 1.1-3 1-1.1-.8-.1-1.3zM476.3 136.2l.2-.4 1.1 .1 2.4 1.5 2.3 .2 2.9 3.3-.3 1.1-1.2 2.3-2.6 2.7-1.1 .2-1.2-.5-1.4-1.2-.3-1.2 .7-1.1 3.8-2.3-.1-1.2-.4-.5-1.1-.3-2.4 .3-1.1-.6-.4-1.2zM373.8 151.3l.8 0 .4 1.2-.4 1.3-1.2 0-1.1-1.3zM481.5 157.1l.8-.5 .9 .5-.9 1.3-2.3 1.2-2.3-.1 .3-1.2zM393.8 173.4l.5-.5 1.1-.3 1.2 .4 1 1.6-.8 2.3-1.4 1.2-1.1 .1-1.4-1.3-.1-2.3zM452.5 182.7l.8-.5 .7 .5-.4 1.2-.4 0z" fill="#0480c0" fill-rule="evenodd"/><path d="M438 121.1l1.4-.5 1.2 0 2.3 1 2.3-.7 2.3 .3 4.7 2.1 3.4 .6 3.5 2 2.3 2 2.3 .5 .8 .8 .2 3.5 2.4 2.3 .3 1.2-.9 3.5 .2 1.2 2 3.4-.1 5.9 .9 1.7 1.2 .7 2.3-.7 1.1 .6 0 1.1-1.8 2.4-.4 1.1 .5 1.2-.5 .3-4.7 .3-1.1-.5-.4-1.3 1-2.3-.6-1-1.2-.4-5.5 4.9-5.4 2.3-1.8 1.9-8.1 1.7-2.4 0-5.7-1.6-3.5-2.5-4.6-1.2-3.5-1.8-1.4-1.1 1.1-1.2 .1-1.2-1-1.4-2.3-1.1-1.2-2.4-1.1-.1-1.2 1.2-1.1 .5-3.5 0-1.2-.4-1.2-2.1-.3-3.5-.8-1.2-2.1-1.1 .6-1.1 3.8-3.4 3.5 .5 2.3-.7 1.2 .7 3.5 4.8 .7-.8 .2-1.1-.7-2.4 2.1-3.2 1.3-3.7-.2-1.2-.7-1.2 .4-1.1 1.8-1.2 2-2.5 2.3 .5 1.2-.2zM473 132.7l1.2-.4 .8 .4 .6 1.2-.6 1.1-2 .6-.7-.6-.1-1.1zM476.6 137.4l1-.9 1.4 .9 .1 1.1-1.5 .3-.5-.3zM482.5 140.9l.9-1 1.2 1-.7 2.3-1.6 2.4-1.2 1-1.1 .3-2.2-1.4-.4-1.2 .2-.4zM395.1 173.4l1.5 .4 .5 .8-.5 2-1.2 .8-1.1-.1-1.2-1.6 .3-1.1z" fill="#0570b8" fill-rule="evenodd"/><path d="M438.6 121.1l2-.2 2.3 1.1 2.3-.9 2.3 .3 4.7 2.1 3.4 .6 3.5 2 2.3 2.3 2.3 .4 .4 .4 .4 3.5 2.3 2.3 .4 1.2-.8 3.5 .6 2.3 1.3 2.3 .1 6.1 1.1 2.2 1.2 .6 2.3-.9 .4 .2 .2 1.1-1.9 2.4-1 2.1-3.9 .2-.3-1.2 .8-1.1 .1-1.2-1.3-1.6-1.2-.2-5.7 5.3-5.5 2.3-1.5 1.6-1.2 .6-6.9 1.2-2.4 0-5.7-1.5-3.5-2.5-4.6-1.4-3.1-1.5-1.1-1.1 .9-1.2 0-1.2-1.4-1.8-2.3-1.6-1.2-2.3-1.1-.2-1.2 1.4-2.1 1.1-2.5-.1-1.2-.6-.9-1.7-.2-3.5-.5-1.1-1.7-1.2 .2-1.1 3.1-2.9 3.5 .5 2.3-.6 1.2 .8 3.5 4.5 1.1-1.5-.6-3.2 1.8-3 1.5-3.9-.1-1.2-.6-1.2 .6-1.1 1.5-1.2 1.7-2.2 2.3 .4 1.2-.2zM474.1 132.7l.9 1.2-.8 1.1-1.2 .1-.4-1.2zM477.4 137.4l.5 0-.3 .4zM482 142l1.4-.8 .4 .8-.3 1.2-1.6 2.3-.8 .7-1.1 .3-1.8-1-.4-1.2 1-.8zM394.2 174.6l1.2-.5 1.2 .4 0 .6-1.2 .4z" fill="#0765b2" fill-rule="evenodd"/><path d="M439.3 121.1l1.3 .1 1.1 1 1.2 .1 2.3-1 2.3 .2 4.7 2.1 3.4 .7 3.5 2.1 2.3 2.6 2.4 .2 .6 3.5 2.2 2.3 .5 1.2-.9 3.5 .6 2.3 1.3 2.3-.2 5.9 .4 1.1 1.2 2.1 1.2 .4 2.3-.6 .1 .4-1.2 1.4-1.2 2-1.2 .5-2-.4 .5-2.3-1.9-2.1-1.2-.2-5.9 5.8-5.6 2.3-1.2 1.4-1.2 .6-6.9 1.2-2.4 0-5.7-1.5-3.5-2.5-4.6-1.4-2.6-1.3-.9-1.1 .7-1.2-.2-1.2-1.7-2.1-1.7-1.3-.6-1.5-1.2-1.3-1.1-.2-1 .6-.7 1.2-1.8 .9-2.3-.1-1.2-.8-.9-2.3-.2-3.5-1.1-1.2-.3-1.1 1.2-1.2 1.3-1.1 1.2 0 1.2 .7 1.1 0 2.3-.9 1.2 .8 3.5 4.5 1.1-1.2 .2-1.6-.5-2.4 3.2-6.9 0-1.2-.5-1.2 .5-1.1 2.9-2.9 3.5-.2 4.6-3zM473.1 133.9l1.1-.4 .2 .4-.2 .3zM480.5 143.2l1.8-.6 .5 .6-.4 1.1-1.3 1.5-1.1 .3-1.2-.4-.5-1.4z" fill="#0958a7" fill-rule="evenodd"/><path d="M437 122.3l2.4-1 1.2 .3 1.1 .8 1.2 .1 2.3-1.1 2.3 .2 4.7 2.1 3.7 .9 3.6 2.3 1.9 2.8 1.2-.2 1 .9 .6 2.3 2.2 2.3 .5 1.2-.8 3.5 .5 2.3 1.3 2.3-.3 5.9 .5 2.3-.9 .4-1.1-.7-1.2 0-1.2 .8-5 5.3-5.4 2.2-2.3 1.9-8.1 1.4-6.9-1.6-3.5-2.5-6.7-2.6-.8-1.1 .6-1.2-.3-1.2-.9-1.3-2.4-2.1-1.1-2.6-1.2-.7-1.1-.2-1.2 .6-1.1 1.7-1.2 .6-2.3-.1-.8-.5-1.1-2.3 .1-3.5-.8-2.3 .3-.4 1.1-1 .7 .2-.5 1.2 1.3 1.1 3.2 1.4 .3-.2-.3-1.2-.8-1.1 .3-1.2 1.6-.7 2.3 2 2.4 3.2 1.1-1.1 .3-2.2-.3-2.4 3.1-6.9 .1-1.2-.4-1.2 .5-1.1 2.5-2.5 3.5-.4zM478.8 144.3l2.3-.7 .7 .7-1 1.2-.8 .3-.7-.3zM468.9 154.8l.6-.5 1.4 .5-.5 1.2-.9 .6-.6-.6z" fill="#0a4b99" fill-rule="evenodd"/><path d="M437.5 122.3l1.9-.7 2.3 1.1 1.2 0 2.3-1.1 1.2-.1 5.8 2.3 3.4 .8 3.6 2.3 1.1 2.4 1.1 1.1 1.4 0 1.9 3.5 1.4 1.1 .6 1.2-.7 3.5 .3 2.3 1.3 2.3-.4 7.3-2.3 .3-.9 .6-5.5 5.8-5.2 2.1-2.3 1.8-8.1 1.4-6.9-1.6-3.5-2.4-6.1-2.5-.8-1.1 .4-1.2-.4-1.2-3.1-3.4-.8-2.4-.8-1-2.3-.8-1.2 .7-1.7 2.3-1.7 .5-1.2-.3-1.3-1.4-.5-2.3 .6-2.8 1.2-.3 3.5 1.6 1-.8-1-2.3 1.1-1.3 1.2 .6 1.1 1.2 2.4 4.1 1.1-1.3 .4-3.3-.2-2.4 3.1-6.9 .2-1.2-.4-1.2 .6-1.1 2.1-2.1 3.5-.6z" fill="#0a3d8a" fill-rule="evenodd"/><path d="M438.1 122.3l1.3-.4 2.3 1 1.2-.1 2.3-1 1.2-.2 5.8 2.4 3.4 .8 3.3 2.1 .8 1.2 .6 1.9 1.1 .8 1.2 .1 4 5.3-.8 3.5 .3 2.3 1.3 2.3 .1 2.4-.7 3.5-.7 1-2.4 1.2-5.5 5.9-3.7 1.4-3.5 2.3-8.1 1.5-6.9-1.6-3.5-2.5-5.4-2.3-.8-1.1 0-1.2-.4-1.2-3.6-4.6 .1-2.3 .8-1 .5-3.7-.2-3.5 3.2-6.9 0-2.4 .5-1.1 1.8-1.7 3.5-.9 3.5-2.3zM417.1 140.9l.3-.5 1.2 .2 1.2 1.4 .9 2.3-1 1.1-1.1-.4-1.2 .8-2.2 3.2-1.2 .3-1.2-.4-1.1-1.1-.4-1.1 .3-3.1 1.2-.8 4.6 2.1 .5-.6 0-1.1z" fill="#09317c" fill-rule="evenodd"/><g fill="none" stroke="#000" stroke-width="0.7" stroke-opacity="0.48"><path d="M527.4 26.9l0 17.4 4.7 4.7 1.1 0 1.2 1.2 3.4 0 1.2 1.1 0 14-2.3 2.3-2.3 0 0 15.1-4.7 4.7 0 1.1-1.1 1.2 0 2.3-1.2 1.2 0 1.1-1.1 1.2 0 10.5-1.2 1.1-2.3 0-3.5 3.5 0 18.6 1.2 1.2 0 9.3-1.2 1.1-4.6 0-1.2 1.2 0 16.3-1.1 1.2 0 1.1-1.2 1.2 0 1.1-2.3 2.4 0 1.1-1.2 1.2 0 1.2-1.1 1.1 0 10.5-1.2 1.1-4.6 0-1.2 1.2-3.4 0 0 17.5-3.5 3.4-1.2 0-1.1 1.2-1.2 0 0 11.6 3.5 3.5 0 11.7-7 6.9 0 8.2 1.2 1.1 0 1.2 2.3 2.3 0 7M330.6 258.3l0-98.8 3.5-3.5 4.6 0 1.2-1.2 5.8 0 1.1-1.1 5.8 0 1.2-1.2 2.3 0 1.1-1.2 0-23.2 3.5-3.5 1.2 0 4.6-4.7 1.1 0 3.5-3.5 16.2 0 0-1.1-16.2 0-1.1-1.2 0-15.1 1.1-1.2 17.4 0 1.1 1.2 0 12.8 2.4-2.3 1.1 0 1.2-1.2 0-14 1.1-1.1 2.4 0 1.1-1.2 2.3 0 1.2-1.1 1.1 0 1.2-1.2 1.2 0 1.1-1.2 1.2 0 1.1-1.1 1.2 0 1.1-1.2 1.2 0 1.2-1.2 1.1 0 1.2-1.1 1.1 0 1.2-1.2 20.8 0 0-4.6-1.1-1.2 0-7 1.1-1.1 1.2 0 1.1-1.2 1.2 0 1.2-1.2 1.1 0 1.2-1.1 1.1 0 1.2-1.2 1.2 0 1.1-1.2 0-3.4 2.3-2.4 1.2 0 1.1-1.1 2.4 0 1.1-1.2 1.2 0 2.3-2.3 13.9 0 1.4-1.2-11.8 0-1.2-1.1 0-18.6 1.2-1.2 18.5 0 1.1 1.2 0 12.7 1.2 0 1.2-1.1 3.4 0 1.2-1.2 0-12.8 1.2-1.1 0-1.2"/><path d="M504.4 26.9l.5 1.2 .5 .1 1.2 3.3 1.5 1.2 2.7 1.2 .4 1.3 1.2 .4 .4 1.8 .7 .6 1.2 .1 .9-.7 .2-1.5 1.2-.9-.1-1.1 2.4-2.9 2.3-.4 1.9 1 1 2.3-.4 1.1-1.3 1.6-1.2 .3-2.3 .2-1.1-.9-.7 1.2 .5 2.3 1.5 1.2 .4 1.1 .6 .5 3.5-.4 2.3 .5 .6 4.1 1.7 2.7 .1 1.9 .6 1.2 1.6 .3 .5 .8 1.8 .3 .6 .9-.1 3.5 .7 .8 1.1 .2 .4 3.6-.4 .5-1.1 .2-.6 .5 .1 2.3-.5 5.8-.2 .7-1.2 .5-.3 3.5-.8 3.1-1.2 .5-1.1-.8-1.2 .1-.4 .6 0 1.2 .4 .3 1.2 .1 .6 .7 0 1.2-.6 2.6-1.2 .2-.7 .7-.2 1.1-1.4 .5-.3 .7 .2 3.5-.3 2.3-.7 .8-3.5 0-.9 .4-.2 1.1 .9 1.2 .2 1.4 1.1 .3 .4 .6 0 1.2-.4 .8-.7 .3 .1 1.2-1.3 1.2-.4 1.3-1.8-.2-.5-.9-.4 .9-.8 .4-.2 2-.9 .7-2 .4 .1 1.2-.4 .6-4.7 0-2.1 .5 .7 3.5-.2 2.4-.7 2.3-3.5 3.5 .1 1.2 3.4 .6 2.2 1.7 2.5 .4 1.1-1 1.2 0 .5 .6 1.8 .4 .4 .7-.1 1.2-1.5 1-.3 1.3-.8 .6-3.3 .6-1.4 2.2-1.3 .1-.5 1.2-1.6 1.5-.7 2 .7 1.2 2.3 2.2 1.1 .4 2.4-.2 1.3 1 .2 1.2 .8 .5 .1 .6-.1 2-3.5 2.2-1.2-2.1-1.1 .4-.3 1 .9 1.2 .1 1.1 2.2 1.2-.8 2.3-1 .8-1.1 .1-1.1 1.5-.2 4.6 .4 1.2-2 1.1-.6 1.7-1.1 .4-.6 1.4-1.5 1.2-1 3.5-1.6 .1-2.3 .8-1.2 3.1-2.3 1.6-1.3 .2-.2 1.2-.8 1-.7 .1-2.2 3.5-1.7 .8-3.5 .3-1-2.3 .2-3.4-.3-1.2-1.1 1.2 1 2.3-1.3 2.3-.2 4.7-.8 .8-1.2 .3-.4 3.5 .5 .8 1.6 .4 .9 1.1 3.5 1.2 .5 4.6-.4 3.5 .8 .6 2.7 .6 .7 1.2 .1 4.9-1.2 .4-.3 1.6-.8 .8-3.5 .3-1.1-.9-1.2 .4-.3 4.1 .3 .8 1.5 .4-.2 1.1-1.3 .1-2.3 1.1 1.8 2.3 .5 1.3 1.2 1 .9 2.4-.5 3.4 .7 1 1.3 .2 .6 2.3-.4 3.5 .4 4.7-.7 .6-1.6 .5-.1 1.2-.6 .8-1.3 .4-.1 1.1 .2 .4 1.2 .2 .3 .6 .3 3.5 .5 .8 3.5 .2 .1 1.3M518.2 35l-.9 0 .9 1 0-1M473.6 37.4l1.7-.2 1.2 .5 1.5 2 .1 1.2-.5 1.5-1.1 1.3-1.2 .5-2.3-.3-1.7-1.9-.1-2.3 .7-1.2 1.7-1.1M499.6 52.4l-.2 1.2 1.6 0-.1-1.1-1.3-.1M520.5 52.4l-1.2 2-1.1 .1-1.2-.5-1.2 .4-1.1 1.1-1.2 .4-.3 2.4-.7 1.2-.1 1.1-1.2 .3-1.1 2.4-1.2 0-.4-.4-.2-1.1-.6-.7-1.1 0-.7 .7-.2 3.5 .6 1.1 .1 1.2-1 .9-1.9 .3 .1 1.1 1.8 .4 2.3-.4 .5-1.1 1.9-.1 .3 1.2 .8 .5 3.5 .1 .9 .6 .2 .7 1.7 .4 1.8-.3 .2-.8 1-1.1 .7-.1 .4-1.1-1.1-.6-.5-1.8-.7-.8-1.1-.3-.1-1.2 1.2-.3 1.2-2.6 4-.6 .6-4 1.2-.3 .3-1.5 1.5-2.3-1.8-1.2-2.3 .7-3.5 .4M502 54.6l0 1.5 3.9-.1-.5-.7-1.2-.5-2.2-.2M495 59.3l-.3 1.3 .3 1.8 1.2-.6 .1-1.2-.1-1.2-1.2-.1M532.1 59.4l-.1 1.2 1.2-.1 .1-1-1.2-.1M488.1 77.7l0 1.6 1.1 0 0-2.1-1.1 .5M506.6 77.8l-.4 1.4 .4 1.1 1.1-.3 .2-.8-.2-1.3-1.1-.1M497.3 82.5l-.4 1.4 .4 .4 3.5 0 .8-.4-.1-1.2-.7-.4-3.5 .2M511.2 84.9l-.4 .1 .4 1.2 1.2-.3 .3-.9-1.5-.1M416.2 87.4l3.5 .2 1.2 1.1 1.2 0 5.3 2.2 .4 1.1-.5 2.3-.6 .9-2.3 .9-3.5 0-1.2 .9-1.1-.1-.2 .9-2.4 0-.9-1.4-1.2-.9-.1-1.2-1-1.1-.2-1.2 2.5-1 1.1-3.6M444.1 89.5l-.4 1.4-1 1.1 .1 1.2 1.4 0 1-1 .3-2.5-.3-.3-1.1 .1M460.3 89.5l0 1.8 1.1 .1 .4-1.7-.4-.4-1.1 .2M483.4 92l.9 0-.9 0M448.7 96.4l-1 .3 1 .9 3.5 1.1 .9-.9 0-1.1-.9-.4-3.5 .1M500.8 96.6l-1.2 1.2-.2 2.4-.9 1.2-6.4 5.7-.2 1.2 .8 1 2.3-.1 3.5-1.1 2.3 1.6 .2-1.4 1-.9 1.1 .4 3.5 .2 1.1-.2 .5-.7-.5-6-3.3-.9-1.3-3.7-2.3 .1M429.7 99l.5-.9 1.1-.1 .4 1-.4 1.1-1.1 0-.5-1.1M460.3 98.8l-1 2.5 .1 1.2 .9 .8 1.1 .1 .8-.9-.7-3.5-1.2-.2M419.4 101.3l2.7-.3 .7 1.5-.7 .5-3.5-.5 .8-1.2M377.2 102.5l2-.3 1.2 .4 1.1 .9 .7 1.3 0 2.3-.7 1.2-1.1 .7-2.3 .4-1.2-.4-1.7-1.9-.1-2.3 .7-1.2 1.4-1.1M474.2 101.9l0 .8 1.2-.2-1.2-.6M402.4 106.1l0 1.1 0-1.1M418.2 108.3l.4-.3 .4 .3-.8 0M471.9 108.7l-1.2 1.1-1.2 .2-3.4-.5-1.2 .8-.1 1.5 3.6 1.4 3.5 2.7 2.1-.6 1.3-1.2 .4-1.2-.2-2.3-2.5-2.2-1.1 .3M477.6 119.4l-1.3 2.9 0 1.1 2.4 3.5 1.3 .4 1.1-1.4 1.4-.2 .7-1.1 .1-1.2-1.9-1.1-2.6-3.4-1.2 .5M471.9 120l-.8 2.3 .8 .6 1.6-.6-.3-1.2-1.3-1.1M379 122.3l.2-.6 1.2-.4 2.3 .1 2.3 1.8 0 .4-.5 1-3 1.5-.4-.4 .3-1.1-2.2-.7-.2-1.6M484.6 123.1l-.9 .3 1.3 1.2 .7 2.6 .3-.3 .1-3.5-1.5-.3M412.8 127.7l-.6 2.7 .1 1.2 .5 .3 1.5-.3 .8-.7 1-1.7-1-1.8-2.3 .3M508.5 138.5l.4-.2 1 .2-.7 3.5-.3 .2-1.1-2.5 .7-1.2M492.7 140.6l.2 3.7 .9 .7 2.7-.7 .3-1.1-.6-.7-1.5-.5-.9-1.5-1.1 .1M339.8 162.9l2.4-.9 2 .9 .8 1.2 .3 1.2-.4 2.3-1.6 1.5-2.3 0-2-1.5-.5-2.3 1.3-2.4M422.1 163.5l-1.2 1-.2 .8 .2 3.6 1.2 .9 .2-2.2 .4-1.2 .5-.2 .5-2.1-.5-1-1.1 .4M471.9 164.7l-.4 .6 .4 .3 1.4-.3-1.4-.6M481.1 164.2l-.8 1.1 .8 .7 1.3-.7-.1-.7-1.2-.4M408.2 167.3l-.6 .3 .6 .3 .3-.3-.3-.3M445.2 173.3l.8 1.3 1.5 .9 .9-.9-.1-1.2-.8-.5-1.1-.2-1.2 .6M351.3 178.1l1.3-.4 .3 .4 .1 1.1-.4 .5-1.2 .1-.1-1.7M360.7 177.7l-.7 .4 .2 2.3 2.1 1.2 4.2 0 1.1-1.2-1.1-.7-1.2 .1-.8-.6-.3-1.1-2.3-.7-1.2 .3M346.8 189.3l-.6 .4 .2 1.2-.7 .8-1.5 .3-.1 1.2 .4 .2 1.2-1.1 1.2-.3 1.1-1.1 .8-1.2-.8-.5-1.2 .1M427.9 189.3l-2.6 1.6 .2 .7 1.5 .4 .5 1.2 1.5 .1 .4-3.6-.4-1.1-1.1 .7M459.1 189.3l-.5 .4 .2 1.2 1.5 .9 1.1 0 1.3-.9-.3-1.2-1-.4-2.3 0M487.8 189.7l1.4-.7 1.2 .1 1.1 .5 1.2 1.3 .3 2.3-.4 1.1-1.1 1-2.3 .7-1.1-.3-1.5-1.4-.3-2.3 .4-1.1 1.1-1.2M354.9 192M439.4 194.2l-.3 .1 .1 1.2 1.5 0 0-1.2-1.3-.1M400.1 196.6l0 .3 2.8-.2-.5-.4-2.3 .3M441.7 196.7M408.2 197.8l-.7 0-.3 1.2 .5 1.2 .5 .3 2.2-.3 .8-1.2-.7-.9-2.3-.3M354.9 198.8l-.5 .2-.3 1.2 .4 2.3-1.2 1.1-1.9 3.5-3 3.5 .4 4.7-.5 3.5 .8 1.6 3.5-.9 2.3 .7 .7-.3 .5-1 1.1 .4 .9-1.7 1.4 0 .2 1.2 1 .7 3.5 .1 .2 .3-.1 3.5-3.6 .4-2.3 6.6 .6 2.3 .5 .1 1.2 2.3 3.5 .1 1.1-.6 1.2 .1 2.3 .8 2.6 3 .5 1.2 1.5 1.2-.3 1.1 .6 0-.2-1.1 1.1-.3 1 .3 .2 1.1 1.1 .8 3.5-.1 1.1-1 1.2 .2 .4-1-.3-1.2 .2-1.2 .9-.4 2.1 .4-.4 3.5 .6 .5 1.1-.2 .1-1.4 1.1-1.1 3.5-.4 3.4 .9 3.5-.6-1.2-1.2 2.3-1.1-2.2-.5-2.4-1.9-1.1-.1-1.2-.9-1.1 .6-.9-.7-.1-1.2-1.4-1.6-3.4 .1-1.2 2-2.3 0-1.2-.2-.4-1.4-.7-.9-1.3-.3-.1-1.2 2.6-1.1-.1-1.2 1.3-1.2 0-3.4-1.3-1-.9 1-.2 1.2-1.2-.3-1.1 1.3-2.3 .2-1.2-.4-1.2 1-1.1 .3-.5-1-1.8-.2-.7-1 0-1.1 .7-1.2 1.1-1.2 .3 1.2 2 .7 .6-4.2 2.4-1.2-.6-1.1-3.5-.1-.3 1.2-.9 .9-1.1 0-1.1-.9-.1-2.1-1.2-1-.3 .8-.8 .2-3.5 .2-2.3-.3 0-3.6-.5-2.3 .5-1 1.2 .1 .3-.3 .1-1.1-.4-1-1.4-.2-.4-1.2 .6-1.1-2.3-1.2-1.2-2.7-2.3 .2M424.4 198.9l1.1 .7 1.3-.6-2.4-.1M426.7 205.8l-.8 .2-.9 1.1 2.9 .7 1.1-.1 .4-.6 .1-1.1-.5-.5-2.3 .3M403.5 221.9l-.3 .4 .3 1.3 0-1.7M441.7 230.4l0-.3 0 .3M353.8 233.5l0 3.6 1.1 .1 .5-3.3-.5-1-1.1 .6M460.5 233.9l3.2-.1 .5 2.4-.2 1.2-1.4-.1-.2-1.1-1-1-.9-.2 0-1.1M356.1 243.8l-.5 .5 1.4 0-.9-.5M332.7 258.3l-1.3-3.5-.5-3.5 .1-3.5 .8-3.2 2.3-3.2 .1-2.9 1-3.2 .8-.3 1.4-2.3 1.3-1 2.3-.8 .8-1.7-.2-2.3-1.7-.6-1.2-3.3-1.2-.9-1.4-2.2-.9-2.3 .2-2.3 1.2-2.3 2.1-2.3 2.3-1.3 3.5-.9 .4-1.4-.7-3.5-1.7-4.6 .8-3.1 0-1.7-1.1 .2-.4 1.1 .2 3.5-1 3.7-1.3-.2-.2-1.2-.8-1-5.8 .1-1 .9-.1 .6-.5-7.6 .4-6.9 1.6-1.2-.1-4.6 .7-3.5-1-.8-.5 .8 0 1.1-.6 .9 0-4.9 .7-.6 .4-1.3 2.3-.8 1.2 0 1.1 .7 1.2 .1 .9 3.6 1.4 1.3 2.3 3.5 2.4 .7 5.7 0 .6 .3-.9 1.2-.1 2.3-1.6 1.2 .2 1.1 .7 .9 1.1-1.7 1.2 .5 1.2 1.3 1.4 .2 .2 1.2 .7 .3 .3-.3 .2-1.2 .8-1.2 .2-5.8 1.4-2.3-.6-.7-2.5-.5-.5-2.3 .1-1.2 1.6-1.1 0-2.3-.4-1.2-1.6-1.2-1.3-.4-1.8-1.9-.5-2.3 0-2.4 .9-2.3 1.2-1.1 .4-1.2 1.1-1.2 1-2 1.2-.3 .3-1.2-.3-1.1 .8-1.2 .3-1.8 2.3-1.2 1.2 .3 1.1 1.1 1.2-.6-.1-1.3 .8-2.3 2.7-1.2 1.2 .3 .8-.3 .7-3.4 .8-.3 .7-.9-.7-2-1.1 .1-.6-.4-.6-1.5-1.9-.9 .3-1.1-.7-1.2-1.7-1.1-.4-2.4 .2-2.3 .7-1.1 1.2-.5 .1 .4 1 .7 4 .5 .7 .9 2.3-1 5.8-.6 .6 .7-1.5 1.2 .5 1.1-.6 4.7 .9 1.1 2.4 0 3.5-4.6 3.2-2.3 .5-1.2 4.4-.5 .4-.7 .1-1.1 .8-1.2-1.3-.8-1.2 .1-3.5 1.8-1.1-.7-.5-1.5 .5-1.9 1.1-.9 1.2-2.4 1.2 .8 2.5-1.5-.4-2.3-1.5-2.3 .1-1.2 1.6-.3 1.5-.8 .9-1.2 3.9-1.2-.5-5.2 .2-.6 2.1-.7 6.3 .7 2.9 1.8 1.2 .1 .4 1.6-.4 2.3 .6 2.4 .6 .5 3.4 .6 .5 1.2 1.8 .3 1.2 .9 2.3 0 1.1-1.2 .5-1.2 0-2.3 .7-1.2 3.5-1 2.9-.1 .6-.9 1.1-.5 1.2 .4 2.3-.1 .6-1.3-2.9-2.1-1.2-.2 1.2-.3 1.4-2-1.4-1.3-.2-1-1-.8-1.1 .2-1-.6 .2-1.2 2.1-1.1 .3-3.5 .7-.8 1.2-.3 .3-1.2 .8-.8 2.2-.4 .1-.5 1.2-.6 .9-1.2 .2-1.2 1.2-.6 .3-1.7-.3-.5-1.2-.2-.2-.5 .2-1.8 1.2 0 .6 1.8 .6 .4 1.5-.4-.1-1.1 1.3-1.2-.5-2.3 .3-1.2-.5-1.2 .3-.6 1.1-.6 8.1-1.2 5.8 .4 4.7 1.6 1.1-1.6 1.3-.3-.1-4.3-1.2-.1-2.3 .7-.1 1.4-1.1 .8-3.4-.1-.7-.7-.9-3.5-.7-.2-.5-1 .5-3.6 3.4-.3 .9-.7 .3-1.2 1.1-.2 3.5-2.8 4.7-.9 3.9 .4-.6 2.4-2.2 .3-3.5-.3-1.1 3.4-.6 1.2-1.5 1.2-.1 1.1 1 1 4 .2 .4 1.2 1.4 .1 1 1 .2 1.4 1.1 .1 1-.3 .7-1.2 .6-.3 .9-5.5-.1-3.5 1.6-.5 1.1-1.9 6.2-1.1 0-1.1-.4-1-1.8-.2-.3-1.1 .9-4.2 1.3-.5 1.1 1.1 3.4 1 .8 3.7 .4 .3 3.5 .1 .6-.4 .5-1.9 1.7-.4 .6-1.2 1.2 .3 .1 .9 1.1 .7 2.1 .5 .2 .5 1.1 0 .2-.5 1-.6 2.3-.6 0-1.2-1.1-1.1 .5-2.4-.6-2.2-2.3 1.6-2.3 .7-1.1-.1-1.3-1.1-2.4-1.2-2-2.3-.3-2.3 .8-3.5 .5-7M346.7 258.3l.1-1.3 1.2-.2 .9 .3 0 1.2M350.4 258.3l-.1-1.3-1.2-.3-.1-.7 .1-1.5 .9-.9 .6-2.3-.3-1.7-3.5-.1-3.5-.7-2.3 .5-1 .9-1.1 3.4-.1 2.4-1.3 .4-.6 1.9M390.3 258.3l0-5.8-.7-.8-1.1-.1-.5-1.4-.7-.4-1.1 1.7-4.7 2.4-1.1 .3-2.3-.2-2.3-1.5-.9-1.2-.6-2.3 .2-3.5-1.1-1-1.3-.2-1-1.9-1 .8-2.5 .7-1.1 1-1.2 .3-1.1 1.4-1.2 0-1.1-.9-1.2-.2-.6 1.2 .6 .5 3.5-.3 .3 .9-.2 3.5-1.9 0-.4-1.1-.5 0-.8 1.1-.5 4.7-.7 .7-1.1 .2-.2 1.4M415.8 258.3l.5-2.4 1.1 .2 1.2 .8 1.5 .2 .1 1.2M458.7 258.3l.6-2.3-.2-3.5-1.1-.4-.6-.8-.1-2.3-.5-.3-2.3 .8-1.2 0-1.1-1.8-3.5-1.1-1.2 0-.9-1.1-.2-1.4-1.2 1-2 .4-.3 .7-2.3 1.2-3.5-.5-.3-1.4-.8-.9-3.5 .5-1.2 2.1-1.1 0-.5-.5-.1-3.5 .6-.8 1.3-.4 .3-1.1 .7-.4 1.1-.1 1.3-.7-.9-2.3-2.7-1.4-1.1-1.2-.7-2.1 0-3.5-2-1.1-.1-3.5 .5-.5 1.1-.1 .8-.6 .2-1.1 1.3-.1 .9-1.1 .3-1.4 1.3 .2 .1 3.5 .9 .8 1.2 .2 2.3 1.4 1.7 2.3 .3 3.5-1.2 5.8 .3 .7 1.8 .4 .4 1.2 1.3 .2 .8 1 .4 1.3 1.1 .1 1.2 .8 .5-1.1 .7-3.5-3.5-1.4 .2-.9 3.5-1.2 .3-3.4-.6-1-1.3-.2-.1-1.2 .3-.3 3.2-.8 .3-1.4-1.2-.7 0-1.4 1.2-.3 .9-.9 .2-1.9 1.2-.1 .2 2 2.2 1.2 .1 8.1-.2 .9-1.2 .2 0 .5 .6 .7 2.9 1.7 .9 1.8 1.2 4.7 0 2.3-.6 1.2 1.4 1.1 .4 1.2 1.4 0 .7-2.3-.2-3.5 .6-.7 3.5 .5 .4-1 0-1.1-.4-.9-1.2-.3 0-1.6 4.2-.7 .1-2.4-1-3.4-3.8-1.2-.5-2.3 .1-1.2 2.1-.7 1.1-2.4 1.3-.4-.2-1.1-3.2-1.2-1.4-2.8-2.3-1.5-2-.4-.3-.5-1.1 .2-1.2 .9-3.5 0-.7-.6 0-1.1 .7-2.4 .8 .1 .4 1.1 1.1 .6 1.2 0 .7-.6 .7-3.5-.8-1.1-.4-3.5-2.2 0-.3 .4-2.3 .6-1.2-.6-1.1-1.5-1.2-.3-2.3 .2-1.2 .4-.6 .8 .1 1.1 1 1.2 .7 3.5 1.1 .3 .7 3.2-.7 4-1.5 .6-.1 1.2 .5 1.1 .4 .1-.4 1.1-2.3 .3-.6-.3-.2-3.5-2.3-1.1-.4-1.2-1.3 0-.3 1.2-1.9 0-1-3.5-4.8-.8-3.4 .7-.1 1.2 1.2 .3 .6 .9-.1 1.2-.5 .9-1.1 .7-.2 .7-3.5 2.3 .2 1.4-1.2 .7-4.6-.2-1.2 .8-1.1 0-1.2 2.3-1.1 0-.4-.3-.1-3.5-.7-2.4-3.5-.2-.4 1.4-.7 .8-3.9 .4 .4 1.1-.7 1.2 2 4.7 .3 2.3-.8 1.1 .3 1.2-1.1 .3-1.2-.5-2.3 1.3-.9 .1 3.5 1.1 0 3.5 .9 .8 1.3-.8-.1-5.8 1.1-.9 1.8-.3 2.8-1.5 1.2 0 5.1 2.7 1.8 1.6 .9 .7 .3 2.1 1.6 .3 1.9 1 .8 1.3-.1 1.1-.7 .5-3.5 0-.4-1.6-.8-.7-1.1 .6-.4 1.2 .1 4.7-.4 2.3-.5 .9-1.3 .3-.1 1.1-.9 .8-1.1-.2-.3-.6-.3-3.4-.6-.8-3.8-.4-2-.7-1.1-1.1-1.6-.5-.1-1.2-.7-.7-3.4 .5-1.2-.5-3.5-.3-.7 1-.2 1.2-1.4 .3-1.1 .8-.3 1.2-.9 1.2 0 1.1 1.2 .5 .9 3-.3 3.5M466 258.3l-1.2-1.2-1.1-.1-1.4 .1-.2 1.2M480.4 258.3l-.1-1.2-.3-.1-.6 .1-.4 1.2"/><path d="M499.1 29.2l.5-.7 3.5 .1 1 1.8 1.3 .5 1.1 1.8 2.3 1.2 1.3 1.4 .7 .9 .4 2 1.2 0 1.1 1.3 3.5 .8 3.2 5.2 .3 1.4 3.5 .1 .2 2-.2 .4-1.2 .4-.4 1.5-5.4 .9-1.2 .7-2.3 .2-1.1 1.9-2.3-1.1-.9-1.4-.1-2.3 1-1.2 0-1.2-.7-1.1 .9-5.8-.2-.6-1.2 .6-1.2-.1-2.3 1.7-2.3 .6-3.5-1.1-1.1-1.6-1-.7-.2-1.2 .3-2.3 .9-1.7 .6-5.3M519.3 32.7l1.2-.9 1.1 .1 1.2 .8 .3 1.2-.8 1.1-1.8 .5-1.4-1.6 .2-1.2M489.5 52.5l.9-.8 4.2 .8 1.6 .5 .2 .6 .9 .7 1.6 .5 .2 1.2 2.1 1.1 0 5.8 1.9 .4 .4 .8-.4 2.9-1.1 0-1-1.7-.2-1.8-3.6-.6-.3-3.4-.7-1.8-1.2-.3-.6 .9-1.7 .8 0 4 1.9 1 .4 1.4 1.2 .3 .3 1.8-.3 .5-2.4 .5-3.4 .1 0 1.4 1.1 .6 .9 1.5-.9 1.2 1.2 .3 0-1.5 1.1-1.5 .1 .4 1.1 .6 1-.6-.4-1.2 1.7-.8 1.2-.1 2.3 .8 2.2 2.4 2.4 1.3 1.2-.9 1.1-.1 .5-1.4 .7-.4 1.2 0 .8 .4 .3 .8 1.2 .3 6.9 1.1 1.2-.8 1.1-.2 .2-1.2 1-1.2 .3-1.1-.8-1.2-.4-3.5 .9-1 4-.2 .6-1.5 1.2 .1 .6 3.8 1.7 .5 .5 .6 .1 1.2-.6 4.6-1.2 .5-.2 .7-.1 3.5-.8 .5-3.5 .2-.7 .5 .1 3.5-.5 2.2-1.2 .4-.4 2-.8 1.1-3.4-.2-1.2-.9 0-1.4-1.1-.9 .3-1.2 .8-.2 .6-2.1 .6-.7 1.5-.5 0-1.1-.4-.6-3.5-.1-.9 .7-.2 3.6-2.3 .8-3.5 0-.4-.9 0-3.5-.7-2.4-2.4-.3-1.7 6.2-1.7 .4-1.2-.7-3.5 .3-1.1 .8-1.4 .3 .2 1.6 1.2 .3 1.1 1.7 3.5-.6 1.2 .7 1.1 0 .4-1.4 .8-.5 3.4 .3 .6 3.7-.6 .5-1.1-.2-1.2 .9-.6 0 .6 .1 .2 1.1-.2 .3-1.1-.2-.7 1 0 1.2-.5 .3-3.5 .3-.6 .5-.7 5.9-1.6 1.1-.6 1.2-4.6 4.2-1.8 .4-.3 1.2 1 1.3 4.6 .7 3.5 2.1 4.6 .4 .9 2.5 .2 3.5-1.1 1-1.1 .4-2.4-.6-1.1-2.8-2.3 1.3-3.7 3 1.2 1.2 1.3 0 3.5-1.4 2.3 6.5 4.6 .7 1.1 1.1 .4 1.2 2 .1 .7 1.1-.1 1.1-1.8 .5-1.1-.1-2.3 1.1-1.3-.3-1.1 2.3 .3 1.2-1.3 2.3 1.1 2.3 1.4 1.2 .4 2.3-.5 3.5-1 1.2 .1 1.1 .7 .2 .9 1 .3 1.7 1.2 .6 0 1.2-2.4 .9-2.3-.3-1.2 .1-.2 .4 .2 1.5 1.2 0 2.3 .8 .1 3.5-1.4 1.2-1 3-1.2 1-1.1 4.2-1.4 0-.9-1.2-1.7 0-.7 1.2-1.8 1.1-.2 1.2 .5 1.1-.5 3.5-2.6 .8-3.5 .2-.1 1.4-1 2.3-1.2 0-1-3.5-1.3-.3-.9-2-1.4-.6-2.3-.1-2.5 .7-.5 3.5-.5 .7-1.7 .4 .6 1.3 1.1-.5 2.3 .6 1.1 .9 .1 1.2 1.1 .4 .4 .8-.4 2.2-2.1 2.4-.2 1-1.1 .3-.9 1 .9 7.1 1.1 .8 1.2-1.8 1.3-.2 .3-1.2 2.1 0-.3 10.5 .6 1.1-.2 1.2-1.5 1.1-1.2 6.3-1.1 1.7-1 3.7 1 2.2 1.1 .9 1.8 3.9-.7 2.3-1.1 1.4-2.3 1.1-3.4-.5-.9-.9-1.4-3.4-1-1.2-.1-1.2-1.8-1.1 .1-1.2 .4-.4 2.3 0 1.2-.6 1.2 1.5 1.1-.5 .8-2.3-.8-.8-1.7-.4-.6-1.1 0-1.6-.9-.8-1.4 .5-1.2-.7-2.3-5.4-4.8-.2 .2-2.8 .8-.7-.8-.2-.4-.9-.1-1.2 .5-.6 1.1 0 .4 .6-.2 3.5 1 1 2.3-.1 .5-.9-.1-1.2-1-1.1-.6-2.4-1-1.1-4.7-.4-1.2-1.3-2.3 .7-2-.2-.3-.8-.7-.4 3-.8 0-1.7-3.5 .6-.3 .8-.8 .3-3.5 .1-.5-.4-.1-1.2 .6-.7 1.1-.1 0-1.4-1.1-.7-.8-1.7-2.6-1.2 0-1.2-2.4-1.4-2.3-.1-.9 1.5 .1 1.2 3.1 1.4 .6 2.1-.6 1.7-1.2 0-1.1 .5-1.1-2.2-1.2-.3-1.6 .3-2.3 1.2 .4 1.7 1.1 .6 .7 1.1-.3 3.5 .4 2.4 2 1.1 .1 1.2-.5 1.4-1.2 .7-.3-.9-4.2-1.2-.3-1.2 1.3-1.9 .7-2.7-1.8-2.4-1-2.3 .7-2.3-.9-1.1-3.8-.1-.2-2.3 .1-1.2 .4-.2 4.7 0 .4-.9-.8-2.3 2-3.5 1.6-1.2 .2-1.2-1.1-1.4-2.3 1.5-2.3 3.4-3.9 2.4-.8 2.1-2.3 2.5-.5 2.3 1.9 1.2 .8 2.3 0 1.2-1 .7-1.2 .1-1.2-1.1-3.4-1.6-.7-.4-.5-1.3-1.1 0-3.5-2.5-1.2 .1-3-1-.6-1.2-1-.5-2.3 .2-1.2 1.3-2.3 .7-.8 .7 .9 1.1 1.1 .6 1.1 0 1.2 .6 0 1.2 3.5 .3 .6 .8 0 1.2 1.7 1.8 1.1-.1 1.2-1.2 .3-.5-.1-1.2 2.1-.8 1 .8-1 1.8-.7 .5 .5 1.2 2.5 .4 .7 .8 .2 2.3-.7 3.5-1.3 .7-.2 .5 .2 3 1.1-1.2 1.2 .9 .4-.4 0-1.2 1.5-2.3 .4-1.6 3.5 0 .5 2.8 1.8 1.2 2.1 3.4 0 1.2-1.7 2.3-2.7 2.1-2.4 .7-2.3 .2-2.3-1-.6-.8 .2-1.2-.4-1.2-1.5-1-1.2-.1-1.1 .9-1.4 .2-.3 1.2-.6 .4-1.2-.1-.8-1.5-1.5-.3-1.2-2.4-1.9-.8-.4-1.1-3-2.3 0-1.2-.4-.7-2.4-1.5-.4 1 .4 3.9 3.5 .4 .6 .4-.3 1.1 .8 7-.4 1.2-.1 2.3 1.6 2.3 1.7 1.2 .7 1.2-.1 1.1-.9 1.2-1.3 .6-2.3 .2-1.7-.8-1.2-1.2-.5-1.1-2.4-1.1-1.1-1.6-3.5 .2-1.2 .8-2.3-.4-1.2-2.6 .5-1.2-.2-1.1 .8-2.3 1.3-7 3.4-.9 .6-1.4 1.7-1.2 .3-1.2 .9-1 1.2-.3 .9-2.2-.3-1.1-1.4-2.4-.2-2.3-1.3 .9-1.2 .1-1.5-2.1-2-.7-1.1-2.7-2.3-1.8-.8 1.7 0 2.3 .8 1 1.1 .2 1 1.1 .1 1.2 3.5 .5 2.4-.2 .7 .8 .2 1.2-.9 2.3-2.2 1.2 .1 3.5-2.6 .7-3.4 .2-.8 1.4-1.6 .4-3.4-1.2-2.3 .1-1.2-.5-1.2 .4-1.1-.4-1.2 .2-1.1-.4-1.2-2.8-1.1-.4-.2-1.2 1.3-1.6 .1-3.1-4.4-1.1-.5-1.2 .9-1.1-.7-2.4-1.2 .9-3.5-.5-1.1-.8-1.2-1.9 .6-5.8 .7-1.2 .5-3.5 .5-.6 1.2-1.1 3.5 .4 1.1-1 2.3 .6 2.4-2.1 2.6-.8-1.1-1.2 1.9-2.3-2.3-1.3-1.1 .3-2.4 1.6-2.3-.1-.6-.5-.5-1.4-3.6-.9-.5-4.7-.6-.4-1.1 .4-3.5-1.3-1.2-1-.8-2.3 .2-2.4 .5-1.1 2.5-2.1 2.3-.4 1.1 .2 1.2-.5 3.5 .2 .8-.9-.8-4.7 1.5-2.3 1.3-3.5 .6-.8 3.7-1.5 2.1-1.4 .4-.9-.4-2.3 1.8-1.2 .6-2.6-.8-.9-2.7-.3-2.3-.9 0-1.1-.7-2.3 .7-.8 3.4-.2 1.2-.7 1.6 1.7-.1 2.3 .8 1 2.3 1 4.7 .6 1.1-.9 1.2-3.2 1-.8 2.4-.8 1.2-2.1 3.5-.5 1.1-.5 2.4 .7 3.4 .1 .7-.4 .5-1.5 1.1-.1 .9-.8 .1-1.1 1.4-1.2 0-1.5-3.5-.5-1.2-.6-1.1 1.7-3.5-.2 1.6-1.2 .7-1-1.9-1.3 2.3-3.5-.5-1.2 1-1.2-.2-1.1 .8-1.2 1.1 0 .3 1.2 1.7 1.1 0 1.4 .1-1.4 3.4-.7 1.2 .1 2.3-.9 .2 .4 4.4 .9 1.2 2.5 3.4-.6 1.2 .3 2.3-.4 1.2-1 1.5-1.7 .8-2.4 2.3-2.2 4.6-.3 1.2-.6 2.3 .3 1.2-.4 2.3-7.2 .4-2.3-6.2-1.3-.2-1.1 .2-.4 1.2 0 .2-4.2 .9-1 1.2-.4 1.1-1.1 2.3 .2 1.2 .9-1.2 .5-.2 .9-.5 3.5 .7 2.1 1.2 .1 .4-1.1 1.9-.4 .8-.7 .4-1.8 1.2-.5 1-2.4-.4-3.5 .5-.5 1.2-.1 .9-.5 1.1-2.3-3.2-1.6-.4 .4-.2 3.5-.6 .5-1.1 0-.7-.5 .4-3.5 1.4-.5 .7-.7-.5-1.1 .3-1.2-.1-2.3 1.4-2.4 2.9-1.3 3.4-.4 4.7 .3 3.4 1.7 2.4 .3 2.7-.6 1.2-2.3 .9-3.5 1-.1 1.2 .1 .6 3.5-.7 .8-2 .4 0 1.1 .9 .8 3.4-.2 .5-.6 .7-2.2 1.1-.9 .7-1.5 .3-3.5 .2-.7 1.2-.5 1.5-5.8 1.9-.8 2.1-.3 2.6-2.1 1.2-.3 .2-1.1M504.2 52.5l1.7 0-.1 1.1-1.6 0 0-1.1M504.2 59.5l.6 0 .1 1.1-.8 0 .1-1.1M461.2 62.9l2.5 .7 .4 1.7-.4 2.3-1.4 0-.5-1.2-1.5-.7 0-2.6 .9-.2M490.4 73.2l-.3 1.4-2 .3-.6 .8-.6 2-1.2 .4-.3 2.3 .3 1.9 3.5 0 1-.7 .2-1.2 1.1-.3 .6-.9 .4-3.5-1.4-1.1 .4-1.2-1.1-.2M454.5 85l-.4 0 .4 .3 0-.3M460.3 86.7l-.8 3 .2 3.5 .6 .4 1.1 0 1.6-.4 .7-1.1 0-3.2-1.1-.7-1.2-1.6-1.1 .1M510 88.5l3.5-.6 1.2 .3 1.1-.1 .5 .4-.9 1.2 1.6 1.4 1.2-2.1 1.1 .2 1.2-.6 1.1 .1 .8 1 .4 2.3 0 1.2-1.2 2.1-4.2 1.4-.3 1.1 .9 1.2 .3 1.2 1 .7 0 1.9-1.1 .2-1.2-.8-1.2 0-2.3 .5-.8 .9 .2 1.2 2.1 1.2-.3 2.1-1.2 .5-2.3-.4-.9-1.1-.2-1.6-1.2-.3-.3-5-.4-1.2-1.8-1.2-.5-1.1 1-1.2-.2-1.2 1-2.9 1.9-1.7 .4-1.2M477.6 89.5l-3.4 1.4-.7 3.4 .1 1.2 .6 1 1.1-.1 .8-.9 .4-1.2 2.3-1.7 1.2-.3 1.1 1.3 1.6 .7 4.3 1.2 .5-1.2-.6-.7-1.2 0-.3-.4 .2-1.2-.9-1.1-.1-1.3-1.9 .1-.5 1.2-1.1 .1-1.1 .9-1.2-.1-.8-.9-.4-1.4M420.9 90.9l1.2-.4 2.3 .6 1.1 .9-.1 1.2-.7 1.1-1.5 .4-3.5-1-.6-.5-.1-1.2 .7-.9 1.2-.2M449.9 94.2l-1.8 1.3-1.7 .2-1.6 1 .6 1.1 1 .7 3.5 .3 2.3 1.3 1.1-.3 1.7 .4 1.8-.6 1.2 2.9 1.1 1.3 2 1 .2 1.2 1.9 2.3 .6 3.5 1.1 1 3.5 1.4 2.3 2.1 1.2 .5 3.4-.9 .9-3-.1-2.3-3.1-3.4-1.1 .2-1.2 1.5-1.2 .2-3-.8-1.8-1.2 1.5-1.1-.2-1.2 .4-1.2 2.6-1.1 .2-2.3-2-.2-2.3 .6-1.2-.2-2.3-2.7-3.4 .7-.5-1.7-.7-1-1.7-.2-1.8-1.2-3.4-.1M474.2 98.2l-.8 .8-.4 3.1-1.1 0-.3 .4 .3 1.4 1.1-.1 1.2 .6 1.1-.4 1.5-1.5-1-2.3-.1-1.2-1.5-.8M404.6 103.6l1.3-.2 3 .2 .2 3.5-.3 2.4-1.8 1.7-1.4-.6 .3-2.3-1.2-.7-.2-.5 .1-3.5M471.9 105.9l0 .2 .5-.1-.5-.1M486.9 107l.3 .1-.3-.1M476.5 117.6l0 1.2-1.2 1.3-3.4-1.2-1.1 1-1.3 2.7 2.4 1.4 2.3-.3 5.3 4.4 .8 0 .8-.9 1.2-.2 1.1 .3 2.3 1.5 2.4-2.7 .1-1.5 1-2.5-2.3-2.1-1.2 .1-2.3-.8-2.3 .1-1.4-1.8-2.1-.6-1.1 .6M412.8 126.8l-.5 .1-.6 1.2-.3 3.5 .2 1 1.2 0 2.5-1 1.8-2.4 .4-1.1-.2-1.2-1-.3-3.5 .2M511 129.2l1.6 0-.2 1.5-1.5-.3 .1-1.2M500.8 133l-2.3 2 0 .4 2.3 .1 .5-.5-.5-2M408.2 134.6l-.8 1.6 .8 .7 .7-.7 .5-1.2-1.2-.4M498.5 137.1l.3 .3-.3-.3M491.5 139.5l.1 2.5 1 3.5 .1 3 .2 .5 .9 .3 2.1-3.8 2-1.2 .7-1.1-1.3-.8-1.1-1.3-1.2-.5-1.2-1.5-1.1-.5-1.2 .9M499.6 138.9l0 1.1 1-.3-1-.8M381.5 153.2l-.4 1.6 .4 1.8 1.2 0 1.2-.6 .3-1.2-.3-1-1.2 .1-1.2-.7M411.6 154.8l1.2 2.2 1.2 .2 1.1-.9 .4-1.5-.4-.7-3.5 .7M489.2 156M486.9 159.2l-2.3 1.3-1.2 1.5-2.5 .9-3.3 2.2-1.2-1-3.4-.6-1.1-.6-1.5 0-.7 1.2-.4 2.3-2.1 2-.2 1.5 .2 .4 2.3 .3 1-1.8 2.5-2.4 2.3-.5 1.2-.1 1.1 .6 .3 1.2 .9 .3 3.5-.3 1-2.3 .1-1.6 1.2-.2 2.3 .3 .5-3.2-.5-1.4M404.7 161.4l-.3 .4 .3 .2 1.6-.2-.4-.6-1.2 .2M422.1 162.7l-1.4 1.4-.9 4.7 .1 1.1 1 1.1 1.2 0 2.1-6.9-.2-1.2-.8-.6-1.1 .4M365.3 163.9l-.9 3.7 .9 1 .9-1-.5-3.5-.4-.2M383.9 163.4l-1 .7 .4 2.3 .6 1 1.4 .2 .8-1.2-.1-2.3-1-.7-1.1 0M408.2 166.3l-1.2 .3-.4 1 .4 .8 .8 .4 .3 1.1-1.2 1.2 1.3 .6 .5-.6-.4-1.2 1.1-1.1 0-1.2-1.2-1.3M374.6 167.4l.5 .2-.5-.2M477.6 168.4l-1.2 1.5 1.2 .9 .5-.9-.5-1.5M437.1 169.8l-1.1 1.1-1.3 .2 2.4 .5 .3-.5-.3-1.3M412.8 170l-1.1 1.1 1.1 .8 .7-.8-.7-1.1M446.4 171l-1.2 .5-.5 .8-.1 1.1 .6 1.4 1.2 .9 1.1 .5 2.4-.4 1.4-1.2 .1-1.2-.4-.4-2.3-.7-.3-1.2-.9-.3-1.1 .2M475.3 171.9l-.3 .4 .6 0-.3-.4M402.4 172.3l-.2 2.3 1.3 .7 .5-.7-.1-1.2-.4-.7-1.1-.4M407 173.3l-.6 1.3 .8 1.1-.2 1.2 2.3 .4 .5-.4-.5-2.6-1.1-1.7-1.2 .7M490.4 174.4l-1.2 1.3-.4 0 .7 1.2 .9 .2 .3-2.5-.3-.2M430.2 178.6l0 .8 1.1 .4 .3-.6-.3-.7-1.1 .1M336.8 181.6l1.9-1.1 1.2 .5 2.3 3.1 1.3 3.3 0 1.1-1.2 2.4-2.4 2.4-1.2 2.2-2.3-.1-.9-1.1 0-1.1-1-1.2-.5-2.3 1.2-3.5 .3-2.3 1.3-2.3M370 184.7l-1.2 .6-.9 .9 .9 2.2 2.3 .4 1.2-1.3 1.1 0 1.8 2.2-.4 2.3 1 .9 .3-2-.3-5.5-1.9-.4-1.6-.7-2.3 .4M442.9 184.6l-1.2 2.8 0 1.6 1.2 .5 1.2-.7 1.1-.1 1.2-1.2 1.1 .6 .4-.7-.4-.4-1.1 .3-2.3-.8-.5-1.5-.7-.4M411.6 186.6l-.4 .8 1.1 3.5-.3 1.1 .8 1.3 2.3 .4 .9-1.7-1.2-3.5-3.2-1.9M458 187.6l-.6 2.1 .6 3.5 1.1-.5 1.2 .6 3.4 .2 .4-.3 .3-2.3-.5-1.2-5.9-2.1M442.9 190.4l-.9 .5 .9 0 0-.5M372.3 192.9l0 1.6 .3-1.3-.3-.3M346.5 194.3l2.6-.8 1.2 .2 1.1 .6 1.7 2.4 .2 1.1-.9 1.2-.5 3.5-1.6 2.5-1.2 .7-1.1-.1-1.2-.9-1.1-2.5-.3-2 .6-4.7 .5-1.2M376.9 194.1l-.6 .2 .2 1.2 .4 .4 1.7-.4-.6-1.2-1.1-.2M380.4 195l-.9 .5-.1 1.2 .1 1.1 .9 .7 .5-.7 .1-1.1-.1-1.2-.5-.5M366.5 197.8M427.2 201.3l.7-.9 1 .9-1 2.3-2.4 .8-.8-.8 .8-.5 1.2 0 .6-.6-.1-1.2M440.3 203.6l.3-.3 2.4 .3 1.1 8.4 1.2 1 .3 3.4-.4 .7-1.1 .2-1.1-2-4-1.2-.5-2.3 .4-5.8 .5-.9 .7-.3 .2-1.2M339.9 213l2.3-1.2 2.3 .3 1.3 .9 .9 2.3-.3 2.3-.7 2.1-2.4 1.7-1.1 .1-2.6-1.6-.7-2.3 0-2.3 1-2.3M349.1 222.3l3.5-1.1 3.5 .7 2 1.5 .6 1.2 .2 1.1-.9 2.4-.8 1.5-1.1 1-2.3 .6-1.2 .7-1.2-.2-.9 1 .6 2.3-.6 4.7-1.4 .9-1.1 0-1.2 .9 .2 1.7-1.3 1.2-2.4 .6-3-.7-3.3-2.3-.2-1.1-.9-1.2 0-1.2 1.4-1.1 .4-1.2 3.2-1.2 1.3-2 1.1-.4 1.2-1.4 3.5 .1 1.1-.9-1.5-4.7 .2-1.1 1.3-2.3M433.2 226.9l.4-.7 2.4 .4 1.1 .3 1.4 1.2 .6 2.3-.3 3.5-1.1 2.3-.6 .4-2.3-.1-3.7-2.6-.6-2.3 .4-2.4-.6-1.1 1-1.2 1.9 0M364.9 236.2l1.6 0 2.3 1.9 .5 1.6-2.8 2.7-1.2 .2-1.1 1-1.2 0-1-.4-2.7-3.5 .4-1.2-1.4-1.1 1.2-1 1.2 1.7 2.3-1.4 1.9-.5M408.8 236.2l2.8-1 1.2 0 2.3 1.3 1.2 1.2 .9 3.2-2.1 5-1.1 .5-3.5-.1-1.2-.4-1.9-2.7-.2-2.3 .2-2.4 .4-1.1 1-1.2M449.5 238.5l3.8-1 1.2 .1 2.3 .9 .8 3.5-.3 3.5-.5 1-1.2 .6-2.3 .2-1.1-1.1-3.6-1.9-.2-3.4 1.1-2.4M476.3 238.5l1.4 0 2.3 1.6 0 2-1.2 .2-.4-.3-.1-1.1-.7-.9-1.3-.3 0-1.2M474.1 240.9l1.3 0-.1 1.3-1.3-.2 .1-1.1M388.4 243.2l1.2-.4 .2 1.5-1.3 .1-.1-1.2M378.1 244.3l3.4-.4 2.4 1.2 1.7 2.7 0 1.2-1.3 2.3-2.8 1.3-2.3 .4-1.1-.3-1.8-1.4-.8-2.3 .2-2.3 2.4-2.4M333.9 245.5l1.3-.8 1.2 .5 1.9 3.8-.9 3.5-1 1.5-1.2 .9-2.3-.7-1.1-.7-.5-2.2 0-2.3 .5-2.2 1.1-1.1 1-.2M351.4 252.5l3.5-.5 .9 .5 0 1.1-.9 .4-3.5-.2 0-1.3M468.8 258.3l0-1.2-2.3-1.1-.2-1.2 .9-2.2 1.2 .3 .1 .7 1 1 1.2 0 .9-1-.7-3.4-2.4-1.2-1.2-2.3 .8-1.2 .8 0 .6 1.2 1.2-1.2-1.2-1.2-.1-2.3 .1-1.1 1.2-.1 1.2 1.9 1.1 0 .5 .5 .1 1.1 4.1 1.2 .2 3.5-1.4 .4-.6 .8-.6 2.1-.9 .2-.3 1.1 1.2 1.2 .2 1.2 .9 1.1 .1 1.2"/><path d="M499.4 31.6l.2-.7 1.2-.3 2.3 0 1.2 1.1 3.6 2.2 .7 1.1 1.5 1.2 .1 1.2-1.2 2.3-5.9 2.8-2.3-.8-2-2-.3-1.2 .9-6.9M511.2 40.9l1.2-.9 3.4 .9 2 2.3 .4 1.5 .8 .8 .2 3.5-3.4 2.8-2.3 .1-1.1 .7-1.4-1.3-.5-1.1 .2-1.2-.4-2.3 .9-5.8M489.8 54.8l1.7-.3 .8 .3-.5 8.1-.3 .7-1.6 .5-.3 1.2-1.5 .4-.4 .7 .2 5.8-1 2.9-1.2 .5-.1 1.3-.8 1.2-.2 1.5-1.2 .7-1 5.9-2.4 1.1-1.2 1.2-1.2-.7-3.8 1.9-.8 3.9-1.4 .7 .3 1.9 1 1.6-1.9 0 .2-1.1-.5-.1-1.1 .1 .3 1.1-1.5 .5-3.5-.2-.3-.3 .3-.7 1.2-1.3 1.1 .5 1.2 0 .8-.8 0-1.2-.8-.7-3.5 .3-.6-6.5-.6-.7-1.4-.5 .3-2 1.2-.3 .3-2.3-.4-1.1-4.1 1.1-.2 2.3-1.4 .2-.6-.2 0-1.2-.6-.3-3.5-.4-1-1.6-1.3-.4-2.2-1.9-.1-2.4 .3-1.1 1.9-2.4 1.3-.6 4.6-.4 3.5 .4 3.4 1.6 1.9 .2 .5 .5 1.1-.4 1.2 .7 1.1 1.5 5.8-.7 .6-1.6 .6-.6 1.1-.3 1.2-4.3 1.5-.6 .1-3.5 .6-2.3 1.3-.5 .4-.7 .6-3.5 3.6-.3 2.9-2M493.9 54.8l2.3-.3 .4 .3 0 1.2-1.6 .3-1-.3-.1-1.2M524.8 66.4l.3-.4 1.2 0 .5 .4 .6 1.9 1.2 .4-.1 1.2-1.7 0-.1-1.1-1.6-.6-.3-1.8M497.6 71.1l2-.3 1.2 .4 2.4 2.2 .7 2.3-.3 3.5-.5 .8-1.1 .6-1.2-.4-3.5 .2-1.1 .7-1.2-.5-1.8 2.1 1.8 3.9 5.9 .8 .1 3.5-1.4 .9-.3 1.4-.8 .6-3.5-.1-.4 .6 1.6 1.5 .7 2 0 2.4-1.9 2.3-3.5 3.3-2.3 .2-2.3-1-1.1 1-.6 1.1 .5 1 3.5 1.5 1.2 1 4.6 .6 2.4 1.7 .5 1.2-1.1 2.3-2.4 2.4-1.9 1.1-.7 1.2 .1 1.2 .8 .5 4.6 .1 .9 .5 2 4.7 0 2.3-.6 1.3-3.4 3.3-1.2 .3-3.5-1.2-1.1 .2 .7 4.2-.4 3.5 1.2 3.5-.4 4.2 1.2 1.7 1.1-.4 3.5-5.5 1.2-.2 1.1 .3 1.2-.6 .1 .5-.7 1.2 .9 1.1 .2 3.5 .6 1.2-.4 1.1-.7 .5-1.2-.1-1.1 .5-1.5 2.6 .3 2.8 1.2 1.2 2.3-.5 .1 2.3-1.3 .4-.6 .8-.5 2.1-3.5-.2-1.2-.5-1.1 .5-4.8-.7 .6-1.2-.4-.9-.1-1.4 .4-2.3 .8-.9 .4-1.5 1.9-1.5 .4-2-.4-.3-2.3 1.3-.8 1.4-.3 1.3-4.7 3.9-4.6 2.3-1.2 .3-5.7-1.2-2.4 .1-.3 .2 0 2.4-.8 1.1-1.5 1.2-1.3 2.3 1.6 3.4 1.2-.9 3.8-1.3 .8-3.7 2.3 0 .4 .2-.4 .4-1.3 .8-.9 3.5 2.2 1 1.2-.1 1.1-.3 .6-.6 .8-3.5 3.3-.7 .7-.5 .5-1.2 1.1-.6 2.3 .3 .4 .3 0 1.2 .8 .7 1.9 .5-.6 2.3-1 1.2 0 1.1-1.5 1.5-3.5-.7-1.1-.9-1.3 1.3 1.3 2.1 1.1-.2 .4 .4-.4 .3-1.1-.2-1.2 .5-.5-.6-.6-2-1.2-.7-1.2 1-1.1-.4-.8 .9-.2 1.2-2.5 1-1.1 0-1.1 3.7-1.4 1.1-.2 1.2 .5 2.3 1 .4 2.6-.4 .9-1.1 2.4 2.3 .1 1.1-1.4 2.8-1.1 0-1 .7-.2 1.3-1.1 0-1.2 .9-1.2 .1 1.2 2 .7 3.9 .5 .8 1.1 .8-.2 1.8 1.4 0 1.1 .5 1.2-1 1.1 .2 .9 2.7-.3 3.5-2.9 12-1.1 .3-2.3-.2-1.2-2.5-2.3-1-1.4-1.7-.5-3.4 .4-2.4 1.2-1.1 1.1-3.5-1.1-1.2 .1-1.2-1-.5-1.1 .5-3.5-.4 0-1.6 3.4-1.4-1.1-.5-.5-.7 .5-.4 1.2 0 .4 .4-.4 1.2 1.1 .9 1.5-.9 .3-3.5-2.9-1.1-1.6-.1 .4-.9 1.2-.3 .4-4.6 .7-1 1.2 .5 1.1-.7-.3-1.1-1.4 0-.6 .9-1.1-.9-2.4 1.1-4.6-1.4-2.5 .3-.9 1.1 .7 1.2 .6 3.5 1 .8 4.6 .3 .5 1.2-.1 1.2-.7 1.1-4.3 .5-.7-.5-.5-1.3-.9 1.3-1.4 .9-4.6 1.5-1.2-.2-1.2-2.3-2.7-2.2-.5-1.2-1.2-1.1-.3-1.2 1.6-1.1 .8-1.2 1.2-.6 2.6-.6 .1-1.1-1.6-1.4-1.1-.2-2-1.9-1.5-.5-1.2 1.1-1.1 3.4-1.6 .6-.1 2.4-1.8 1.4-.7 3.2 1.3 1.2-.6 1-3.5 .6-2.2-.5 .1-4.6-.9-2.3 .7-1.2 2.3-2.8 1.2 .5 1.2 1 1.6 .1-2.8-3.4-.5-1.2-1.8-1.9-2.3 2-2.3 3.7-3.5 1.7-2.3-.8-1.2 .9 0 1 .7 1.5-.3 1.2-1.6 3.3-.5 .2-.6 .8-2.3-.3-2.8-1.7 .5-.5 1.1-.1 2-1.7 .1-1.2-1.6-3.5-4-3.4-1.1 2.3 .9 3.5-.9 1.5-1.2 .4-1.1 1-1.2 0-1.7-.6 .3-1.2-.9-.5-1.5 .5-.5 1.2-1.5 .9-3.4 .5-.7 2.1 .3 1.1 .4 1.1 .9 .1-2.1 .6-.7 .6 .3 1.1-.8 .2-.7-1.3-1.6-.2-2.3 .3-2.3-1.7-2.1-3.1-.2-2.4-4.7 1.7-3.6-1.6-.9-5.8 .5-1.2-.3-3.5-1.4-.7-1.2 0-.3-.4 .3-.6 1.2 0 .3-.6 .1-3.5-.4-1.1-1.2 .1-2.9-1.3-.6-.8-.9-.4 3.2-1 .4-1.3 .8-.8 .9 .8 .3 .9 .2-.9 .9-.8 2.3-.2 .5 1-.1 1.2 .7 1.1 1.2 1 1.2-.5 .2-.5-.8-1.1-.6-2.5-1.1-.3-1.2 .2-1.1-2.1-2.3-2-1.2-.4-1.2 .5-1.1 .7-1.2 1.6-1.1 .4-1.2-2.7-1.3-.4-.8-3.5 .2-2.3 .4-1.2-.5-5.8 .5-2.3 1.6-2.4 1.1-.7 6.2-2.8 .7-5.8 1.2-.8 1.1-.2 4.7 .6 1.1-.7 1.2-2 3.4-3.3 2.3-2.9 1.2-.3 3.5 .1 2.3 .8 2.3 .2 3-1.9 .5-.8 1.3-.4 .5-1.2 0-2.3 .5-1 1.2-.7 4.6-.4 1.2 .8 1.5 .2 .5-1.2-1.3-1.2-.7-.5-2.4-.4-.2-1.4-.9-1.2 0-1-1.2 .1-.2 .9-2.1 .3-1-.3 .7-1.1 1.5-.3 2.3 .3 1.1-1 1.2 .1 2 .9 .4 1.1 1.1 .8 3.4-.6 3.5 .3 1.5-.5 .8-1.3 2.1-1 .8-3.5 1.8-2.5 1.1-.3 2.3 0 1.2-.5 3.5 .6 1.1-2.9 1.5-2.5 .8-3.2 1.2-.5 7 .9 1.1 .8 5.8 1.3 1.1 3-1.2 1.2 .1 1.1 2.3 .6 .6 .6-.1 1.2 .7 1.4 1.1-.7 .6 .4 .9 2.3 .8 .8 1.2 0 3.5 1.1 1.1 1.9 1.8 .9-1.8 1.9-.7 2.8 .2 1.1 1.7 .6 1.2 1.1 1.1-.1 3.5 1.4 2.3 1.9 1.2 .3 2.3-.7 3.4 2.1 3-3.1 .4-2.3 1.1-2.3-.3-1.2-.5-1.2-1.7-1.1-.8-2-1.3-.4-.2-3.5-.8-.4-1.8 .4-.2 3.5-.3 .4-3.5-.2-1.5-1.3-.7-1.2 .4-3.5 .6-.9 2.4-.9 0-.5-1.2-.2-.8-1-.4-1.7-1.2-.6 1.5-2.3-1.1-3.5-.9-1.2 .6-1.4 3.5-1.7 2.3 .4 4.6 1.7 1.2-1.8 1.1-.5 2.3-.1 1.2-.8 1.7-.4-.2-1.2-2.7-1.1-1.1 0-1.2 .9-1.1 .2-2.4-.8-.3-3.8 3.8-.3 2.3-.9 .2-2.3 1-2.3 0-1.2 1.1-.7 1.2 .4 .4-.9-.4-.4-1.2-.1-.3-.6 .5-1.2-.1-2.3 .7-1.2 3-2.3M523.9 71.1l2.2 0-.3 1.1-.7 .2-.7 1 0 3.5-1.6 .3-1-.3 0-1.2 1-3.5 1.1-1.1M508.4 73.4l.5-.4 1.2-.1 4.8 .5 0 3.5-1.4 .3-1 .9-.1 3-1.2 .4-.4-3.4-1.5-1.2-1-2.3 .1-1.2M519.5 80.4l1-.9 1.1-.1 .8 1-.2 3.5-.6 1.1-1.1 .7-2.3-.7-.7-1.1 .1-1.2 .6-1 1.1-.4 .2-.9M452.2 89.7l1.1-.9 3.5-.2 1.1 1.1-.2 3.5-.9 .7-2.3 0-3.5-1.4-.9 .7-1.4 .2-.2-1.4 2.5-.5 1-.6 .2-1.2M511.1 89.7l1.3-.3 4.6 2.6 1.2-.8 3.4 .5 .2 1.5-1.3 .4-2.4 1.9-2.3 1-1.1-.3-2.3 1.3-2.3-.2-.9-.6 0-1.2-.6-1.2 0-2.3 2.5-2.3M438 90.9l.3-.7 .2 .7-.5 0M487.9 93.2l.2-1.2 1.2 1.2-1.4 0M463.1 94.3l1.1 0 0 1.2-.7 0-.4-1.2M468.7 103.6l.8-.1 1.2 .6 .3 .7-.3 2.8-1.2 .3-2.5-.8 .7-1.1-.7-1.2 .2-.6 1.5-.6M407 106l.4 1.1-.4 .3 0-1.4M499.6 115.3l3.5 0 0 2.6-.4 .9-1.1 0-.8-1.8-1.2-.4 0-1.3M472.6 117.6l1.6 0-1.2 .6-.4-.6M431.3 120.3l-.8 .8 .8 .3 .4-.3-.4-.8M416.3 125.4l-5 1.5-.2 3.5-1 2.3-3.1 2.3-.2 1.2 .8 1.2 .6 0 1.1-1 1.2-2.4 5.4-2.4 1.5-2 .6-2.7-.6-1.2-1.1-.3M501.7 129.2l1.4-.2 1 .2 .2 1.2-1.2 1.3-1.1-.7-.3-1.8M496.4 138.5l.9-.4 .6 .4-.6 .8-.9-.8M380.4 147.2l-.8 .6 .5 1.2 .4 7 1 2.3 1.2 0 2.5-2.3-.1-2.4-2-2.3 1-1.1-.2-1.3-3 .1 0-1.2-.5-.6M414 152.9l-1.2 1.1-1.2 .1-.2 .7 .2 1.5 1.2 1.2 1.2 0 1.1-.7 1.1-2-.5-1.2-1.7-.7M502.4 154.8l.7-.7 0 1.7-.7-1M407 157.8l-1.1 1.1-1.2 .1-1.2 2-1.1 .3-.4 1.6 2.7 .2 2.3-1 1.2-2.6-.1-1.2-1.1-.5M372.3 160.3l-.4 .3 .4 .4 1.1-.2-1.1-.5M385 160.4l-2.3 2-1.1 1.7 .7 1.2 .6 2.3 1 .6 2.3 0 .6-.6-.5-4.7 .3-1.1-.4-.8-1.2-.6M392 160.5M354.9 161.8l1.2-.9 2.3-.3 2.3 .4 1.6 .8 .6 1.1-1 1.4-.5 2.1-.7 1.1-1.2 .3-1.1 .9-2.3-.5-1.2-.7-.8-1.1-.3-1.1 .3-2.4 .8-1.1M379.2 161.6l0 .5 0-.5M423.2 161.7l-1.1 .5-1.7 1.9-.3 2.3-.6 1.2-2.1 2.2-3.4 0-1.2-.6-1.2 .2-1.1-.7-2.3-3-1.2 .1-.9 1.8 .2 1.2-.8 2.3 .5 1.2-.1 .5-1.2 0-1.2-1.2-1.1 0-1 .7 .9 5.8-1 1.1 3.4 .7 1.3 1.7 1-3.5 2.3 0 1.2-1.2-.8-4.6 .8-.7 1.1 .4 1.2 1 1.2-1.5 1.9-.4 .4-.5 1.1 .2 .4 1.5 .8 .3 3.5 0 .4-.3 .6-3.5 1.6-4.7-.3-2.3-1.2-.1M459.1 160.9l-.6 .9 .6 .7 1.2 0 .4-.7-.4-1.1-1.2 .2M433.6 169.5l-1.1 1.6 2.3 1.6 1.2 .2 1.1-.4 1-1.4-.1-1.2-.9-.5-3.5 .1M445.2 170.9l-1.1 1.4-.1 1.1 .2 1.2 1 1.3 2.3 .9 2.4-.6 2-1.6 .1-1.2-2.6-2.3-1.9-.8-2.3 .6M367.8 173.4l1-1 1.1 1-.5 1.2-.6 .2-.7-.2-.3-1.2M429 174.3l-.5 1.4 0 1.2 1.7 3.9 1.1 .4 1.2-.6-.2-1.4-.4-1.1-1.7-1.2 0-1.8-1.2-.8M466.1 174.6l0 1.2 1.7-1.2-.6-1-1.1 1M404.5 175.7l.2-.2 1.3 .2-.1 .5-1.4-.5M434.8 175.5l0 .3 1.5-.1-.3-.6-1.2 .4M401.2 179.3l-.4 1.1 .4 1.1 .4-1.1-.4-1.1M338.2 183.9l.5-.3 1.2 1 1 2.8-.1 2.3-.7 1.2-1.4 .9-1.8-.9-.8-1.2 .4-1.2-.2-1.1 1.2-3 .7-.5M360.6 185l1.3-.2 2.3 .5 2.3 1.7 1.2 2.7-.4 2.3-2 2.4-3.4 1.8-2.5-.7-.7-2.3 0-3.5 .9-1.2 1-3.5M423.2 186l-.5 .2 .5 .7 .4-.7-.4-.2M393.1 189.5l0 .4 1.2 .8 1.3 .2-.2-1.5-1.1-.3-1.2 .4M347.6 196.7l.4-.6 1.1-.6 1.7 2.3-.2 2.4-1.5 2.7-1.1-.2-.8-1.4 .1-2.3-.3-1.2 .6-1.1M369.7 196.7l1.4-.8 1.2 .7 3.5-.1 .4 1.3-.4 .5-1.2 0-.8 .7 .2 1.2-.5 1.1 .5 1.2 .6 .6 1.6-.6 .6-1.2-.3-1.1 .4-.7 2.3 .2 2.9 2.8 2.3 3.5-.1 1.1 1.3 1.2-.1 1.2-1.6 .8-1.2 1.8-1.2 .4-1.1-1.3-1.2 .3-1.1-.6-1.2 .2-1.1 .9-2.4-.2-3.4-1.9-.4-1.6 .5-2.3 .9-1.2-.1-1.2-1.2-1.1 .1-1.2-.5-1.1 .6-2.4-.2-1.1M418.5 199l.1-.5 1 .5-1 .3-.1-.3M420 200.2l.9-.4 .6 .4-.6 .7-.9-.7M372.3 201.2M457.2 201.3l.8-.5 1.1 .2 .3 1.5-1.4 .4-.7-.4-.1-1.2M397.9 202.5l1-.9 2.3-.1 3.5 .7 1.2 1 1.1 2.2 1.6 1.7 1.9 .4 2.3-.2 1.7 1-1.7 4.6-2 2.4-.1 1.1-1.6 1.2-.7 1.2-1.4 0-.6-1.2-1.7-.5-1.2-2.1-1.1-.3-1.2-1.6-1.1-.7-1.6-1.8-.7-1.9-1-.4-.4-3.5 1.5-2.3M388.1 204.8l.4-.6 1.1 .1 .6 .5-.1 1.2-.5 .7-1.1-.2-.4-.5 0-1.2M441.7 209.5l1.3 1.1-.1 1.3-1.2 .3-1.4-.4-.9-1.2 1.2-.3 1.1-.8M418.8 214.1l.9-.4 3.7 1.6 .9 1.1 .1 2.4-1.1 2.3-1.2 1-2.4 .9-2.3 0-1.1-1.1-1.1-3.1 .4-1.2 2.8-2.3 .4-1.2M341.3 215.3l.9-.8 2.4 .8-.2 2.3-1.1 1.4-1.1 .1-1.2-1.5 .3-2.3M391.8 215.3l1.3 .2 .8 .9-.8 .8-2.3 0 0 .7 1.2 .5 1.1-.6 1.2 .7 1.1-.2 1.4 1.6 .4 1.2-.1 2.3-.7 1.2-.1 1.1-.9 1.1-1.1-.3-3.1 .4-1.6 1.4-2.3 .3-1.1-.3-.7-1.4 .5-1.2-.2-1.1 .9-2.3-.1-1.2 .8-1.2-.9-1.1 2-2 1.1-.2 2.2-1.3M351.1 222.3l1.5-.5 2.3 .8 2.6 2 .3 1.1-.6 2.3-1.1 1.3-3.5 .8-2.3-.9-1.6-3.5 .4-1.5 2-1.9M433.2 228.1l1.6-.5 1.2 .2 1.1 .5 .6 .9 .5 1.2 0 1.2-.4 2.3-.7 .7-2.3 .3-1.2-.3-1.9-1.9-.2-2.3 1.7-2.3M473.2 228.1l1-1.1 1.1 0 2.2 2.2 .4 1.2 .1 1.2-.7 2.3-2 1.5-2.3-.2-1.1-.6-1.8-4.2 .6-1.5 2.5-.8M396.5 230.4l2.4-.6 .9 1.8-.4 1.1-1 0-.6-1.3-1.3-1M343.5 233.9l1-.7 1.2-.1 2.7 .8 .8 1.1 0 2.4-2.4 1.1-1.1 2.8-1.2 .4-1.2 1.3-1.1-.2-.9-.8-.8-1.1-.4-2.4 .9-.9 .3-1.4 .9-1.2 1.3-1.1M409.8 237.4l1.8-1.1 1.2 0 2.3 1.7 .5 .5 .4 2.4-.9 2.1-2.3 1.1-2.3-.3-.8-.6-1-2.3 0-1.2 1.1-2.3M363.6 238.5l1.7-.6 1.2 .2 .6 1.6-.6 .6-2.3 .3-1.5-.9 .9-1.2M453.3 238.5l1.2 .1 1.1 .6 1.2 1.5 0 2.4-1.2 2.5-2.3 .3-2.9-1.6-.7-1.1-.4-1.2 .6-1.4 3.4-2.1M379 245.5l2.5-.2 2.8 2.5 .1 1.2-.5 .8-2.4 2-2.3 .3-1.6-.8-.9-1.1-.3-1.2 .5-2.1 1.2-1.1 .9-.3M335 246.7l1.4 .9 .6 1.4-.5 2.3-1.3 1.5-2.3-.1-1.1-.8 0-3.9 1.1-1 2.1-.3"/><path d="M501.8 31.6l1.3-.1 1.2 1.2 2.4 1.2 2.2 2.3 .3 1.2-1.7 2.3-4.4 2.3-1.1-.3-1.2-.9-1.2-1.1-.4-1.2 .1-3.5 .7-2.3 1.8-1.1M512 42l.4-.5 2.3 .1 2.6 1.6 .6 2.3 0 2.3-.3 1.2-1.8 1.8-3.4 .4-.9-1-.7-4.7 1.2-3.5M487.8 57.1l2.3 0 0 3.5-.8 2.3-1.2 .2-1.2 .9-.9 .1-.8 1.2-.1 2.3 .6 3.5-.4 3.5-.7 2.3-1.2 .4-.4 .8-.8 3.5-1.1 1.1 0 1.2-1.5 1.1-.8 1.5-1.2 .3-2.3 1.4-1.1 .2-1.2 1.5-1.2-.2-1.1 1.9-3.5-.2-.5-.5 .3-2.4-.2-1.1-1.9-.7-.4-.5-.1-1.2 .5-.8 1.3-.3 .9-3.5 4.8-.6 2.3-.8 2.3-.3 1.1 .3 .5-.9-.1-4.7 .5-2.3 .3-.6 1.5-.6 .3-1.1 .5-.5 2-.7 .3-2.9 1.5-.6 .6-4.6 1.4-.2 .7-1 .2-1.2M452.4 72.2l3.2-.6 4.7 .7 2.3 1.1 1.1 1.3 2.4 1 0 1.2-1.7 2.3-.7 .2-6.9 1.4-3.5-.1-2.4-1.5-.9-1.1-.5-2.4 .9-2.3 2-1.2M497 72.2l2.6-.5 2.5 1.7 .6 1.2 .5 3.5-.6 1.1-3 .7-2.3-.6-1.8-1.2-.5-2.4 .1-1.1 .7-1.2 1.2-1.2M518.7 82.7l1.3 0-.1 1.2-1.3 0 .1-1.2M497 88.5l.3-.3 1.2 .1 .6 1.4 0 1.2-.6 .8-1.2 0-2.5-.8 .2-1.7 2-.7M453.2 89.7l3.6 0 .1 3.5-2.3 0-1.3-1.3-.1-2.2M511.1 90.9l1.3-.4 1.1 .7 .8 .8 .4 1.5 1.1 0 .9 .8-.7 1.2-1.3-.8-.9 .8-1.4 .6-1.2-.2-1.8-2.7 .3-1.2 1.4-1.1M470.3 93.2l.4-.3 0 .4-.4-.1M518.1 93.2l.1-.3-.1 .3M491.7 95.5l1-.3 1.1 .4 2.1 2.2 0 2.4-.9 .9-.7 1.4-1.7 1.1-1.1 1.4-2.3 .1-2.3-1.3-2.3 2.6-1.2 .3-1.1 1.1-1.2 0-.9-1.8-1.4-.9-.6-1.5 .3-1.1-1.4-4.7 .5-.9 2.4-1.2 2.3 .1 4.6 2.2 1.2-1.8 3.6-.7M442.1 101.3l2-.9 4.6 0 6.9 2.6 1 .6 .3 1.2-1.3 1 .1 1.3 2.1 1.2 1.3 1.9 .8 1.6 .4 2.7 3.4 .4 1.2-.4 1.2 .2 2.3 1 1.1 1.9-1.1 4.3-1.3 .4-1 1.4-.6-.3-.3-1.1-.9 0-.6 1.8-1.1-.4-.5 .9 4 .3 1.6-.3 .7-.7 2.3 .8 1.2 1.4 3.4 .4 2 1.6 1.5 .6 1.2 .3 2.3-.3 3.4 2.2 1.2-.2 1.2 .5 1-.8-.4-2.3 .9-1.2 .7-2.3 1.2-1.1 2.3-.1 2.4 .5 2.3 1.8 .7 1.2 .6 2.3-.3 1.2-.6 1.2-1.6 1.3-2.3 .9-3.5-.7-1.1-.9-.6 .5-.3 1.2 1.1 4.6-.8 3.5 1.5 3.5-.2 7-2.7 2.3-1.1 2.3-1 1.2-4 3.2-4.7 1.7-6.9-1.1-1.2 .2-.9 .6 .2 2.4-.4 .6-1.2 .6-2.1 2.3-.3 1.1 1.2 2.4-1.6 2.3-.3 1.1 1.1 1.2 2 .6 2.2 1.7-1.1 4.7 .2 2.3-1.3 .5-5.8 .4-3.4-.6-2.4 .7-.4 1.3 .6 5.8-1.3 3.5-4.6 1-1.2-.3-1.1-1.8-2-1.2-.3-1.2-1.2-1.1 0-1.2 2.3-2.1 3.9-1.4-.4-1.7-2.9-1.8-1-1.1-3.1-1.5-1.7 1.5-.6 1.9-1.2 .7-1.1 .2-1.2-.6-4.1-4.5-.4-3.5-1-1.2-.3-3.7-2.3-.5-2.2 4.2 2.5 3.5 .3 1.2-.3 2.3-1.4 2.9-2.4 .4-1.1-2.3-1.2 .1-2.2 1.2-1.5 4.7 .8 1.1-.6 3.6-1.1 .3-2.6-.4 2.1-1.2 .1-3.4-.8-.4-2.2-3.1-3.6-3.2-.7 .8-1 2.4 0 2.3 .6 1.2-2.3 .9-2.3-.9-1.2-1.1-2.3 1.7-1.2 1.9-1.1 .4-2.3-.1-1.2 .4-.3 3.7-2 1.1-3.5 .5-2.3-2-1.4-1.9 .2-3.6-1.2 .1-3.4 1.7-1.2 .2-2.2-.7-.6-1.2-.4-4.6 .7-4.7-1.8-1.1 .2-4.7 .5-1.2 1.3-.8 3.5 .4 1.2 .8 1.1 .2 1.5-.6 .4-1.1-.7-1.2-1.2-.3-2-2-.5-2.3 3.7 .9 1.1-1.2 .4-.9-.7-2.3 .1-2.4 .7-1.1-.5-1.2-1.2-1.1-.7-2.4 1.1-1.1-.4-3.5-1.5-1.2 1-2.3 1-1.2-2.7-2.9-1.2-.3-3.5 .1-.9-1.5 0-2.3 2.1-2.3 .6 1.1 2.9 .7 1-1.9 4.7-5.2 1.2-2 2.3-1.5 3.5 1.1 1.4 1.8 2.1 .7 1.1-.3 2.3-3.6 3.5-1.8 .6-.8-.6-2.5 .6-1 1.7-1.3 3.5 .1 1.7 1.2-1.2 2.3-2.7 1.2-.1 3.8-2.1 2-1.4 .6-.8 1.7 .4 2.4 1.6 .3 .6-.3 1.7-2.7 6-3.1 1.9-3.5 .2-1.2-.4-1.2-1.7-2.3 .8-2.3-.4-2.3 1.7-1 1.1-.2 1.2 1.1 1.2-.3 1.1 .2 .9-1 2.6-.4 .7-.8 .2-1.1 1.6-1.2 .2-3.5 .8-1.3 1.1-.7 2.3 0 1.2-.5 3.5 1.7 .9-1.5 2.9-7M486 110.6l3.2-.1 1.2 .7 4 .6 1.2 1.1 .5 1.2-.4 2.3-.8 1.2-3.4 2.7-1.1-.4-3-3.5-.7-2.3 .2-1.3-1.6-1 .7-1.2M480.6 111.8l.5-.5 .5 .5-1 0M478.2 112.9l.6-1.1 1.2 .1 .5 2.2-.5 1.1-1.2-.1-.8-1 .2-1.2M455.6 115l-.5 .3 .5 2.9 1.2 .6 1.2 .1 1.6-1.3-1.4-1.2-1.4-.3-1.2-1.1M430.2 116.2l0 .6 1.1-.1 .1-.3-1.2-.2M460.3 116l-.7 .4 .7 .7 .8-.7-.8-.4M438.3 117.5M415.1 118.8l.3 0-.3 0M430.2 119.2l-.6 .7-.1 1.2 1.8 1.1 1.2-.7 .3-.4-.5-1.2-1-.8-1.1 .1M424.4 124.6M376.4 145.5l.5-.3 1.2 .7 1.9 11.2-1.9 3.3-2.3 2.2-1.8-3.1-2.5-1.2-2.5-2.3-.7-1.2-.6-2.3 .6-2.3 1.7-2.1 4.6-2.3 1.8-.3M476.5 148.9M496.9 150.2l.4-.8 1.8 .8-.3 2.3-1.5 1.5-.7-.4-.2-1.1 .5-1.2 0-1.1M414 152.3l-1 .2-1.4 .9-.4 1.4 .4 2.3 1.2 .7 1.2 .1 1.1-.6 1.4-2.5-.2-1.4-1.1-.9-1.2-.2M407 156.9l-2.3 1.1-2.3 2-1.2 1.6-1 .2-.1 1.4 2.3 .7 2.3-.2 2.3-.9 .9-1 .9-3.5-1.8-1.4M490.4 157.1l2.3-.9 2.3 0 1.2 .8-.8 4.8-1.6 1.7-1.1 .4-2.3-.4-.8-2.9 .8-3.5M390.8 159.4l-.9 1.2 .9 1.2 1.2 .7 .6-.7 .3-1.2-.5-1.1-.4-.4-1.2 .3M459.1 160.4l-1.6 1.4 1 1.1 1.8 .3 .9-.3 .3-1.1-.6-1.2-.6-.4-1.2 .2M356.5 161.8l1.9-.3 2.3 .9 .4 .5-1.2 3.5-1.5 1.2-2.3-.2-1.1-1-.5-1.1 .5-2.4 1.5-1.1M368.7 161.8l.1 1.2-.1-1.2M422.1 161.7l-2.1 2.4-.3 2.3-.6 1.2-1.7 1.5-2.3 .2-3.5-.7-3.4-3.5-1.2-.3-1.2 1.6-.3 2.4-.8 1.4-1.2 .6-2.3 .3-.4 1.2 .7 4.6-2.3 4.7 .9 1 1.1-.2 1.2-1.4 1.1-.4 2.4 1.9 1.4-.9 3.9-4.7-.1-1.2 .5-1.6 1.2 .8 .4-1.5 .8-.9 2.3 0 2.3 1 3.5-.5 1.1-.7 .6-3.5 1.4-4.7-.1-2.3-.7-.5-2.3 .4M431.3 161.7l-.6 .1-.2 1.1 .8 .4 .4-.4 0-1.1-.4-.1M377.6 165.3l.5-.5 2.3 0 .6 .5 0 1.1-.6 .9-1.8-.9-1-1.1M434.8 168.4l-1.2 .5-.9 1-1 1.2-.2 1.2 3.1 1.1-.5 2.3 .7 .9 1.2 .1 1.4-1-.8-2.3 2.4-2.3 0-1.2-1.9-1-2.3-.5M481 168.8l3.6-.9 2.3 .6 .2 1.4-3.7 1.4-1.1-.7-1.2 .3-.5-1 .4-1.1M447.5 169.8l-3.7 1.3-.9 3.3-1.1 1.3 1.1 .1 2.3 1.3 2.3 .4 2.4-1 2.7-1.9 .2-1.2-1.8-1.8-3.5-1.8M479.9 171.1l.3 0-.3 0M468.9 173.4l1.8-.8 2.3 .3 .8 .5 .1 1.2-.9 1.9-2.3-.7-1.8-2.4M438.3 176.7l0 .8 1.1 .1 1.2-.6 1.1 0 0-1.3-1.1 1.1-1.2-.5-1.1 .4M392 185.7l-.6 .5 1.4 4.7 2.6 1 1.2-.8 .2-1.4-2-3.5-.5-.5-2.3 0M360.7 187.4l1.2-.7 2.3 .4 1.1 1.1 .8 1.5-.2 1.2-1.4 2.3-2.6 1.1-1.2-.4-.6-.7-.3-3.5 .9-2.3M424.3 187.4l.6 0-.6 0M471.6 187.4l3.7-.5 .5 .5 0 1.1-.5 .9-2.3 0-1.1-.6-.3-1.4M433.4 188.5l.2-.2 3.1 1.4 .1 1.2-.8 2.6-1.8 .8-.4 1.2 1.2 1.2-1.4 .2-.3-1.4-.8-.6-1-4 .4-1.2 1.5-1.2M466.9 192l.3-.6 3.5 .5 0 1.3-3.5 .5-.3-1.7M376.6 203.6l2.6-.4 1.2 .5 .4 1.1-1.5 1.2-.4 1.1-2 .5-1.1 1.9-1.2-1.2-.8 1.2-.8 0-.7-1.2 1.1-2.8 .5 .5 .7 2.2 .3-2.2 1.7-2.4M399 203.6l2.2-.8 3.5 .5 1.9 2.7 .5 1.1 1.1 1 1.6 .2 .7 .8 .2-.8 2.3 0-.2 1.8-1.2 .9-2.3 .3-1.1-.4-.5 .9 .6 1.2-.1 1.8-1.2 .3-1.1-1.3-1.2 .2-1.2-.7-1.1-.1-1.2-1.3-1.8-1.3-1.2-2.3 .2-2.3-.3-1.2 .9-1.2M471.7 206l2.5-.8 2.3-.1 1.1 .4 .2 .5 .1 1.1-.7 1.2-.1 1.2-.9 1.1-1.3 5.8 .3 1.2-1 1.9-1.2 .2-1.1-.2-1.1-1.9-2.1-1.2-1.2-2.3-.1-1.1 1-2.4 1.9-1.1 .6-2.4 .8-1.1M418.2 216.4l1.5-.8 1.2 0 1.7 .8 .8 2.4-1.3 2.5-2.4 .8-2.3-.4-.5-.6-.5-1.2 .1-1.1 .4-1.2 1.3-1.2M389 219.9l.6-.5 2 1.7-.8 .9-2.3-.2-.4-.7 .4-1 .5-.2M392.6 221.1l.5-.3 .3 .3 1.1 2.3-1.3 2.3-1.2-.6-.8 .6-1.2 0-1.9-1.1 1.5-1.6 1.2-.4 1.2 1.3 .6-2.8M351.1 223.4l1.5-.8 3.5 1.6 .9 1.5-.7 2.4-1.4 .9-2.3 .2-1.9-1.1-1.1-2.4 .4-1.1 1.1-1.2M387.2 226.9l.5 0-.5 0M433.3 229.2l1.5-.7 1.2 .2 1.1 1.1 .3 1.8-.3 1.1-1.1 1.2-1.2 .3-1.2-.5-1-1-.4-1.1 .2-1.2 .9-1.2M472.4 229.2l1.8-.9 1.1 0 1.7 2.1-.3 2.3-1.4 1.7-2.3-.3-1.1-1.4-.4-2.3 .9-1.2M343.1 236.2l1.4-.9 1.2-.1 .7 2.2-.7 .8-1.4 .3-1 1.9-1.1-1.9 .9-2.3M411.9 237.4l.9-.1 1.2 .8 1 1.6 .2 1.2-.7 1.1-1.7 .9-1.2-.1-1.7-1.9-.1-1.2 .4-1.2 1.7-1.1M453.1 239.7l1.4 0 1.1 1 .6 1.3-1.3 2.3-1.6 .6-1.3-.6-1.5-2.3 .6-1.1 2-1.2M378.1 246.7l1.1-.5 2.3 .1 .5 .4 .8 1.1 .3 1.2-1.6 2-2.3 .4-1.7-1.2-.4-1.2 .2-1.2 .8-1.1M332.4 249l.5-.6 2.3 0 .5 .6-.5 1.7-1.1 .5-1.2-.3-.5-.7 0-1.2"/><path d="M501.8 32.7l1.3-.3 2.6 1.5 2.3 2.3 .2 1.2-1.4 2.3-3.7 1.6-1.1-.3-1.6-1.3-.7-2.3 .2-2.4 1.9-2.3M512.7 43.2l.8-.7 3 .7 .5 1.1 .2 2.4-.6 2.3-.8 .8-2.3 .3-1.1-.2-1.1-3.2 .1-1.2 1.3-2.3M480.4 71.1l.7-.5 1.2-.1 .9 .6 .2 3.5-.5 2.3-.6 1-1.2 .1-1.5-1.1-.2-1.2-.6-.6 0-1.9 1.2-.5 .4-1.6M454.4 72.2l3.6 .1 3.6 1.1 2.2 2.3-.4 2.4-.8 .6-1.2 0-2.3 1-3.5 .4-2.3-.2-2.3-1.5-.9-2.7 .9-2.2 3.4-1.3M496.5 73.4l.8-.7 2.3-.3 1.7 1 .9 2.3 .1 2.4-.3 .4-2.4 .9-3.1-1.3-.9-2.4 .9-2.3M473.3 80.4l3.2-.3 1.1 .6 1.2-.8 .7 .5 .6 1.2-.4 2.3-2.3 2.3-2.1 1.3-1.1 .2-1.2 1.1-1.1-.3-1.2 .7-1.2-.4-.5-1.4-.1-2.4 1-1.1 .4-2.3 .4-.5 1.2 0 1.4-.7M510.6 92l.6-.5 1.2-.2 .7 .7 0 2.3-.7 .4-1.2-.3-.8-1.2 .2-1.2M479.7 96.7l2.6-.4 4.6 2.4 1.2-1.5 1.1-.8 3.5-.1 2 1.5 .3 2.4-1.4 2.3-2.1 1.8-2.3 0-2.3-1.5-2.3 2.2-2.3 .7-2.9-2.1-1-3.4 .1-2.4 1.2-1.1M443.6 101.3l2.8-.5 3 .5 4.6 2.3 1.5 1.2-.5 1.2 .2 1.1 2.1 2.4 1 2.3 .8 .3 .8 3.2-.8 .6-1.8-.6-1.7-1.5-1.8 .3-.4 1.2 .9 1.1 .8 3.5 1.7 .4 2.3-.7 1.3-.8 1-1.6 1.2-.6 1.8-.2 .5-.8 1.2 0 .7 .8 1.6 .5 .4 .7-.4 2.4-.9 1.1-1.4 0-2.4-.9-1.1 .8-1.8 2.4 .4 1.2 1.4 .6 1.1-.1 2.4 .6 3.4-.5 1.2 .5 1.2 1.1 3.4 .3 .9 1 2.6 1.1 3.5 .2 5.8 3.8 1.1 1.6 .9 2.6-.1 2.3-1 2.3-.1 1.2 1.5 .8 .6 1.5-.2 5.8-.4 1.2-2.7 2.3-2 3.5-3.4 2.8-4.7 1.6-6.9-1-1.2 .1-1.7 1.1 .5 1.2 .1 1.2-3.5 2.8-.5 1.8 .7 2.4-1.4 1.8-1.2 .5 .1 1.5 3.9 2 .9 1.1 .3 2.4-.9 2.3-.7 1.1-2.4 .4-2.3 1.2-3.4-.6-2.4 .8-.7 .6-.3 1.1 .5 4.7-.2 2.3-1.6 1.7-1.1 .5-2.3 .3-1.2-.4-.6-.9-1.9-1.2-1.2-2.3 .1-1.2 3.3-2.3 1.5-.3 1.2-.9-1.1-2.3-2.1-1.2-.4-1.8-.5-.5 .5-.2 .4-.9 0-1.2-.4-.8-1.1 2.6-1.2-.8-2.3 .2-1.8 1.1-1.7 2.3-1.1 .4-.8-.4-.5-1.1-2.2-2.5-1.2-.6-.2-2.7-.7-1.2 .9-.6 1.2 1.1 2.3 0 1.2 1.5 2.3-.8 1.1 .2 1.2-.6 2.3 1.1 1.2-.6 1.1 .6 .2-.7 5.6-3.4 1.4-.1 .3-1.2-.5-.7-1.2 .2-3.4-2.8-2.4-.7-6.2 1.7 .4 .5 0 1.8-1.1 1.6-2.3 .2-.5-.6-.1-1.2 2.1-1.1 .7-1.2-.3-1.2-5.4-2.1-1.2 .3-2.3 2.8-1.1 .7-1.8-.5-.5 1.8-.6-.6 .4-1.2-.9-2.3-1.3-.2-.6-2.2 .9-2.3 .1-2.3-1.5-1-2.3 .4-1.8 1.7-1 2.4 0 1.1-.6 1.2-1.3 1-1.1 .3-4.7-.7-3.7-4.1-.2-1.2 .8-1.1 1-3.5-1.1-1.2-1.4-.7-1.1 .1-2.4 2.1-1.9 .9-.4 .6-1.1 .5-.6 1.2-.1 2.3 .7 .3 3.4-.2 1.2 .2 1.1 .9-.9 3.5-1.1 1.1-3.7 .8 .8 5-.1 1.2-2.2 3.5-.4 1.2 .3 1.1-.7 .9-1.2-.2-1.1 .5 .4 1.1-.5 .2-.9-1.3-1.4 0-2.3-.7-.8 .7 1.4 5.8 .7 1.2 3 2.3 .4 1.1 .4 1.2-.8 2.3-.8 .5-3.5 .4-3-3.2 .4-3.5-.9-.7-4.6 1.7-1.2 .2-1.1-.5-.8-.7-.6-4.6 2-7-1.8-.4-.7-.8 .1-2.3 .6-1 1.2-.2 2.3 .5 1.2 1.2 2.3-.2 1.1-.7 1.2 .8 .5-.4-2-3.5 1.3-5.8-.6-2.3 .3-2.4 .5-.5 1.1 .1 3.5 .9 1.2 .7 .2-1.2-.8-1.1-.6-3.2-1.1-.2-3.5 1.1-1.2-1.2-.3-1.2 1-1.1 0-1.2 3.8-1.2 .2-1.1-1.2-1.5-1.2-.3-2.3-1.6 .3-1.3-2.4-2.3-.5-1.2-.3-1.1 .3-2.3 3.1-4.7 1.8-1.7 1.2-1.8 2.3-1.8 1.9 .7 1 1.1 4.1 1.6 2.3-1.1 1.8-2.8 1.7-1.3 .6 1.3-.4 2.3-.2 .4-1.2 0-.4 .8 .4 2.9 1.2-.2 .1 .8 1 .7 1.2-.1 1.1-.6 1.2-2.2 1.1-1 2.4-.8 2.9-1.8 1.9-3.5 .9-3.3 .5 .9 .7 .2 2.3-1.3-.2-2.3-.9-.8-3.5 .2-.4-.6 .4-1 1.1-.1 1.2 .6 2.3-1 4.3-.8 .4-.8 .5 .8 .2 2.3 1.6 1.2 1.1 .3 1.4-.3 1-1.2-.1-1.2-1.3-2.3-.9-3.5-1.2-.5-.3-.7 .3-2.3 1.1-1.1 3.5-.7 2.6 1.8 .9 1.7 .6-1.7 1.1-1.1 1.7-5.9 1.9-2.3M488.5 111.8l.7-.4 3.5 .4 2 1.1 .7 1.2 0 1.2-1.2 2.3-2.7 1.8-1.1-.5-2.4-2.5-.5-2.3 1-2.3M438.3 114.7l-.8 .6-.6 2.3 .2 .5 1.2 .3 2.2-.8-.1-1.2-2.1-1.7M410.3 123.4l1.3-.5 1.2 .1 .5 .4-.1 1.2-1 1.1-2.9 .6-.7-.6 .3-1.1 .4-.8 1-.4M424.4 123l-.9 .4-.3 1.2 1.2 .9 .8-.9-.8-1.6M492.4 124.6l1.4-.5 1.2 .1 2.3 1.2 1.3 1.5 .7 2.3-.4 1.2-.8 1.2-1.9 1.3-1.2 .3-2.3-.6-1.2-.6-1.1-1.6-.5-2.3 .7-2.4 .9-.9 .9-.2M469.5 131.3l-1.1 .3 1.1 .4 0-.7M485.7 135.8l-.3 .4 0 1.2 .3 .3 .4-.3-.4-1.6M469.5 137.3l-1.1 1.1-.1 1.3 1.2 .6 .5-1.8-.5-1.2M380 142l.4-.7 1.3 .7-.4 1.2-.9 .3-.5-.3 .1-1.2M376.8 146.7l1.6 4.6 .8 4.7-.8 2.3-1.5 1.1-2.3-.5-4.6-2.9-1.3-3.5 .4-2.3 2-2 3.5-1.5 2.2 0M392 146.5l-.4 1.3 .4 .2 .8-1.3-.8-.2M474.2 147.2l-1 .6-.4 1.2 2.5 .3 2.3 1.2 .4-.3-.1-1.2-1.3-1.2-1.3-.7-1.1 .1M402.4 149.5l-.3 .7 .3 1.1 .5-1.1-.5-.7M412.8 152.3l-1.2 .3-.5 1 .1 3.5 1.6 1.1 2.3-.3 1.6-3.1-.4-2-1.2-.6-2.3 .1M490.3 159.5l.1-.3 1.6 .3-.3 1.1-1.3 .1-.1-1.2M416.3 160.6l-1 1.2 1 .4 .7-.4-.7-1.2M459.1 160.2l-3 1.6-.8 1.1 5 .7 2.3-.7-1-2.3-1.3-.8-1.2 .4M430.2 161.6l-.4 1.3 .4 .6 1.1 .5 1.2-1.1-.2-1.1-1-.4-1.1 .2M355.8 162.9l1.4-.7 1.2 0 1 .7 .4 1.2-.3 1.2-1.1 1.5-1.2 .1-1.3-.5-.7-1.1 0-1.2 .6-1.2M384.7 171.1l.3-.3 .3 .3-.3 .3-.3-.3M424.2 171.1l.2-.7 .4 1.9 .7 .9 1.2-.3 .6 .5-2.2 2.3 .2 1.2 3.4 3.5-.3 3.5-.5 1.1-3.5-2.5-2.3 2.5-1.2 .5-.5 .7-.7 2.4-1.1 .8-1.2-.4-5.1-5.1-.7-.5-1.1 .3-2 7.2-.6 0-.4-1.2-.5-.3-2.3-.5-3.1 2-.4 1.1-.9 1.2-.9 0-.5-.7-1.1-.3 1.1-.4 .6-.9-.6-2-1.1-.4 1.1-.3 2-2 1-3.5 .5-.5 1.1-.4 2.4 1.5 3.4-1.7 0-1.2 1.4-2.3 2.1-1.7 1.2-3.3 2.3 0 2.3 1.1 4.6-.8 .9-1.1 .1-1.2M471.1 173.4l1.1 0-.3 .7-.8-.7M360.6 189.7l1.3-.9 1.1-.2 1.6 1.1-.1 1.2-2.6 1.7-1.2-1.5-.1-1.4M432.5 189.7l1.3 0-.2 .3-1.1-.3M399.5 204.8l1.7-.9 1.2-.2 2.3 .8 1.2 1.3 1.1 2.5-.2 2.3-.9 1.5-1.2 .6-1.2-.5-1.1 0-2.3-1.7-1.2-2.2-.1-1.2 .7-2.3M474.2 206l1.6 1.1-.1 2.4-2.4 6.9-.3 .6-1.1 .2-1.6-.8-.8-.8-.7-1.5-.1-1.1 1-2.4 1.7-1.1 .5-1.4 1.1-.1 1.2-2M419.7 216.4l1.2 .1 1.2 .8 .6 1.5-.6 1.6-1.2 .9-1.2 .2-1.2-.4-1.3-1.2 .6-2.3 1.9-1.2M350.9 224.6l1.7-1.2 3 1.2 .6 1.1-.8 2.4-1.6 .6-2-.6-1.3-2.4 .4-1.1M434.8 229.2l1.2 .4 .7 .8 0 1.2-.7 1.4-1.2 .4-1.4-.7-.5-1.1 .2-1.2 1.7-1.2M472.6 230.4l1.6-1 1.1 .1 .8 .9 0 1.2-.8 1.7-1.1 .2-1.2-.7-.6-1.2 .2-1.2M411.4 238.5l1.4-.4 .6 .4 .8 1.2-.2 1.6-1.2 .6-1.2-.2-.7-.8-.1-1.2 .6-1.2M452.3 240.9l1-.5 1.5 .5 .6 1.1-.9 1.4-2.3 0-.7-1.4 .8-1.1M378 247.8l1.2-.9 1.2 .1 1.1 .3 .7 1.7-.8 1.2-2.2 .5-.9-.5-.6-1.2 .3-1.2"/><path d="M501.8 33.9l1.3-.6 2.3 1.1 1.9 1.8 .2 1.2-1.3 2.3-.8 .5-2.3 .6-1.1-.5-1.2-1.2-.6-1.7 .3-1.2 .2-1.2 1.1-1.1M512.7 44.3l.8-1 2.3 .4 .8 3-.9 2.3-2.2 .5-.7-.5-1-2.3 .2-1.2 .7-1.2M451.9 73.4l2.6-.9 4.6 .3 1.5 .6 2.1 2.3-.4 1.2-2 1.7-3.5 1-2.3-.1-1.2-.2-2.3-2-.4-1.6 .4-1.2 .9-1.1M480.8 73.4l.3-.5 1.2 0 .2 .5-.2 2.9-1 .6-.5-3.5M497.2 73.4l2.4-.5 1.2 .7 .9 2.1-.6 2.4-1.5 .8-2.3-.9-.9-1.1 0-2.3 .8-1.2M472.8 81.6l1.4-.7 2.3 .3 1.4 1.5 .5 1.2-.8 .5-1.1 1.8-1.2 .8-1.1 .1-1.2 .7-1.1-.5-1.2 .3-.5-2.6 1.2-2.3 1.4-1.1M511.6 93.2l.8-.7 0 .9-.8-.2M479.4 97.8l1.7-1 1.2 .1 3.4 1.5 .9 .6 .3 1.2-.4 2.3-1.9 1.6-2.3 .1-1-.6-1.3-1.3-1.1-2.1-.1-1.2 .6-1.2M488.6 97.8l1.8-1 1.1 0 2.3 1.4 .6 2-1.5 2.3-1.4 1.1-2.3-.1-1.5-1-.7-1.2-.1-1.1 .5-1.2 1.2-1.2M443.8 102.5l1.4-1 2.3-.1 5.8 2.9 .8 .5 .6 2.3 2.5 3.5-.4 1.6-2.3 1.1-2.3 .4-2.3-1.3-.8 .5 .8 1.8 3.6 1.7 .4 2.4-2.1 2.3 1.5 .2 1.2-.6 2.3 .5 2.3-.4 1.2-1.2 1.7-.8 0-1.2 .6-.3 1.9 .3 .4 1.1 1.2 0 .5-1.1 1.2 0-.6 1.9-1.1-.7-1.2 0-2.3 .8-2.8 3.8 .7 1.2 .9 .6 1.2 .5 1.6 0 2.3 1.2 1.1 2.3-.9 2.4 .2 1.1 2.6 .6 .4-.6 .2-1.1-1.3-4.7 .7-.5 1.2 .4 1.2 1.2 2.3-.3 4.6 2 3.5 .2 2.4 1.7 2.1 2.3 1.3 .5 1.1 1.5 .5 1.5 0 2.3-2.1 3.5 .5 .7 1.1 .2 1.2 .8 .2 .6-.2 5.8-.7 1.2-2.6 2.3-.9 2.3-.9 1.2-3 2.5-4.7 1.6-8.1-1-2.3 1.2-2.3 .2-1.2-.5-.8-1.7-2.6-1.2-5 2.4-.8 .9 0 .4 5.8 1 5.8-1.1 1.1 .5 .4 .6-.1 1.2-2.6 1.9-.8 1.6 .4 3.5-.8 .8-1.3 .3-.7 1.2 .3 2.3 3.1 1.2 1.1 1.1 .4 2.4-.5 .9-1.2 .3-.5 1.1-1.8 .4-2.3 1.7-1.2-1.6-1.1 .3-3.5 2.6-1.2 .4-1.1-.1-1.2-.7-1.1-1.3-1.3-.6-.2-2.3 1-2.3-.9-1.2 .4-1.1 1.6-1.2 2.8-1.5 1.2 .2 1.5-1 .5-2.3-.9-.9-2.3 .1-3.4-2.1-2.4-.5-3.4 1-3.5-.6-1.2-.7-3.4-.8-1.2-.8-1.2 0-.7 1.8-1.6 1.6-1.1 .4-1.8-.9-1.7-2.3-1.2-.8 .2-1.5 .9-1.2-.1-1.2 .6-1.1-2.7-1.4-2.3 .3-2.2 2.2-.9 2.4 0 1.1-1.6 1.9-2.3 .1-3.5-.6-1.5-1.4-1.2-2.3-.2-1.2 .5-2.3 1-2.3-.5-1.2-3.8-1.5-2.4 2.1-3.4 1.6-1.5 3.6-.8 .7-1.2-.4-1.2-.5-.8-.9-.5-3.5-1-.6-1.1-.1-3.5 .8-.2-1.3 1.9-1.1 .3-1.2 1.5-.4 1-.8 .1-1.1-1.2-3.5 2.1-1.2 .5-1.1-1.4-1.4-1.1-1.8-.5 .8 .2 1.2-2.1 2.4-2.2-1.2-1.1-1.2-.6-2.3 .3-1.2 1.3-1.9 1.2-3.7 3.5-3 1.1-1.5 2.3 1.6 4.7 1.6 2.3-.6 1.1-.9 .6 3.8 .6 .7 1.2-.3 1.1 .7 1.2-.3 1.1-.6 2.3-3.1 3.5-1.3 2.2-1.6 2.4-4.6 3.5-1.5 1.2 .5 .7-.3 .7-1.1-1-3.5 .7-1.2 1.2 0 1.2 1.7 3.4 1.3 2.3-.6 .6-1.2 .3-2.3-2.4-4.7-1.1-1.2-.3-1.1 .6-1.2 1.2-.7 2.4-.4 1.5 1.1 1 2.3-1.4 1.2 .2 1.2-.7 3.5 2.8 .1 3.4-1.1-.3-1.4-2.5-2.3-.2-1.2 .7-.9 1.2 .5 .7-.7-.3-3.5 .4-2.3 2.4-3.5M488.7 112.9l.5-.5 2.3-.3 2.3 .8 .9 1.2-.2 2.3-1 1.2-2 1.1-1.1-.5-1.7-1.8-.5-1.1-.1-1.2 .6-1.2M448.7 117.4l0 .7 1.2 .2 1.4-.7-2.6-.2M491.6 125.7l2.2-1 1.2 .1 2.3 1.3 1.2 1.6 .3 1.5-1.3 2.4-1.3 .8-1.2 .2-2.9-1-1.3-2.4-.1-1.1 .9-2.4M423.2 131.5l0 1.4 0-1.4M480 133l-.5 .9 .5 .6 1.1-.1 .5-.5-.5-.9-1.1 0M485.7 134.5l-1.2 1.7 .2 1.2 1 .8 .9-.8-.1-1.2-.8-1.7M469.5 136.8l-1.1 1-.4 1.9 .4 .9 1.1 .5 1.1-1.4 .2-1.2-1.3-1.7M402.4 145.1l-.5 1.6 .2 1.1-.9 2.4 .3 1.1 .9 .6 1.7-.6-.5-2.3 .3-2.3-.4-.7-1.1-.9M474.2 146.3l-1.7 1.5-.5 1.2 3.3 .9 2.3 1.7 .5-.3 .9-1.1-.6-1.2-3.1-2.6-1.1-.1M373.5 147.8l1.1-.5 1.7 .5 2.2 5.8-.1 2.4-.3 .7-2.3 .9-1.2 .2-2.3-1-2.3-2-.5-1.2-.2-1.1 .4-2.3 2.6-2.1 1.2-.3M405.9 152l-.7 .5 .7 .6 .5-.6-.5-.5M411.6 152.2l-.5 .3-.3 1.1-.2 3.5 1 1.2 3.1 1.2 0 2.3 .4 .4 1.2 .4 1.1-.5 .4-.3-.4-.8-1.7-1.5-.3-1.2 1.5-3.5-.5-2.3-2.4-.6-2.4 .3M430.2 161.3l-.9 .5 0 1.1 .7 1.2 1.3 .5 1.2 0 .5-.5-.3-2.3-1.4-.6-1.1 .1M357 162.9l1.4 0 .6 1.2-.6 1.9-1.2 .1-1.4-.8-.1-1.2 1.3-1.2M388.6 164.1l2.2-.6 3.5 1.8 2.3-.7 2.3 0 1.2 .4 3.4-.4 1.2 .7 0 1.3-.5 1-.7 .8-1.1-.1-.2 1.6-1 .3-1.1-.7-.9 .4 1.1 3.5-.2 3.2-2.3 4.1-2.4 2-1.1 .2-4.7-1-2.4-2.7 .1-1.2 1.2 1.2 1.1-.7 .4-1.6-1.7-3.5 1.1-2.3-.2-1.2 .6-1.1 .3-2.4-1.3-1.1-.2-1.2M433.6 164.8l-.3 .5 .3 .6 .4-.6-.4-.5M398.9 168.7l-.5 .1 .5 .4 0-.5M416.4 174.6l1-.2 1.2 .5 1.1-.5 2.8 .2 .3 2.3 1.6 .4 3.7 3.1-.2 2.1-2.8-.9-.7-1.3-1.2 1.6-.7 2-2 1.1-1.9 3.2-1.2-.5-4.2-3.8-2.7-1.9-.6-1.6 1.4-2.3 2.1-1.2 .6-.8 1.3 .8 .8-1.2 .3-1.1M436 178.1l1.1 .3 1.2 1.9 1.1 .6 .7-.5-.2-1.2 .7-.4 2 .4-.8 2.4-1.2 .2-1.2 1.2-1.1 .4-1.9-1.8-.4-1.3-1.6-1.1 .4-.6 1.2-.5M458 177.6l-1.2 .5 .3 2.3 .9 1.5 1.1 .3 1.2-1.8 1.1-.7 0-1.1-3.4-1M382.3 182.7l1.6-.8 3.4 1.2 1.8 1.9 .3 2.4-.2 1.1-.7 1.2-1.4 1.2-4.4 1.5-1.2 0-1.4-1.5-.5-3.5 1.4-3.5 .5-.9 .8-.3M402.6 183.9l.9-.7 2.4 .8 2.3-.9 1.1 .8 .2 1.1-1.3 4-2.3-1-2.4 .1-1.1 1-.6-.6-.2-1.1 1-3.5M450.1 189.7l.9-.7 1.2-.1 1.1 .5 1.1 1.5 .1 3.4-.3 1.2-3.2 1.7-2.3-.4-1.8-1.3-.5-1.2 .2-2.3 2.1-1.9 1.4-.4M389.6 190.9l1.2-.4 3.5 2.9 .9 2.1-.9 2.2-3.5 .4-1.6-1.4-.8-1.2 .1-2.3 1.1-2.3M401 204.8l1.4-.3 2.3 .9 .6 .6 1.1 2.3-.5 2.3-1.2 1.1-2.3-.2-2.5-2-.6-1.2 0-1.2 .8-1.5 .9-.8M469.8 213l.9-.8 2.3 .8-.7 1.1-1.6 .6-.7-.6-.2-1.1M418.7 217.6l1-.6 1.2 .2 1.1 1.6-.4 1.1-.7 .7-1.2 .2-1.1-.5-.4-.4-.2-1.1 .7-1.2M351.8 224.6l.8-.5 2.3 .7 .7 .9-.1 1.2-.6 .8-1.1 .5-1.2-.3-1.4-2.2 .6-1.1M434.1 230.4l.7-.3 1.2 .3 0 1.3-1.2 1.1-1.2-1.2 .5-1.2M452.8 242l.5-.4 1.3 .4-1.8 0M379.1 247.8l1.5 0 .5 1.2-1.9 .7-.1-1.9"/><path d="M501.4 35l1.7-1 2.3 1 1.2 1.1 .4 1.3-1.4 2.3-2.5 .6-1.2-.6-.9-1.2-.2-1.1 .6-2.4M513.4 44.3l1.5 0 .9 1.2 0 1.5-1.1 1.7-1.2 .1-1.1-2.1 1-2.4M452.7 73.4l2.9-.7 3.5 .4 1.8 1.5 .5 1.1-.4 1.2-1.9 1.6-2.3 .6-3.5-.4-1.8-1.8-.4-1.2 1.6-2.3M496.8 74.6l.5-.7 2.3-.4 1.2 1 .4 1.2-.4 1.5-1.2 1-2.3-.7-.8-1.8 .3-1.1M472.3 82.7l1.9-1 1.1 0 1.2 .6 .8 1.6-1.3 2.3-.7 .5-2.3 .4-1.5-.9-.4-1.2 1.2-2.3M480.2 97.8l2.1-.5 3.6 1.7 .5 1.2-.1 1.1-.5 1.2-1.2 .9-2.3 0-2.3-2.1-.6-1.1-.1-1.2 .9-1.2M489.8 97.8l1.7-.3 2 1.5 .2 1.2-2.2 2.9-2.3-.2-1.1-1.6-.3-1.1 .4-1.2 1.6-1.2M445.3 102.5l2.2-.4 5.3 2.7 2.3 3.5 1 2.3-.5 1.2-1.1 .8-1.2 .1-1.1-.1-2.3-1.2-1.2 .1-.6 1.4-.1 3.5-.5 .5-2.3 .3-1.1-.1-.6-.7 .2-1.1-1-2.4 .4-1.1-1.4-2.1-.1-1.4 .5-2.3 2-2.7 1.2-.8M432.2 110.6l2.6-.6 .8 .6 .6 2.3-1.1 1.2-.3 2.3-1.7-2.3-1.3-1.2-.2-1.1 .6-1.2M490.8 112.9l.7-.2 1.4 .2 1.1 1.2 .3 1.2-.5 1.2-2.3 1.6-1.1-.5-1.5-2.3 .3-1.8 1.6-.6M435.6 119.9l3.8-1 5.8-.1 2.3 .4 .6 .7 4.1 1.8 2.3-.3 2.3 .7 1.2-.2 .8 1.5 2.6 2.2 2.3 .4 2.4 1.5 .8 1.7-.7 2.4 .2 1.1 3.1 1.4 1.1-2.5-.4-2.4 .5-.6 3.5-.3 1.1 .2 3.5 1.8 3.5 .2 2.6 2.2 .2 1.2-1 2.3 .5 1.5 1.1 1 .5-.2 .7-.6 .3-1.7 .9-.9 1.1 1.6 .1 2.8-2.4 3.5-.1 1.1 2.4 .6 .7 .6 .4 1.2-.5 4.6-3.4 3.5-.6 2.3-.9 1.2-2.6 2.2-3.5 1.4-1.2 .2-8.1-1-2.3 .7-1.1-.1-4.7-2.5-1.1 0-5.6 2.6-.7 1.1 .5 .6 4.3 .6 1.5 1.2 4.6-1.7 1.8 .5-.1 1.2-2.1 1.1-.7 1.2-.5 2.3 .4 .7 .2 1.7-2.7 1.1-.9 3.6-1.5-.1-1.6-1.2 .2-2.3 .6-1.1 1.3 0-.2-.7-1.1 .4-.5-.9-1.9-.6-2.3 0-.8-.6-.5-1.1 .2-2.3-2.3 .3-1.2 1.7-1.2-.8-1.1 1.1-2.3-.3-1.2-.8-2.3 .5-3.5-.3-2-1.5 0-1.1-1.5-1.8-.7-1.7-1.6-.9-2.3 .6-4.6-1.4-2.3 0-3.1 2.8-.3 3.5-1.3 1.6-2.3 .1-3.5-.8-1.1-.9 .2-2.3-.7-3.5 .5-.9 1.1 .7 1.2-.5 1.2 .3 .1 1.6 1 1 1.2 .4 2.3-1.4-.3-1.2-2.2-2.3 1.1-3.5-.5-2.3-1.6-.7-3.5 .1-1.2 .6 .1 3.6-1.2 .5-1.5-.6-1.4-1.2 .5-1.2 1.4-1.1-.1-.6-.4-.6-3.1-.9-.5-1.4 .5-2.3-1.2-1.9-1.1-1-.9 .5-1.4 3.4-.3 1.3 .3 1.6 .3 .7 2 1.2 1.3 0 1.8 2.3-2 1.7-1.1 .3-2.3 1.4-.9 2.4-1.4 2-2.4-.6-.8-1.4-.3-3.1-1.4-1.5 .4-1.2 1-.4 .3-1.9-1.5-3.5 1.9-1.2 .4-1.1-.8-2.4 .8-.7 1.5-.4 .3-2.3-.6-1.8-1.1 .6-1.2 1.2-1.2 2.2-.7-2.2-2.8-.3-.9-.9 0-1.2 1.3-2.3 .8-.6 1.2-.2 1.1-1.7 2.6 1.3 .9 .9 1.2-.4 2.3 .4 1.1-.2 3.5 3.3 1.2-.5 1.1 .3 1.2-.3 1.1-.7 2.3-2.9 3.5-1.3 2.3-1.7 2.3-4.4 3.5-1.5 1.2 .3 1.1-.4 .7-1.3-.1-1.2 .6-.8 2.3-.2 2.3 .8 1.2 0 1.5-.9 1.6-2.4M492.9 125.7l.9-.5 2.4 .6 1.3 1.1 .7 1.2 .2 1.1-.5 1.2-1.7 1.6-1.2 .1-1.8-.5-1.4-1.2-.5-2.3 .4-1.2 1.2-1.2M423.2 131.1l-.7 .5-.4 1.1 1.1 1.1 .6-2.2-.6-.5M480 132.1l-.9 .6-.2 1.2 1.1 1.3 1.1-.2 1.3-1.1-.4-1.2-.9-.5-1.1-.1M468.4 137.2l-.7 2.5 .7 1.4 1.1 .4 1.2-1.1 .5-1.9-.5-1.1-1.2-1.1-1.1 .9M389.2 143.2l.4-.3 .3 .3-.3 .7-.4-.7M389.1 145.5l.5-.8 .7 .8-.7 .6-.5-.6M474.2 145.5l-2.4 2.3-.5 1.2 1.7 .9 2.3 .4 2.3 2.1 1.2-.7 1-1.5-.7-1.2-3.8-3.3-1.1-.2M371.9 149l2.7-1 1.2 .4 2.3 5.2 0 1.4-.7 1-1.6 .7-2.4 .1-1.1-.5-1.5-1.5-1-2.3 .1-1.2 .4-1.1 1.6-1.2M411.6 160.8l-.7 2.1 2 0-.1-1.4-1.2-.7M390.7 164.1l5.9 4.2 2.3 2.6 1 2.5-.2 2.3-1.9 3.7-1.2 1.3-2.3 1.4-2.8-.5-1.3-1.2 .4-3.5-1.2-3.5 1.1-3.5 1-1.1 .6-2.4-1.3-1.1-.1-1.2M400.7 165.3l3.1 0-.3 .3-1.1 0-.8 .8-.4 1.6-1.1 .1-.5-.5-.1-1.2 1.2-1.1M426.6 165.3l1.3-1.2 2.3 1 1.6 .2 1.4 1.1-.1 1.2-1.8 2.4-1.1 .4-1-.5-2.9-3.5 .3-1.1M417.4 175.7l1.2 .3 1.1-.8 1 .5 .3 2.4 2.2 .3 .8 .8-1.3 1.2-.6 2.5-1 1-1.4 .8-1.1 .4-1.2-.4-1.1 .7-1.2-.3-1.1-1.4-3.1-2.1-.3-1.2 1-2 2.4-1.1 1.1 1 3.3-.2-1-.5-.2-.7 .2-1.2M452.9 176.9l1.6 .1 1.1-.8 .5 .7 .2 3.5 .5 1.4 .9 .9-.1 1.2-2.3 2.3-.8 .7-1.2 .1-1.1-.3-2.4-1.7-.5-2.3 .6-1.1 .1-2.4 .5-1.1 .5-.8 1.9-.4M462.5 178.1l1.5 0 0 1.1 1.6 1.2-.7 1.2-1.2 .7-1.1 .1-.6-.8 .5-3.5M437.1 180.4l0-.5 0 .5M382 183.9l1.9-.5 1.1 .2 1.2 .2 1.6 1.2 .5 1.2-.2 2.3-.6 1.2-1.3 1-3.5 1-1.2-.2-.5-.6-.9-2.4 0-1.1 1-2.4 .9-1.1M407.9 183.9l.3 0 .7 1.1-.7 2.6-3.5-.7-.9-.7-.1-1.2 1-.5 1.2 0 2-.6M450.8 189.7l1.4-.3 1.4 1.5 .3 1.1-.1 2.3-.5 1.2-1.1 .7-2.3 .4-2.2-1.1-.4-1.2 .1-1.1 1.1-2.3 2.3-1.2M390.4 192l.4-.3 1.2 .6 2.3 1.9 .3 1.3-.5 1.2-1 .6-2.3 .3-1-.9-.8-1.2 .2-2.3 1.2-1.2M400.6 206l1.8-.9 2.3 1 1.1 2.2-1.1 2.5-2.3 .1-1.9-1.4-.8-1.2 0-1.2 .9-1.1M419.4 218.8l.3-1 1.2 .6 0 1.4-1.2 .1-.3-1.1M351.9 225.7l.7-.9 2.4 .9-.1 .6-1.1 .6-1.2 0-.7-1.2"/><path d="M502.2 35l.9-.4 2.3 .9 .7 .7 .4 1.2-1.1 1.9-1.1 .6-1.2-.1-1.6-1.3-.3-1.1 1-2.4M453.4 73.4l2.2-.5 3.5 .5 1.7 2.3-.6 1.2-1.4 1.2-2 .6-2.3-.2-1.3-.4-1.6-2.4 1.8-2.3M497.3 74.6l1.2-.6 1.1 0 .6 .6 .5 1.1-.4 1.2-.7 .7-2.4-.7-.3-1.2 .4-1.1M473.3 82.7l.9-.4 1.1 0 1.2 1.4-1.2 2.6-2.3 .2-.5-.3-.6-1.2 1.4-2.3M481.5 97.8l.8 0 2.3 .9 1.1 1.1 .1 1.5-1.2 1.6-1.2 .2-1.1-.4-2.3-2.5-.2-1.2 1.7-1.2M488.9 99l1.5-.9 1.1 0 1.2 .9 .5 1.2-1.7 2.5-1.1 0-1.2-.4-.8-2.1 .5-1.2M444.9 103.6l1.5-.7 1.1-.1 3 2 1.7 .3 2.5 3.2 .4 2.3-.6 1.1-2.3 .2-1.2-.5-1.4-.8-.9-1.6-.8 .5 .4 1.1-1.9 2.8-.8-1.6-1.5-1-1.5-2.5-.1-1.2 2.4-3.5M433.6 110.6l1.3 0 .5 2.3-.6 .8-1.2-.1-1.2-.7-.1-1.1 1.3-1.2M489.9 114.1l1.6-.8 1.2 .1 .7 .7 .3 1.2-.5 1.1-1.7 1.1-1.1-.8-.8-1.4 .3-1.2M436.9 119.9l2.5-.7 5.8 0 7 3 2.3-.3 2.3 .8 4.6 3.2 2.3 .6 2.2 1.6 .6 1.1-.6 2.4 .1 1.1 3.5 2.3-1.9 3.5-.1 1.2 .4 1.2 1.6 1 1.2-.6 .8-2.8-.3-1.1-1.2-1.2-.4-1.2 1.5-3.4 .3-2.4 2.8-.5 1.1 .3 2.4 1.4 1 1.2-.2 2.3 .7 1.1 .8 .5 1.9-.5 1.5-1 .7 3.4 1.6 1.6 1.5-.5 .9-2.2 .9 2.2-.1 1.2-2.5 3.5-.9 2.3 .2 .5 3.5-.2 .7 2-.3 2.4-.4 1.2-3.5 3.4-.3 2.3-.9 1.2-3.1 2.3-3.8 1.2-8.1-1-2.3 .6-4.6-2.4-1.2-.4-1.1 .3-5.8 2.7-.9 1.3 .9 1 3 .2 2.4 2.3-.8 .6-1.1 2.4-1.2-.2-2.3 .4-1.2-.2-.5-1.8-.1-2.3-.5-.7-2.3 .3-2.4 1.4-3.4 .4-1.2-.4-3 .1-.5 .1-.4 1.1-1.8 0-1.3-1.2 .1-1.1-3.5-4.1-1.2-.5-2.3 .2-3.5-.6-1.1-.6-7-.9-.4-.5-.2-1.2 .5-1.1 0-2.4-.3-1.1-.7-.6-2.3-.4-4.7 .4-1.1-1.7-1.8 0-1.3-1.2 .2-2.3-.5-1.2-1.8-2.3-.4-1.2 1-1.1 2.3-1.8 1.1 0 2.3-1 2.3-2.9 3.5-.9 2.3-2 2.3-4.2 2.4-1.4 3.4-.4 .6-.6 .9-2.3 2-.7 2.3 .8 1.2 0 1.8-1.2 1.7-2 .9-.4M492.3 126.9l1.5-1.2 2.4 .5 1.6 1.9 .2 1.1-.5 1.2-1.3 1.1-1.2 .2-2.3-.9-.9-1.6 0-1.1 .5-1.2M422.1 131.4l-.4 1.3 .4 1.7 1.1 .1 1.2-2.9-1.2-.9-1.1 .7M481.8 131.6l.6 0-.6 0M392.6 136.2l.5-.5 1.2 .1 .4 .4 .5 1.2-.8 2.3-1.3 .6-3.2-.6 .9-2.8 1.2-.1 .6-.6M398 138.5l.9-1 1.2-.1 1 2.3-.4 1.2 .5 1.1-1.8 1.2-.3 1.1 .2 1.2-.4 .6-1.1 .3-1.7-.9 2.5-2.3-.5-1.2-.1-3.5M474.2 143.8l-.6 1.7-.9 1.2-1.6 1.1-.4 1.2 1.2 1 3.4 .8 .6 .5 .6 1.9 1.1-.1 1.2-.6 1.9-2.3-3.9-3.5-1.5-2-1.1-.9M373.3 149l1.3-.4 1.2 .8 1.7 4.2-.6 1.6-.9 .8-1.4 .4-2.3-.6-2-3.3 .6-2.3 1.4-1 1-.2M394.7 149l.7-.7 1.2-.3 1.2 .6 1.1 .8 .7 1.9 2 1.2 .7 1.1-.1 1.2-1 1.7-1.1 .6-1.2 3.4-1.1 1.2-2.4-.3-.4-.8-.2-3.5 .4-4.6-.5-3.5M408.1 153.6l1.2-.9 .5 .9 0 2.4-1.1 0-1-1.2 .4-1.2M403.1 154.8l.4-1 .2 1-.6 0M419.6 160.6l.1-.8 .2 .8-.3 0M413.9 164.1l3.7 0-.1 1.2 .5 1.1-.5 1.2-2.4 .2-3.8-1.4 .3-.6 2.1-.5 .2-1.2M429.6 166.4l1.7-.5 1.3 .5 .1 1.2-.7 1.2-1.8 1.2-1.1-1.2 .5-2.4M460.4 166.4l1-.6 .9 .6-.9 1.4-1-1.4M392.9 167.6l.2-.8 2.2 2 1.3 .4 2.3 2.3 .7 1.9 0 1.2-2.4 4.6-2.9 2.1-2.3-.5-.5-.4-.6-1.2 0-3.5-.5-1.1 .2-2.3 2.1-3.5 .2-1.2M459.4 169.9l.9-.7 1.3 .7-1.3 .8-.9-.8M411.6 179.2l1.2-.9 1.2-.2 1.1 .9 1.2 .1 1.1-.3 1.2 .8 1.1-1.2 2.3 .8-.2 2.4-.9 1.6-3.5 0-1.1 .9-1.2 .1-3.2-2.6-.3-2.4M450.8 179.2l1.4-.9 1.1-.1 1.2 .1 .8 .9 1.5 3.5-.2 1.2-2.1 2.5-1.2 .2-2.8-1.6-.5-2.3 .8-3.5M381.8 185l.9-.6 1.2-.2 2.8 .8 .8 1.2-.2 2.3-.6 1.2-2.8 1.2-1.2 .1-1.2-.5-.9-2 .1-1.1 1.1-2.4M407 185M449.7 190.9l1.3-.9 1.2 0 .7 .9 .5 2.3-.2 1.1-1 1.5-2.3 .4-1.6-.7-.3-2.3 .7-1.7 1-.6M390.1 193.2l.7-.7 1.2 .5 1.7 1.3 .3 1.2-.9 1-2.3 .6-1.3-1.6 .6-2.3M401.4 206l1-.4 2.3 1.5 .5 1.2-.5 1.3-2.3 .7-1.3-.8-.9-1.2 0-1.2 1.2-1.1"/><path d="M502 36.2l1.1-1.1 2.3 .9 .7 1.4-.5 1.1-1.3 1-1.2-.1-1-.9-.5-1.1 .4-1.2M454.4 73.4l2.4-.2 2.3 .7 1 1.8-.5 1.2-2.8 1.3-2.3-.1-1.2-.5-1.1-1.9 .5-1.1 1.7-1.2M497.3 75.7l1.2-1 1.1-.1 .4 1.1-.4 1.3-1.1 0-1.2-1.3M473.2 83.9l1-.9 1.1 .2 .5 .7-.5 1.6-2.3 .2-.4-.7 .6-1.1M480.4 99l.7-.7 1.2 0 2.1 .7 .9 1.2 0 1.1-.7 1.1-1.5 .1-2-1.4-.7-.9 0-1.2M489.7 99l1.8-.4 .6 .4 .5 1.2-1.1 1.9-1.1 .1-1.2-.9-.3-1.1 .8-1.2M446.1 103.6l1.4-.3 .6 .3 1.2 1.2 .6 1.2 1.1-.4 1.2 .3 1.9 2.4 .4 1.2-.4 1.1-1.9 .7-1.2-.5-1.4-1.3-.9-1.9-3.5 2.3-.4-.4-1.1-1.2-.1-1.2 2.5-3.5M491.2 114.1l1.5 0 .2 1.2-.4 1.1-1 .5-1.3-1.6 1-1.2M437.8 119.9l2.8-.6 4.6 .3 2.3 .6 4.7 2.2 3.4 .2 2.4 1.1 3.4 2.5 3.5 1.4 1.1 1.6-.2 3.5 3 2.3-.2 1.2-1.3 2.3-.1 1.2 .4 1.2 1.9 1.5 1.3-.4 1.1-3.5-.2-1.1-1.7-2.4 1.7-3.4 .2-1.3 2-1.1 1.4 .5 2.2 1.9 .5 2.3 .8 1.3 1.2 .6 2.3-.5 1.1 .8 1.2 2.4 1.1 .8 1.2 0 1.2-1.3 .3 1.7-4.6 7 .8 .9 3.5-1.1 1.1 .2 .2 2.3-.9 2.3-3.1 2.3-.7 1.2 .3 2.3-.8 1.2-3.1 2.2-3.5 1-8.1-1.1-2.3 .5-5.8-2.8-5.8 2.6-1.6 1.1-1.8 2.2-2.3 .3-2.4 1.5-5.8 .1-4.6-1.1-2.3-1.4-1.3-1.6-1.7-1.2-6.3-.6-4.6-2.6-3.1-2.6-.5-2.3-1-.9-5.8-.4-2.3-2.2-1.2 .3-1.1-1.5 .2-1.1-.5-1.2-1.8-2.3-.3-1.2 1-1.1 1.4-1.2 3.4-1.4 2.3-2.8 1.2-.4 2.3 .2 3.2-3.7 1.4-3.1 1.2-.8 2.3-1 1.2 .2 1.1-.3 1-.9 1.4-2.2 1.1-.5 2.3 .8 1.2-.1 1.1-.6 2.4-2.3 1.8-.9M492.9 126.9l.9-.7 1.2 0 1.5 .7 .9 1.2 .2 1.1-.5 1.2-.9 .8-1.2 .2-2.2-1-.6-1.2 0-1.1 .7-1.2M423.2 130.3l-1.6 1.3-.3 1.1 0 2.3 .8 .6 1.1-.5 1.3-2.4-.1-1.7-1.2-.7M398.8 140.9l.1 1.1-.1-1.1M475.3 140.5l-2 2.7-.3 2.3-.8 1.2-1.8 1.1-.2 1.2 1 1.2 3 .4 1.1 .6 1.2 3.3 2.3-1.2 2.1-2 .7-1.1-.5-1.2-2.3-1.1-2.7-2.4-.6-2.3 2-2.3-2.2-.4M371.5 150.2l.8-.6 2.3-.5 1.1 1.1 1.3 3.4-1.2 1.8-2.4 .5-1.5-1.1-1.2-2.3 .8-2.3M397.1 150.2l1 0 3.4 3.4 0 1.2-1.4 1.3-1.2 3.5-1.1 1.6-2.5-.6 .1-2.2 1.2-2.5 .5-5.7M453.8 165.3l1.8-1 1.2 .4 1.2 .7 .4 1-.3 1.2-2.5 .6-2.3-.6 0-1.8 .5-.5M437.1 166.4M430 168.8l1.3-.4 .1 .4-1.4 0M392.9 169.9l1.4-.7 2.3 .5 2.3 2.4 .4 1.3 0 1.2-1.9 3.5-.9 1.1-2.2 1.4-2.3-.7-.8-1.8-.1-4.7 1.8-3.5M413 179.2l1-.5 .7 .5 .4 1.3 1.2-.1 1.1-.9 1.2 1.2 1.1-1 1.2 .3 .2 1.6-.2 .4-1.2 .4-1.1-.3-3.5 1-2-1.5-.1-2.4M453 179.2l1.5 .3 1.7 3.2-.2 1.2-1.5 2-1.2 .2-2.3-1.3-.6-2.1 .6-2 1.2-1.2 .8-.3M381.6 186.2l1.1-1 3.5 .3 .5 .7 0 2.3-.7 1.2-1 .5-2.3 .2-1-.7-.6-1.2 .5-2.3M450.6 190.9l.4-.4 1.2 .2 .9 2.5-.9 2-1.2 .6-1.1 0-1.2-.8-.1-1.8 .6-1.2 1.4-1.1M390.4 194.3l.4-.8 1.2 .4 .8 .4 .5 1.2-2.5 .8-.5-.8 .1-1.2M400.9 207.1l1.5-.9 1.5 .9 .7 1.2-2.2 1.5-1.5-1.5 0-1.2"/><path d="M502.6 36.2l.5-.5 1.9 .5 .6 1.2-.6 1.1-.7 .5-1.7-.5-.5-1.1 .5-1.2M455.6 73.4l2.4 .3 1.1 .8 .5 1.2-.7 1.2-2.1 .9-1.2 .1-2.3-.8-.7-1.4 .6-1.1 2.4-1.2M480.9 99l1.4-.1 2.3 1.2 .2 1.2-.2 .4-1.2 .1-2.3-1.3-.2-1.5M489.8 100.2l.6-.8 1.1 0 .3 .8-.3 .9-1.1 .3-.6-1.2M446.9 104.8l.6-.4 .5 .4 .2 1.2-.7 1-.6-2.2M445.2 106l.9 1.1-.9 1.4-.3-1.4 .3-1.1M449.7 107.1l1.3-.8 1.2 .5 1.4 1.5-.3 1.5-1.1 .9-1.2-.4-1.5-2 .2-1.2M438.5 119.9l2.1-.3 2.3 .5 2.3-.1 2.3 .5 4.7 2.1 2.3 0 3.5 1.4 3.4 2.5 2.3 .7 1.2 .8 .9 1.2-.2 3.5 2.7 2.3 0 1.2-1.2 2.3 .1 2.2 2.3 2.2 1.2 .1 .9-1 .3-2.3 .8-1.2-.2-1.1-1.4-1.2-.6-1.2 .3-1.1 2.2-3.6 1.2-.3 2.3 1.4 1.7 3.6 .6 .6 1.2 .6 2.3-.5 .6 .5 1.3 2.3 1.8 1.2 1 1.2-4.5 6.9 .9 .6 1.2 0 3.5-1.1 .8 .5 0 1.2-1.4 2.3-1.8 1.2-2.3 .4-.6 .7 1.7 2.4 .1 1.1-.8 1.2-2.7 1.9-3.5 1-2.3-.6-2.3 .1-3.5-.7-2.3 .5-2.3-1-2.3-1.8-1.2 0-2.3 1.4-4.6 2.1-2.3 2.5-3.3 .4-1.4 1.2-3.4 .4-2.4-.3-5.7-1.7-3.7-3.1-7-1.1-1.1-1.2-5.6-3.1-.7-1.6-.1-1.1-1.5-1.2-4.7-.3-1.8-.8-.5-1.4-1.1-1.6-1.2-.5-.3-1.2-2.2-2.3-.3-1.2 .9-1.1 4.2-2.3 2.3-2.8 1.2-.2 2.3 .6 2.9-3.5 1.7-3.9 1.2-.8 2.3-.9 2.3-.2 1.3-1.2 1.1-1.9 1.1-.5 2.3 .7 1.2 0 1.1-.6 2.4-2.2 2.5-1.3M493.5 126.9l1.5-.4 1.2 .5 .8 1.1 .2 1.1-1 1.7-1.2 .2-1.2-.5-1.1-1.2 0-1.3 .8-1.2M423.2 130l-2 1.6-.7 3.4 0 1.2 .4 .8 2.3-1.5 1.2-1.8 .4-2.1-.4-1.1-1.2-.5M475.3 139.7l-1.8 2.3-1.5 1.2 .5 2.3-.6 .9-2 1.4-.2 1.2 1 1.4 3.5 .5 .7 .4 .5 1.2-.5 3.5 .4 1.3 2.3-2.5 1.2 .2 1.2 1.2 .4-.2 1-1.2-.8-1.2 .2-1.1 1.3-1.2 .3-2.3-.1-.5-2.3-.3-1.2-.6-2.3-2.1-.5-1.2 .1-1.1 1.6-1.2 .8-1.1-3.2-1.2M408.2 145.4l0 .3 0-.3M372 150.2l2.6-.6 .6 .6 1.3 3.4-.7 1-1.2 .7-1.2 0-1.1-.7-1.1-2.1 .8-2.3M396.9 159.5l.9-1.1 .5 1.1-.5 1.2-.5-.1-.4-1.1M392.9 171.1l1.4-.8 2.3 .2 2.4 2.9 0 1.2-2.4 4-2.3 1.4-2.3-1.1-.3-.8-.2-3.5 1.4-3.5M417.4 180.4M452.6 180.4l.7-.4 1.2 .8 1.2 1.9-.2 1.2-1 1.4-1.2 .4-1.2-.7-1.1-1.1-.2-1.2 .5-1.1 1.3-1.2M382.3 186.2l1.6-.5 1.8 .5 .5 .9 0 1.4-.9 1.2-1.4 .4-1.5-.4-.7-1.2 .6-2.3M450.2 192l.8-.8 1.2 .5 .5 1.5-.5 1.3-1.2 .7-1.1 .2-.9-1.1 .2-1.1 1-1.2M402.1 207.1l.6 0 1 1.2-1.3 .7-.6-.7 .3-1.2"/><path d="M503.2 36.2l1.2 0 .3 1.2-.4 1-1.2-.4 .1-1.8M453.7 74.6l1.9-.8 1.2 0 1.8 .8 .5 1.1-1.1 1.3-2.4 .5-1.1-.3-1.2-.9-.3-.6 .7-1.1M450.2 108.3l.8-1.1 1.2 .4 .7 .7-.1 1.2-.6 .5-1.2-.2-.8-1.5M439.3 119.9l1.3-.1 2.3 .7 3.5-.1 5.8 2.4 2.3 0 3.5 1.6 3.4 2.4 3.2 1.3 .9 1.1-.1 3.5 2.6 2.3 .1 1.2-1.1 2.3 .1 2.4 2.4 2.6 2.4 1.5 0 .7-1.2 .4-1.2 1.2 0 2.4 1.2 1.2 3.5 .3 .9 1.3-.3 2.3-.8 1.2 0 1.1 1.3 1.2 1.2-.7 1.1-1.8 2.4 .9 2.3-1.6 1.1 .3 .5 .6 .3 1.1-.7 1.2-2.4 1.6-3.5 .9-2.3-1-2.3 .5-3.5-.6-2.3 .4-1.7-.6-2.9-2.5-1.2 .2-2.3 1.8-4.1 1.6-1.6 1.2-1.2 1.6-3.5 .5-3.5 1.3-3.5-.1-5.7-1.8-3.5-2.8-7-1.3-.7-.9-6-3.5-.6-1.2 .1-1.1-.8-1.2-5.9-.5-1.3-.6-1.3-3.5-.2-2.4-2.9-.6-.6-.5-.4-1.2 .7-1.1 3.7-2.1 2.3-2.7 1.2-.1 2.3 .7 1.2-.5 1-2.3 2-2.3 .4-2.4 1.2-.9 1.2-.6 3.4-.5 1.6-1.5 .8-1.5 1.1-.6 2.3 .6 1.2 0 4.6-3.4 2.2-.9M494.6 126.9l1.6 .5 .5 .7 .2 1.1-.7 1.3-1.2 .3-2-1.6 .1-1.1 .7-1 .8-.2M422.1 130.3l-1.5 1.3-.9 4.6 .1 1.2 1.1 1 3.5-4.2 .7-2.6-.7-1.5-1.2-.4-1.1 .6M472.8 131.6l1.4-.9 1.1 .5 1.2 1.2 1.2 2.6 2.3 1.5 2.3-.3 1.6 2.3 2.5 2.4-4.1 6.3-1.2 .6-1.1 0-1.2-.5-2-1.8-.4-1.2 .3-1.1 1.8-1.2 .9-1.1-2.9-1.3-1.1-1.1-.4-1.1-.8-.4-1.2 .1-1.3-.9-.8-1.2 .2-1.1 1.7-2.3M472.5 139.7l.5-.7 1.1 .7-.4 1.2-.7 .8-.9-.8 .4-1.2M372.8 150.2l1.8-.1 1.3 2.4 0 1.1-1.3 1.2-1.2 0-1.1-.8-.7-1.5 .1-1.2 1.1-1.1M483.2 150.2l.2-.5 1.2-.4 2.3 .9-2.3 1-1.2-.4-.2-.6M422.1 153.4l-.4 .2 .4 .7 .4-.7-.4-.2M392.8 172.3l.3-.6 1.2-.5 2.3 .2 1.7 2 .2 1.2-1.9 3.4-1.2 1-1.1 .3-2.1-1.2-.2-3.5 .8-2.3M452.1 181.6l1.2-.9 1.2 .9 .7 1.1-.1 1.2-.6 .8-1.2 .5-1.6-1.3-.5-1.2 .9-1.1M383.8 186.2l1.8 1.2 0 1.1-.6 .7-1.1 .4-1.2-.7-.3-1.5 .3-.6 1.1-.6M449.8 193.2l1.2-1 1.2 .5 .2 .5-.2 .5-2.3 .8-.1-1.3"/><path d="M454.3 74.6l2.5-.4 1.2 .4 .6 1.1-1.3 1.2-1.7 .3-.9-.3-1.2-1.2 .8-1.1M451 108.3M437.1 121.1l2.3-1 1.2 0 2.3 .8 3.5-.3 5.8 2.4 2.3 .1 1.1 .4 3.5 1.9 2.3 1.7 2.8 1 1 1.1 0 3.5 2.4 2.3 .2 1.2-1 3.5 .4 1.7 1.8 1.8 .5 1.1-.4 4.7 .2 1.2 1.4 1.3 2.8-.2 .7 .2 .6 1-.1 1.1-1.3 2.4-.2 1.1 1.3 1.2 .3 1.2-1.8 .4-3.5-.6-2.3 .5-2.6-1.5-.9-1.5-1.1-.3-1.2 .4-2.3 1.9-4.5 1.8-2.4 2.4-8.1 1.9-2.4-.1-6.9-2.3-2.3-2.1-7-1.8-4-2.6 1.7-1.6 0-1.1-1.1-.6-1.2 .6 0 1.6-1.2 0-1.1-1.1 .6-2.5-.6-.5-5.8-.1-1.9-.5-1.2-2.4-.2-3.5-1.3-.8-2-.3-.7-1.2 .4-.6 3.4-2.3 2.3-2.5 1.2-.1 2.3 .6 1.2-.4 .7-.5 .4-1.5 1.2-1.2 .6 .4 0 3.5 .5 1.1 1.2 1.5 1.3-2.6 2.2-2.8 .9-3-.9-1.9-1.2-.3-2.3 1.5-1.2 .1 .4-1.8 2-1.2 3.4-.6 1.2-.9 1.2-2 1.1-.7 2.3 .7 1.2-.1 4.6-3.3M493.5 128.1l.3-.5 2.4 .2 .5 1.4-.5 .9-1.2 .4-1.6-1.3 .1-1.1M473.8 131.6l.4-.2 1.1 .5 .8 .8 .9 2.3 1.8 1.4 1.2 .6 2.3-.2 3.4 4.1-1.7 3.4-2.9 3.1-1.1 .1-1.2-.5-1.7-1.5-.4-1.2 .5-1.1 2.1-1.2 1.2-1.1-.5-.8-3.5-1-.6-.6-.6-2.2-2.3 .2-1.7-1.5 .1-1.1 .8-1.2 1.6-1.1M422.1 140.2l-.6 .7 .6 .9 0-1.6M473 140.9M372.1 151.3l1.3-.8 1.2 .2 .8 1.8-.1 1.1-.7 .7-1.2 0-1.5-1.8 .2-1.2M482.2 156l1.2 .2 .4 .9-.8 1.2-1.7 1.2-2.5 .8-1.2 0-.9-.8 .9-2.6 2.4 .4 2.2-1.3M393.7 172.3l.6-.4 2.3 .4 1.5 2.3-1 2.3-1.7 1.7-1.1 .2-1.2-.6-.6-1.3-.1-2.3 1.3-2.3M453 181.6l.3-.3 1.5 1.4-.3 1.4-1.2 .6-.9-.8-.7-1.2 1.3-1.1"/><path d="M454.3 75.7l1.3-.9 1.2-.1 1.3 1-2.5 .7-1.3-.7M437.6 121.1l1.8-.8 1.2 .1 2.3 .9 2.3-.7 1.2 .1 5.8 2.5 3.4 .5 3.5 1.9 2.3 1.9 2.3 .6 1.2 1.1 0 3.5 2.4 2.3 .3 1.2-1 3.5 .6 2 1.9 2.6-.1 5.9 .5 1 1.2 .8 2.3-.4 1.5 .9-.3 1.8-1.4 1.7-.3 1.1 1 1.2 0 1.2-4-.6-2.3 .5-1.1-.5-.9-.6-.3-1.2 .8-2.3-.8-.5-1.2 1.4-2.3 .9-2.3 2.1-4.8 1.9-2.1 2.2-8.1 1.7-2.4 0-5.7-1.7-3.5-2.5-5.8-1.6-2.9-1.6-1.5-1.1 1.3-1.2 .2-1.2-.8-1.1-2.1-.5-1.2-1.8-1.1-.6-.6 .6-1.7 .3-3.5 0-1.4-.3-1.3-2.4-.3-3.5-.5-.7-2.3-.9-.8-.7 1-1.1 2.1-1.5 2.3-2.3 3.5 .5 2.3-1.1 1.2 .4 .6 1.6 2.9 3.9 .5-1.5-.6-2.4 2.4-3.5 1.1-3.4-.3-1.2-1-1.2 .3-1.1 2.2-1.2 1.5-2.3 .8-.5 2.3 .6 1.2-.1 5.1-3.5M420.6 129.2l1.5-.5 .6 .5-1.8 1.2-.3-1.2M493.9 129.2l1.1-.7 1.2 0 .2 .7-.2 .4-1.2 .2-1.1-.6M472.6 132.7l1.6-.9 1.1 .6 .8 1.5-.1 1.1-3 1-1.1-.8-.1-1.3 .8-1.2M476.3 136.2l.2-.4 1.1 .1 2.4 1.5 2.3 .2 2.9 3.3-.3 1.1-1.2 2.3-2.6 2.7-1.1 .2-1.2-.5-1.4-1.2-.3-1.2 .7-1.1 3.8-2.3-.1-1.2-.4-.5-1.1-.3-2.4 .3-1.1-.6-.4-1.2 .2-1.2M373.8 151.3l.8 0 .4 1.2-.4 1.3-1.2 0-1.1-1.3 1.5-1.2M419.6 153.6l.1-.2-.1 .2M481.5 157.1l.8-.5 .9 .5-.9 1.3-2.3 1.2-2.3-.1 .3-1.2 3.5-1.2M393.8 173.4l.5-.5 1.1-.3 1.2 .4 1 1.6-.8 2.3-1.4 1.2-1.1 .1-1.4-1.3-.1-2.3 1-1.2M452.5 182.7l.8-.5 .7 .5-.4 1.2-.4 0-.7-1.2"/><path d="M438 121.1l1.4-.5 1.2 0 2.3 1 2.3-.7 2.3 .3 4.7 2.1 3.4 .6 3.5 2 2.3 2 2.3 .5 .8 .8 .2 3.5 2.4 2.3 .3 1.2-.9 3.5 .2 1.2 2 3.4-.1 5.9 .9 1.7 1.2 .7 2.3-.7 1.1 .6 0 1.1-1.8 2.4-.4 1.1 .5 1.2-.5 .3-4.7 .3-1.1-.5-.4-1.3 1-2.3-.6-1-1.2-.4-5.5 4.9-5.4 2.3-1.8 1.9-8.1 1.7-2.4 0-5.7-1.6-3.5-2.5-4.6-1.2-3.5-1.8-1.4-1.1 1.1-1.2 .1-1.2-1-1.4-2.3-1.1-1.2-2.4-1.1-.1-1.2 1.2-1.1 .5-3.5 0-1.2-.4-1.2-2.1-.3-3.5-.8-1.2-2.1-1.1 .6-1.1 3.8-3.4 3.5 .5 2.3-.7 1.2 .7 3.5 4.8 .7-.8 .2-1.1-.7-2.4 2.1-3.2 1.3-3.7-.2-1.2-.7-1.2 .4-1.1 1.8-1.2 2-2.5 2.3 .5 1.2-.2 5.5-3.6M473 132.7l1.2-.4 .8 .4 .6 1.2-.6 1.1-2 .6-.7-.6-.1-1.1 .8-1.2M476.6 137.4l1-.9 1.4 .9 .1 1.1-1.5 .3-.5-.3-.5-1.1M482.5 140.9l.9-1 1.2 1-.7 2.3-1.6 2.4-1.2 1-1.1 .3-2.2-1.4-.4-1.2 .2-.4 4.9-3M395.1 173.4l1.5 .4 .5 .8-.5 2-1.2 .8-1.1-.1-1.2-1.6 .3-1.1 1.7-1.2"/><path d="M438.6 121.1l2-.2 2.3 1.1 2.3-.9 2.3 .3 4.7 2.1 3.4 .6 3.5 2 2.3 2.3 2.3 .4 .4 .4 .4 3.5 2.3 2.3 .4 1.2-.8 3.5 .6 2.3 1.3 2.3 .1 6.1 1.1 2.2 1.2 .6 2.3-.9 .4 .2 .2 1.1-1.9 2.4-1 2.1-3.9 .2-.3-1.2 .8-1.1 .1-1.2-1.3-1.6-1.2-.2-5.7 5.3-5.5 2.3-1.5 1.6-1.2 .6-6.9 1.2-2.4 0-5.7-1.5-3.5-2.5-4.6-1.4-3.1-1.5-1.1-1.1 .9-1.2 0-1.2-1.4-1.8-2.3-1.6-1.2-2.3-1.1-.2-1.2 1.4-2.1 1.1-2.5-.1-1.2-.6-.9-1.7-.2-3.5-.5-1.1-1.7-1.2 .2-1.1 3.1-2.9 3.5 .5 2.3-.6 1.2 .8 3.5 4.5 1.1-1.5-.6-3.2 1.8-3 1.5-3.9-.1-1.2-.6-1.2 .6-1.1 1.5-1.2 1.7-2.2 2.3 .4 1.2-.2 6.1-3.8M474.1 132.7l.9 1.2-.8 1.1-1.2 .1-.4-1.2 1.5-1.2M477.4 137.4l.5 0-.3 .4-.2-.4M482 142l1.4-.8 .4 .8-.3 1.2-1.6 2.3-.8 .7-1.1 .3-1.8-1-.4-1.2 1-.8 3.2-1.5M394.2 174.6l1.2-.5 1.2 .4 0 .6-1.2 .4-1.2-.9"/><path d="M439.3 121.1l1.3 .1 1.1 1 1.2 .1 2.3-1 2.3 .2 4.7 2.1 3.4 .7 3.5 2.1 2.3 2.6 2.4 .2 .6 3.5 2.2 2.3 .5 1.2-.9 3.5 .6 2.3 1.3 2.3-.2 5.9 .4 1.1 1.2 2.1 1.2 .4 2.3-.6 .1 .4-1.2 1.4-1.2 2-1.2 .5-2-.4 .5-2.3-1.9-2.1-1.2-.2-5.9 5.8-5.6 2.3-1.2 1.4-1.2 .6-6.9 1.2-2.4 0-5.7-1.5-3.5-2.5-4.6-1.4-2.6-1.3-.9-1.1 .7-1.2-.2-1.2-1.7-2.1-1.7-1.3-.6-1.5-1.2-1.3-1.1-.2-1 .6-.7 1.2-1.8 .9-2.3-.1-1.2-.8-.9-2.3-.2-3.5-1.1-1.2-.3-1.1 1.2-1.2 1.3-1.1 1.2 0 1.2 .7 1.1 0 2.3-.9 1.2 .8 3.5 4.5 1.1-1.2 .2-1.6-.5-2.4 3.2-6.9 0-1.2-.5-1.2 .5-1.1 2.9-2.9 3.5-.2 4.6-3 2.2-.9M473.1 133.9l1.1-.4 .2 .4-.2 .3-1.1-.3M480.5 143.2l1.8-.6 .5 .6-.4 1.1-1.3 1.5-1.1 .3-1.2-.4-.5-1.4 2.2-1.1"/><path d="M437 122.3l2.4-1 1.2 .3 1.1 .8 1.2 .1 2.3-1.1 2.3 .2 4.7 2.1 3.7 .9 3.6 2.3 1.9 2.8 1.2-.2 1 .9 .6 2.3 2.2 2.3 .5 1.2-.8 3.5 .5 2.3 1.3 2.3-.3 5.9 .5 2.3-.9 .4-1.1-.7-1.2 0-1.2 .8-5 5.3-5.4 2.2-2.3 1.9-8.1 1.4-6.9-1.6-3.5-2.5-6.7-2.6-.8-1.1 .6-1.2-.3-1.2-.9-1.3-2.4-2.1-1.1-2.6-1.2-.7-1.1-.2-1.2 .6-1.1 1.7-1.2 .6-2.3-.1-.8-.5-1.1-2.3 .1-3.5-.8-2.3 .3-.4 1.1-1 .7 .2-.5 1.2 1.3 1.1 3.2 1.4 .3-.2-.3-1.2-.8-1.1 .3-1.2 1.6-.7 2.3 2 2.4 3.2 1.1-1.1 .3-2.2-.3-2.4 3.1-6.9 .1-1.2-.4-1.2 .5-1.1 2.5-2.5 3.5-.4 4.5-2.9M478.8 144.3l2.3-.7 .7 .7-1 1.2-.8 .3-.7-.3-.5-1.2M468.9 154.8l.6-.5 1.4 .5-.5 1.2-.9 .6-.6-.6 0-1.2"/><path d="M437.5 122.3l1.9-.7 2.3 1.1 1.2 0 2.3-1.1 1.2-.1 5.8 2.3 3.4 .8 3.6 2.3 1.1 2.4 1.1 1.1 1.4 0 1.9 3.5 1.4 1.1 .6 1.2-.7 3.5 .3 2.3 1.3 2.3-.4 7.3-2.3 .3-.9 .6-5.5 5.8-5.2 2.1-2.3 1.8-8.1 1.4-6.9-1.6-3.5-2.4-6.1-2.5-.8-1.1 .4-1.2-.4-1.2-3.1-3.4-.8-2.4-.8-1-2.3-.8-1.2 .7-1.7 2.3-1.7 .5-1.2-.3-1.3-1.4-.5-2.3 .6-2.8 1.2-.3 3.5 1.6 1-.8-1-2.3 1.1-1.3 1.2 .6 1.1 1.2 2.4 4.1 1.1-1.3 .4-3.3-.2-2.4 3.1-6.9 .2-1.2-.4-1.2 .6-1.1 2.1-2.1 3.5-.6 5-3.1"/><path d="M438.1 122.3l1.3-.4 2.3 1 1.2-.1 2.3-1 1.2-.2 5.8 2.4 3.4 .8 3.3 2.1 .8 1.2 .6 1.9 1.1 .8 1.2 .1 4 5.3-.8 3.5 .3 2.3 1.3 2.3 .1 2.4-.7 3.5-.7 1-2.4 1.2-5.5 5.9-3.7 1.4-3.5 2.3-8.1 1.5-6.9-1.6-3.5-2.5-5.4-2.3-.8-1.1 0-1.2-.4-1.2-3.6-4.6 .1-2.3 .8-1 .5-3.7-.2-3.5 3.2-6.9 0-2.4 .5-1.1 1.8-1.7 3.5-.9 3.5-2.3 2.1-.9M417.1 140.9l.3-.5 1.2 .2 1.2 1.4 .9 2.3-1 1.1-1.1-.4-1.2 .8-2.2 3.2-1.2 .3-1.2-.4-1.1-1.1-.4-1.1 .3-3.1 1.2-.8 4.6 2.1 .5-.6 0-1.1-.8-2.3"/></g></g>
<line x1="446" y1="142.6" x2="369.6" y2="161.3" stroke="#000" stroke-width="2"/>
<circle cx="446.1" cy="142.7" r="19.4" fill="none" stroke="#f01414" stroke-width="2"/>
<rect x="330.6" y="26.9" width="230.4" height="231.4" fill="none" stroke="#999" stroke-width="0.8"/>
<path d="M368.9 258.3v3.3M368.9 26.9v-3.3M330.6 219.7h-3.3M561.0 219.7h3.3M407.4 258.3v3.3M407.4 26.9v-3.3M330.6 181.1h-3.3M561.0 181.1h3.3M445.8 258.3v3.3M445.8 26.9v-3.3M330.6 142.6h-3.3M561.0 142.6h3.3M484.2 258.3v3.3M484.2 26.9v-3.3M330.6 104.0h-3.3M561.0 104.0h3.3M522.6 258.3v3.3M522.6 26.9v-3.3M330.6 65.5h-3.3M561.0 65.5h3.3" stroke="#222" stroke-width="0.8" fill="none"/>
<text x="368.9" y="272.9" class="dj" text-anchor="middle">−1000</text>
<text x="322" y="222.9" class="dj" text-anchor="end">−1000</text>
<text x="407.4" y="272.9" class="dj" text-anchor="middle">−500</text>
<text x="322" y="184.3" class="dj" text-anchor="end">−500</text>
<text x="445.8" y="272.9" class="dj" text-anchor="middle">0</text>
<text x="322" y="145.8" class="dj" text-anchor="end">0</text>
<text x="484.2" y="272.9" class="dj" text-anchor="middle">500</text>
<text x="322" y="107.2" class="dj" text-anchor="end">500</text>
<text x="522.6" y="272.9" class="dj" text-anchor="middle">1000</text>
<text x="322" y="68.7" class="dj" text-anchor="end">1000</text>
<text x="451.5" y="288.5" class="ser" text-anchor="middle">x, arcmin</text>
<text transform="translate(295.2 140.5) rotate(-90)" class="ser" text-anchor="middle">y, arcmin</text>
<text x="455.5" y="319.8" class="ser" style="font-size:13.6px" text-anchor="middle">(b)</text>
<rect x="575.4" y="269.28" width="13.6" height="14.42" fill="#f0f9fd"/>
<rect x="575.4" y="255.17" width="13.6" height="14.42" fill="#e2f4fa"/>
<rect x="575.4" y="241.05" width="13.6" height="14.42" fill="#d2eef8"/>
<rect x="575.4" y="226.94" width="13.6" height="14.42" fill="#bfe6f5"/>
<rect x="575.4" y="212.82" width="13.6" height="14.42" fill="#aadff2"/>
<rect x="575.4" y="198.71" width="13.6" height="14.42" fill="#95d8ef"/>
<rect x="575.4" y="184.59" width="13.6" height="14.42" fill="#6ccfe9"/>
<rect x="575.4" y="170.47" width="13.6" height="14.42" fill="#3cc4e4"/>
<rect x="575.4" y="156.36" width="13.6" height="14.42" fill="#12b8de"/>
<rect x="575.4" y="142.24" width="13.6" height="14.42" fill="#0bb2dc"/>
<rect x="575.4" y="128.13" width="13.6" height="14.42" fill="#0aabd8"/>
<rect x="575.4" y="114.01" width="13.6" height="14.42" fill="#05a0d0"/>
<rect x="575.4" y="99.89" width="13.6" height="14.42" fill="#0590c8"/>
<rect x="575.4" y="85.78" width="13.6" height="14.42" fill="#0480c0"/>
<rect x="575.4" y="71.66" width="13.6" height="14.42" fill="#0570b8"/>
<rect x="575.4" y="57.55" width="13.6" height="14.42" fill="#0765b2"/>
<rect x="575.4" y="43.43" width="13.6" height="14.42" fill="#0958a7"/>
<rect x="575.4" y="29.32" width="13.6" height="14.42" fill="#0a4b99"/>
<rect x="575.4" y="15.20" width="13.6" height="14.42" fill="#0a3d8a"/>
<path d="M575.4 15.5L582.20 1.5L589.0 15.5Z" fill="#09317c"/>
<path d="M575.4 15.2L582.20 1.5L589.0 15.2V283.4H575.4Z" fill="none" stroke="#999" stroke-width="0.8"/>
<text x="594" y="287.0" class="dj">0.0000</text>
<text x="594" y="258.8" class="dj">0.0001</text>
<text x="594" y="230.5" class="dj">0.0002</text>
<text x="594" y="202.3" class="dj">0.0003</text>
<text x="594" y="174.1" class="dj">0.0004</text>
<text x="594" y="145.8" class="dj">0.0005</text>
<text x="594" y="117.6" class="dj">0.0006</text>
<text x="594" y="89.4" class="dj">0.0007</text>
<text x="594" y="61.1" class="dj">0.0008</text>
<text x="594" y="32.9" class="dj">0.0009</text>
<path d="M589.0 283.4h3.3M589.0 255.2h3.3M589.0 226.9h3.3M589.0 198.7h3.3M589.0 170.5h3.3M589.0 142.2h3.3M589.0 114.0h3.3M589.0 85.8h3.3M589.0 57.5h3.3M589.0 29.3h3.3" stroke="#222" stroke-width="0.8"/>
</svg>
</body></html>
